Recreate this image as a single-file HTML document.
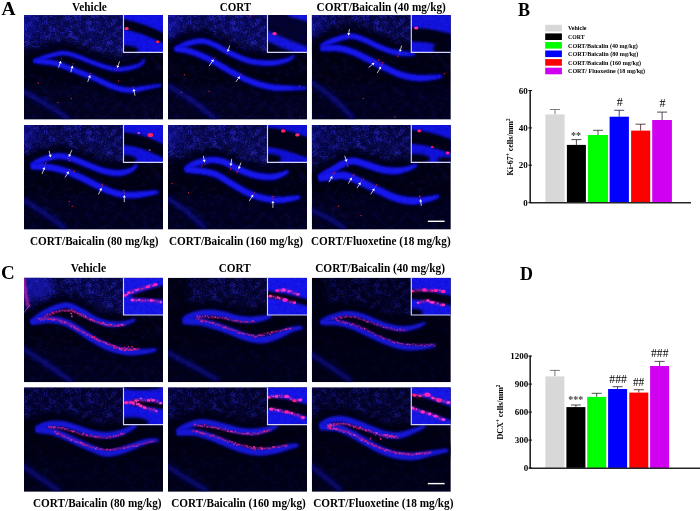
<!DOCTYPE html>
<html lang="en"><head><meta charset="utf-8"><title>Figure</title>
<style>html,body{margin:0;padding:0;background:#fff}svg{display:block}text{font-family:"Liberation Serif","Times New Roman",serif}</style></head><body>
<svg width="700" height="511" viewBox="0 0 700 511">
<defs>
<clipPath id="pc"><rect width="139.0" height="104.5"/></clipPath>
<clipPath id="ic"><rect width="40.0" height="37.5"/></clipPath>
<filter id="b03" filterUnits="userSpaceOnUse" x="-40" y="-40" width="240" height="200"><feGaussianBlur stdDeviation="0.3"/></filter>
<filter id="b05" filterUnits="userSpaceOnUse" x="-40" y="-40" width="240" height="200"><feGaussianBlur stdDeviation="0.5"/></filter>
<filter id="b07" filterUnits="userSpaceOnUse" x="-40" y="-40" width="240" height="200"><feGaussianBlur stdDeviation="0.7"/></filter>
<filter id="b08" filterUnits="userSpaceOnUse" x="-40" y="-40" width="240" height="200"><feGaussianBlur stdDeviation="0.8"/></filter>
<filter id="b1" filterUnits="userSpaceOnUse" x="-40" y="-40" width="240" height="200"><feGaussianBlur stdDeviation="1.0"/></filter>
<filter id="b15" filterUnits="userSpaceOnUse" x="-40" y="-40" width="240" height="200"><feGaussianBlur stdDeviation="1.5"/></filter>
<filter id="b2" filterUnits="userSpaceOnUse" x="-40" y="-40" width="240" height="200"><feGaussianBlur stdDeviation="2"/></filter>
<filter id="b3" filterUnits="userSpaceOnUse" x="-40" y="-40" width="240" height="200"><feGaussianBlur stdDeviation="3"/></filter>
<filter id="b4" filterUnits="userSpaceOnUse" x="-40" y="-40" width="240" height="200"><feGaussianBlur stdDeviation="4.5"/></filter>
<filter id="nz" x="0" y="0" width="100%" height="100%"><feTurbulence type="fractalNoise" baseFrequency="0.16" numOctaves="2" seed="7" result="a"/><feTurbulence type="fractalNoise" baseFrequency="0.8" numOctaves="1" seed="11" result="b"/><feComposite in="a" in2="b" operator="arithmetic" k1="0" k2="0.5" k3="0.5" k4="0" result="c"/><feColorMatrix in="c" type="matrix" values="0 0 0 0 0.02  0 0 0 0 0.02  0 0 0 0 0.55  4.2 0 0 0 -1.95"/></filter>
<filter id="nzi" x="0" y="0" width="100%" height="100%"><feTurbulence type="fractalNoise" baseFrequency="0.35" numOctaves="2" seed="3"/><feColorMatrix type="matrix" values="0 0 0 0 0.0  0 0 0 0 0.0  0 0 0 0 0.35  2.2 0 0 0 -0.9"/></filter>
</defs>
<rect width="700" height="511" fill="#fff"/>
<g transform="translate(24.0,15.1)" clip-path="url(#pc)">
<rect width="139.0" height="104.5" fill="#010112"/>
<mask id="mA1" maskUnits="userSpaceOnUse" x="0" y="0" width="139.0" height="104.5"><rect width="139.0" height="104.5" fill="#3a3a3a"/><path d="M-5.0 37.0C-2.5 36.5 5.0 35.3 10.0 34.0C15.0 32.7 20.0 30.3 25.0 29.0C30.0 27.7 35.0 25.8 40.0 26.0C45.0 26.2 50.0 28.3 55.0 30.0C60.0 31.7 64.2 34.0 70.0 36.0C75.8 38.0 84.2 41.2 90.0 42.0C95.8 42.8 100.5 41.8 105.0 41.0C109.5 40.2 114.5 38.5 117.0 37.0C119.5 35.5 115.5 33.8 120.0 32.0C124.5 30.2 140.0 32.2 144.0 26.0C148.0 19.8 168.8 0.2 144.0 -5.0C119.2 -10.2 19.8 -5.0 -5.0 -5.0Z" fill="#fff" filter="url(#b3)"/></mask>
<path d="M-5.0 37.0C-2.5 36.5 5.0 35.3 10.0 34.0C15.0 32.7 20.0 30.3 25.0 29.0C30.0 27.7 35.0 25.8 40.0 26.0C45.0 26.2 50.0 28.3 55.0 30.0C60.0 31.7 64.2 34.0 70.0 36.0C75.8 38.0 84.2 41.2 90.0 42.0C95.8 42.8 100.5 41.8 105.0 41.0C109.5 40.2 114.5 38.5 117.0 37.0C119.5 35.5 115.5 33.8 120.0 32.0C124.5 30.2 140.0 32.2 144.0 26.0C148.0 19.8 168.8 0.2 144.0 -5.0C119.2 -10.2 19.8 -5.0 -5.0 -5.0Z" fill="#08087c" opacity="0.54" filter="url(#b4)"/>
<ellipse cx="3" cy="8" rx="9" ry="14" fill="#1010a8" opacity="0.60" filter="url(#b4)"/>
<rect x="-5" y="70.5" width="149.0" height="40" fill="#070760" opacity="0.17" filter="url(#b4)"/>
<path d="M-2.0 76.0C1.7 78.0 12.2 83.3 20.0 88.0C27.8 92.7 40.8 101.3 45.0 104.0" stroke="#1010a8" stroke-width="4.5" fill="none" opacity="0.75" filter="url(#b2)"/>
<rect width="139.0" height="104.5" filter="url(#nz)" mask="url(#mA1)" opacity="0.91"/>
<path d="M10.0 46.0C12.5 45.2 20.0 42.3 25.0 41.0C30.0 39.7 35.0 37.8 40.0 38.0C45.0 38.2 50.0 40.3 55.0 42.0C60.0 43.7 64.2 46.0 70.0 48.0C75.8 50.0 84.2 53.2 90.0 54.0C95.8 54.8 100.5 53.8 105.0 53.0C109.5 52.2 114.5 50.5 117.0 49.0C119.5 47.5 119.5 44.8 120.0 44.0" stroke="#020216" stroke-width="15" fill="none" opacity="0.8" stroke-linecap="round" filter="url(#b3)"/>
<path d="M10.0 46.0C13.3 46.3 23.3 46.5 30.0 48.0C36.7 49.5 43.3 52.5 50.0 55.0C56.7 57.5 63.3 60.2 70.0 63.0C76.7 65.8 84.2 70.0 90.0 72.0C95.8 74.0 100.0 74.8 105.0 75.0C110.0 75.2 114.7 73.8 120.0 73.0C125.3 72.2 134.2 70.5 137.0 70.0" stroke="#020216" stroke-width="15" fill="none" opacity="0.8" stroke-linecap="round" filter="url(#b3)"/>
<path d="M10.7 48.1L12.4 47.7L14.8 47.1L17.5 46.4L20.4 45.5L23.2 44.6L25.8 43.8L28.3 43.1L30.8 42.4L33.2 41.8L35.5 41.3L37.7 41.0L39.9 40.9L42.1 41.2L44.3 41.6L46.6 42.3L49.1 43.1L51.5 43.9L54.0 44.8L56.4 45.6L58.7 46.6L61.0 47.6L63.5 48.6L66.1 49.7L69.0 50.8L72.1 51.9L75.5 53.1L79.1 54.2L82.7 55.4L86.2 56.3L89.6 56.9L92.7 57.2L95.6 57.2L98.3 57.1L100.8 56.7L103.2 56.3L105.6 55.9L107.9 55.3L110.3 54.6L112.6 53.8L114.7 52.9L116.6 52.0L118.3 51.0L119.7 49.8L120.6 48.4L121.2 47.0L121.4 45.9L121.5 45.1L121.6 44.6L118.4 43.4L118.0 44.0L117.7 44.8L117.3 45.5L116.9 46.1L116.5 46.6L115.7 47.0L114.5 47.5L112.8 48.1L110.9 48.7L108.8 49.2L106.6 49.7L104.4 50.1L102.2 50.5L100.0 50.9L97.7 51.2L95.4 51.3L93.0 51.3L90.4 51.1L87.6 50.5L84.3 49.7L80.9 48.6L77.4 47.5L74.1 46.3L71.0 45.2L68.3 44.2L65.8 43.2L63.4 42.2L61.0 41.1L58.5 40.1L56.0 39.2L53.5 38.4L50.9 37.5L48.4 36.6L45.7 35.9L42.9 35.3L40.1 35.1L37.3 35.1L34.5 35.5L31.8 36.1L29.2 36.7L26.7 37.5L24.2 38.2L21.5 39.0L18.5 39.9L15.6 41.0L13.0 42.2L10.8 43.2L9.3 43.9Z" fill="#0e0eb0" opacity="0.4" filter="url(#b15)"/>
<path d="M10.3 47.0L12.0 46.6L14.3 45.9L17.1 45.1L20.0 44.3L22.8 43.4L25.5 42.6L27.9 41.9L30.4 41.2L32.9 40.5L35.3 40.0L37.6 39.7L39.9 39.6L42.3 39.9L44.6 40.3L47.0 41.0L49.5 41.8L52.0 42.7L54.4 43.6L56.8 44.4L59.2 45.4L61.5 46.4L64.0 47.4L66.6 48.5L69.4 49.6L72.6 50.6L75.9 51.8L79.5 53.0L83.1 54.1L86.5 55.0L89.8 55.6L92.7 55.9L95.5 55.9L98.2 55.8L100.7 55.4L103.0 55.0L105.3 54.6L107.6 54.1L110.0 53.4L112.2 52.6L114.3 51.8L116.1 50.9L117.6 50.0L118.8 48.9L119.6 47.7L120.1 46.6L120.3 45.6L120.5 44.8L120.6 44.2L119.4 43.8L119.1 44.3L118.8 45.1L118.4 45.9L117.9 46.7L117.3 47.4L116.4 48.0L115.0 48.6L113.3 49.3L111.3 49.9L109.1 50.5L106.9 51.0L104.7 51.4L102.4 51.8L100.2 52.2L97.8 52.5L95.4 52.6L92.9 52.6L90.2 52.4L87.3 51.8L84.0 50.9L80.5 49.9L77.0 48.7L73.6 47.5L70.6 46.4L67.8 45.4L65.3 44.4L62.8 43.4L60.5 42.3L58.0 41.3L55.6 40.4L53.0 39.6L50.5 38.7L48.0 37.9L45.4 37.1L42.7 36.6L40.1 36.4L37.4 36.4L34.7 36.8L32.1 37.3L29.6 38.0L27.1 38.7L24.5 39.4L21.8 40.2L18.9 41.1L16.1 42.2L13.4 43.3L11.2 44.3L9.7 45.0Z" fill="#1414ee" stroke="#1414ee" stroke-width="0.8" stroke-linejoin="round" filter="url(#b08)"/>
<path d="M9.8 48.5L12.0 49.0L15.0 49.4L18.5 49.9L22.2 50.3L25.9 50.8L29.3 51.4L32.4 52.2L35.6 53.2L38.8 54.4L42.1 55.6L45.4 56.9L48.8 58.2L52.1 59.5L55.4 60.8L58.7 62.1L62.0 63.4L65.3 64.8L68.6 66.2L72.0 67.6L75.4 69.3L78.8 70.9L82.3 72.5L85.6 74.0L88.8 75.3L91.8 76.2L94.5 77.0L97.1 77.6L99.7 78.0L102.3 78.3L104.9 78.4L107.7 78.4L110.3 78.2L112.9 77.6L115.4 77.0L117.9 76.4L120.5 75.8L123.4 75.2L126.6 74.5L129.9 73.7L132.9 73.0L135.5 72.4L137.3 71.9L136.7 68.1L134.8 68.3L132.1 68.6L129.0 69.0L125.7 69.5L122.5 69.9L119.5 70.2L116.9 70.5L114.3 70.8L111.8 71.1L109.5 71.3L107.3 71.5L105.1 71.6L102.8 71.4L100.7 71.2L98.5 70.8L96.2 70.3L93.8 69.6L91.2 68.7L88.3 67.6L85.1 66.3L81.8 64.7L78.3 63.0L74.8 61.4L71.4 59.8L68.0 58.4L64.6 57.0L61.3 55.7L57.9 54.3L54.6 53.0L51.2 51.8L47.9 50.5L44.6 49.2L41.2 47.9L37.8 46.7L34.3 45.6L30.7 44.6L26.9 43.9L22.9 43.5L19.0 43.2L15.4 43.2L12.4 43.4L10.2 43.5Z" fill="#0e0eb0" opacity="0.4" filter="url(#b15)"/>
<path d="M9.9 47.3L12.1 47.7L15.1 48.2L18.6 48.7L22.4 49.0L26.1 49.5L29.5 50.1L32.7 50.9L36.0 52.0L39.2 53.1L42.6 54.4L45.9 55.7L49.2 57.0L52.6 58.3L55.9 59.6L59.2 60.9L62.5 62.2L65.8 63.6L69.1 65.0L72.5 66.5L75.9 68.1L79.4 69.8L82.8 71.4L86.1 72.8L89.3 74.0L92.2 75.0L94.8 75.7L97.4 76.3L99.9 76.7L102.4 77.0L105.0 77.1L107.6 77.1L110.2 76.9L112.7 76.4L115.2 75.8L117.7 75.2L120.3 74.6L123.2 74.0L126.4 73.3L129.7 72.6L132.7 71.9L135.3 71.3L137.1 70.8L136.9 69.2L135.0 69.4L132.3 69.7L129.2 70.2L125.9 70.6L122.7 71.1L119.7 71.4L117.1 71.7L114.5 72.1L112.0 72.4L109.7 72.6L107.4 72.8L105.0 72.9L102.7 72.7L100.5 72.5L98.2 72.1L95.9 71.5L93.4 70.8L90.7 70.0L87.8 68.8L84.6 67.5L81.2 65.9L77.8 64.2L74.3 62.6L70.9 61.0L67.5 59.6L64.1 58.2L60.8 56.9L57.5 55.6L54.1 54.3L50.8 53.0L47.4 51.7L44.1 50.4L40.8 49.1L37.4 47.9L33.9 46.8L30.5 45.9L26.8 45.2L22.8 44.8L18.9 44.5L15.3 44.5L12.3 44.6L10.1 44.7Z" fill="#1414ee" stroke="#1414ee" stroke-width="0.8" stroke-linejoin="round" filter="url(#b08)"/>
<circle cx="14.4" cy="67.8" r="0.75" fill="#f02020" opacity="0.85"/>
<circle cx="33.9" cy="87.4" r="0.75" fill="#f02020" opacity="0.85"/>
<circle cx="94.6" cy="65.8" r="0.75" fill="#f02020" opacity="0.85"/>
<circle cx="47.3" cy="83.3" r="0.75" fill="#f02020" opacity="0.85"/>
<path d="M34.5 52.4L36.1 48.1" stroke="#fff" stroke-width="0.75"/>
<path d="M37.0 45.6L37.5 48.6L34.7 47.6Z" fill="#fff"/>
<circle cx="37.6" cy="43.9" r="0.65" fill="#c82048" opacity="0.8"/>
<path d="M46.7 57.2L48.0 52.9" stroke="#fff" stroke-width="0.75"/>
<path d="M48.7 50.4L49.4 53.3L46.5 52.4Z" fill="#fff"/>
<circle cx="49.2" cy="48.6" r="0.65" fill="#c82048" opacity="0.8"/>
<path d="M63.7 66.8L65.3 62.5" stroke="#fff" stroke-width="0.75"/>
<path d="M66.2 60.0L66.7 63.0L63.9 62.0Z" fill="#fff"/>
<circle cx="66.8" cy="58.3" r="0.65" fill="#c82048" opacity="0.8"/>
<path d="M95.6 46.3L94.0 50.6" stroke="#fff" stroke-width="0.75"/>
<path d="M93.1 53.0L92.6 50.1L95.4 51.1Z" fill="#fff"/>
<circle cx="92.5" cy="54.7" r="0.65" fill="#c82048" opacity="0.8"/>
<path d="M111.0 80.6L110.1 76.1" stroke="#fff" stroke-width="0.75"/>
<path d="M109.6 73.6L111.6 75.8L108.6 76.5Z" fill="#fff"/>
<circle cx="109.2" cy="71.8" r="0.65" fill="#c82048" opacity="0.8"/>
<g transform="translate(99.0,0)">
<g clip-path="url(#ic)">
<rect width="40.0" height="37.5" fill="#1212e8"/>
<rect width="40.0" height="37.5" filter="url(#nzi)" opacity="0.35"/>
<path d="M-4.9 7.6C-4.3 7.7 -5.1 7.5 -1.0 8.6C3.1 9.7 12.8 11.9 19.7 14.2C26.6 16.6 36.3 21.2 40.3 22.8C44.4 24.5 43.4 24.1 44.0 24.4" stroke="#020216" stroke-width="9.5" fill="none" filter="url(#b1)"/>
<ellipse cx="3.3" cy="35.3" rx="12.0" ry="5.0" fill="#020216" filter="url(#b15)"/>
<ellipse cx="3.7" cy="13.4" rx="2.1" ry="1.5" fill="#ff2a6a" filter="url(#b07)"/>
<ellipse cx="34.7" cy="26.7" rx="1.8" ry="1.4" fill="#ff2030" filter="url(#b07)"/>
</g>
<path d="M0.5 0V37.3H40.0" stroke="#d4d4f6" stroke-width="1.15" fill="none"/>
</g>
</g>
<g transform="translate(168.0,15.1)" clip-path="url(#pc)">
<rect width="139.0" height="104.5" fill="#010112"/>
<mask id="mA2" maskUnits="userSpaceOnUse" x="0" y="0" width="139.0" height="104.5"><rect width="139.0" height="104.5" fill="#3a3a3a"/><path d="M-5.0 25.0C-3.0 24.5 2.7 23.5 7.0 22.0C11.3 20.5 16.3 17.3 21.0 16.0C25.7 14.7 30.7 13.7 35.0 14.0C39.3 14.3 42.5 16.0 47.0 18.0C51.5 20.0 56.2 23.3 62.0 26.0C67.8 28.7 75.2 32.3 82.0 34.0C88.8 35.7 96.8 36.2 103.0 36.0C109.2 35.8 115.2 34.2 119.0 33.0C122.8 31.8 121.8 30.7 126.0 29.0C130.2 27.3 141.0 28.7 144.0 23.0C147.0 17.3 168.8 -0.3 144.0 -5.0C119.2 -9.7 19.8 -5.0 -5.0 -5.0Z" fill="#fff" filter="url(#b3)"/></mask>
<path d="M-5.0 25.0C-3.0 24.5 2.7 23.5 7.0 22.0C11.3 20.5 16.3 17.3 21.0 16.0C25.7 14.7 30.7 13.7 35.0 14.0C39.3 14.3 42.5 16.0 47.0 18.0C51.5 20.0 56.2 23.3 62.0 26.0C67.8 28.7 75.2 32.3 82.0 34.0C88.8 35.7 96.8 36.2 103.0 36.0C109.2 35.8 115.2 34.2 119.0 33.0C122.8 31.8 121.8 30.7 126.0 29.0C130.2 27.3 141.0 28.7 144.0 23.0C147.0 17.3 168.8 -0.3 144.0 -5.0C119.2 -9.7 19.8 -5.0 -5.0 -5.0Z" fill="#08087c" opacity="0.58" filter="url(#b4)"/>
<ellipse cx="3" cy="8" rx="9" ry="14" fill="#1010a8" opacity="0.64" filter="url(#b4)"/>
<rect x="-5" y="70.5" width="149.0" height="40" fill="#070760" opacity="0.18" filter="url(#b4)"/>
<path d="M-2.0 69.0C2.0 71.5 13.7 78.2 22.0 84.0C30.3 89.8 43.7 100.7 48.0 104.0" stroke="#1010a8" stroke-width="4.5" fill="none" opacity="0.75" filter="url(#b2)"/>
<rect width="139.0" height="104.5" filter="url(#nz)" mask="url(#mA2)" opacity="0.95"/>
<path d="M7.0 34.0C9.3 33.0 16.3 29.3 21.0 28.0C25.7 26.7 30.7 25.7 35.0 26.0C39.3 26.3 42.5 28.0 47.0 30.0C51.5 32.0 56.2 35.3 62.0 38.0C67.8 40.7 75.2 44.3 82.0 46.0C88.8 47.7 96.8 48.2 103.0 48.0C109.2 47.8 115.2 46.2 119.0 45.0C122.8 43.8 124.8 41.7 126.0 41.0" stroke="#020216" stroke-width="15" fill="none" opacity="0.8" stroke-linecap="round" filter="url(#b3)"/>
<path d="M7.0 34.0C9.3 34.3 15.3 34.3 21.0 36.0C26.7 37.7 34.2 40.7 41.0 44.0C47.8 47.3 55.2 52.3 62.0 56.0C68.8 59.7 75.2 63.3 82.0 66.0C88.8 68.7 96.2 70.8 103.0 72.0C109.8 73.2 117.2 72.8 123.0 73.0C128.8 73.2 135.5 73.0 138.0 73.0" stroke="#020216" stroke-width="15" fill="none" opacity="0.8" stroke-linecap="round" filter="url(#b3)"/>
<path d="M8.1 36.3L9.7 35.8L11.9 35.0L14.5 34.1L17.2 33.1L19.7 32.1L22.0 31.3L24.2 30.7L26.4 30.2L28.7 29.8L30.8 29.5L32.8 29.4L34.7 29.4L36.5 29.7L38.1 30.1L39.7 30.6L41.5 31.3L43.4 32.2L45.5 33.1L47.7 34.2L49.9 35.4L52.3 36.7L54.8 38.2L57.6 39.7L60.5 41.1L63.6 42.5L66.8 44.0L70.3 45.6L73.8 47.0L77.5 48.3L81.2 49.3L84.9 50.1L88.7 50.7L92.5 51.1L96.2 51.4L99.7 51.5L103.1 51.4L106.4 51.2L109.5 50.6L112.5 49.9L115.2 49.2L117.7 48.4L119.9 47.6L121.8 46.7L123.5 45.7L124.8 44.7L125.8 43.8L126.6 43.1L127.1 42.6L124.9 39.4L124.1 39.8L123.2 40.3L122.2 40.9L121.1 41.4L119.7 42.0L118.1 42.4L116.1 42.9L113.8 43.4L111.2 43.8L108.5 44.2L105.7 44.4L102.9 44.6L99.8 44.6L96.5 44.5L93.0 44.3L89.6 43.9L86.1 43.3L82.8 42.7L79.6 41.7L76.3 40.6L73.0 39.2L69.7 37.7L66.5 36.3L63.5 34.9L60.8 33.6L58.2 32.2L55.7 30.8L53.3 29.4L50.9 28.0L48.5 26.9L46.3 25.9L44.2 25.0L42.1 24.1L40.0 23.4L37.7 22.9L35.3 22.6L32.7 22.5L30.2 22.6L27.6 23.0L25.0 23.4L22.5 24.0L20.0 24.7L17.3 25.6L14.5 26.8L11.8 28.1L9.3 29.6L7.3 30.8L5.9 31.7Z" fill="#0e0eb0" opacity="0.4" filter="url(#b15)"/>
<path d="M7.6 35.2L9.2 34.7L11.4 33.9L14.0 32.9L16.7 31.9L19.3 30.9L21.6 30.1L23.9 29.5L26.2 28.9L28.5 28.5L30.7 28.2L32.8 28.1L34.8 28.1L36.7 28.4L38.4 28.8L40.2 29.4L42.0 30.1L44.0 31.0L46.1 31.9L48.3 33.0L50.5 34.2L52.9 35.6L55.5 37.1L58.2 38.5L61.1 39.9L64.1 41.4L67.4 42.8L70.8 44.4L74.3 45.8L77.9 47.1L81.5 48.1L85.1 48.9L88.8 49.4L92.6 49.8L96.2 50.1L99.8 50.2L103.1 50.1L106.3 49.9L109.3 49.4L112.3 48.7L114.9 48.0L117.4 47.2L119.5 46.4L121.3 45.6L122.9 44.7L124.2 43.8L125.1 42.9L125.9 42.2L126.5 41.7L125.5 40.3L124.8 40.7L123.9 41.2L122.8 41.8L121.6 42.5L120.2 43.1L118.5 43.6L116.5 44.0L114.1 44.6L111.5 45.0L108.7 45.5L105.9 45.7L102.9 45.9L99.8 45.9L96.4 45.8L92.9 45.5L89.4 45.2L85.9 44.6L82.5 43.9L79.2 43.0L75.8 41.8L72.5 40.4L69.1 38.9L65.9 37.5L62.9 36.1L60.2 34.7L57.6 33.3L55.1 31.9L52.6 30.5L50.3 29.2L47.9 28.1L45.7 27.1L43.7 26.2L41.7 25.4L39.6 24.7L37.5 24.2L35.2 23.9L32.7 23.8L30.3 23.9L27.8 24.3L25.3 24.7L22.8 25.3L20.4 25.9L17.8 26.8L15.0 27.9L12.3 29.3L9.9 30.7L7.9 31.9L6.4 32.8Z" fill="#1414ee" stroke="#1414ee" stroke-width="0.8" stroke-linejoin="round" filter="url(#b08)"/>
<path d="M6.7 36.7L8.2 37.1L10.1 37.6L12.4 38.1L14.8 38.5L17.4 38.9L20.0 39.6L22.8 40.4L25.9 41.5L29.2 42.8L32.6 44.2L36.0 45.7L39.4 47.3L42.7 49.0L46.1 51.0L49.6 53.1L53.1 55.2L56.7 57.3L60.2 59.2L63.6 61.1L67.0 62.9L70.3 64.7L73.7 66.4L77.1 68.0L80.6 69.4L84.2 70.8L87.8 72.0L91.5 73.1L95.1 74.1L98.8 75.0L102.4 75.7L106.1 76.1L109.7 76.4L113.3 76.4L116.7 76.3L119.9 76.1L122.9 76.0L125.9 75.9L128.9 75.8L131.8 75.6L134.3 75.4L136.4 75.2L138.0 75.0L138.0 71.0L136.4 70.8L134.3 70.7L131.7 70.5L128.9 70.4L126.0 70.2L123.1 70.0L120.0 69.8L116.8 69.6L113.5 69.3L110.1 69.0L106.8 68.8L103.6 68.3L100.3 67.7L96.9 66.9L93.5 66.0L90.1 65.0L86.7 63.8L83.4 62.6L80.1 61.2L76.9 59.7L73.7 58.1L70.5 56.4L67.1 54.6L63.8 52.8L60.4 50.9L56.9 48.8L53.4 46.7L49.8 44.6L46.2 42.5L42.6 40.7L39.1 39.0L35.5 37.4L31.9 35.9L28.5 34.6L25.2 33.4L22.0 32.4L18.9 31.7L15.9 31.2L13.1 30.9L10.7 31.0L8.7 31.2L7.3 31.3Z" fill="#0e0eb0" opacity="0.4" filter="url(#b15)"/>
<path d="M6.8 35.5L8.3 35.9L10.2 36.3L12.5 36.8L15.0 37.2L17.7 37.6L20.3 38.3L23.2 39.2L26.4 40.3L29.7 41.6L33.1 43.0L36.5 44.5L39.9 46.2L43.3 47.9L46.8 49.9L50.3 51.9L53.8 54.1L57.4 56.2L60.8 58.1L64.2 59.9L67.6 61.7L70.9 63.5L74.2 65.2L77.7 66.8L81.1 68.2L84.6 69.6L88.2 70.8L91.8 71.9L95.5 72.8L99.0 73.7L102.6 74.4L106.2 74.9L109.8 75.1L113.3 75.1L116.7 75.0L119.9 74.9L123.0 74.8L125.9 74.7L128.9 74.6L131.8 74.4L134.3 74.2L136.4 74.1L138.0 73.9L138.0 72.1L136.4 72.0L134.3 71.8L131.7 71.7L128.9 71.6L126.0 71.4L123.0 71.2L120.0 71.0L116.8 70.8L113.4 70.6L110.1 70.3L106.7 70.1L103.4 69.6L100.0 69.0L96.6 68.2L93.2 67.3L89.7 66.2L86.3 65.0L82.9 63.8L79.6 62.4L76.3 60.9L73.1 59.2L69.8 57.5L66.5 55.7L63.2 53.9L59.7 52.0L56.3 49.9L52.7 47.8L49.2 45.7L45.6 43.7L42.1 41.8L38.5 40.2L35.0 38.6L31.5 37.1L28.0 35.8L24.7 34.7L21.7 33.7L18.7 32.9L15.7 32.4L13.0 32.2L10.6 32.2L8.6 32.4L7.2 32.5Z" fill="#1414ee" stroke="#1414ee" stroke-width="0.8" stroke-linejoin="round" filter="url(#b08)"/>
<circle cx="16.4" cy="59.6" r="0.75" fill="#f02020" opacity="0.85"/>
<circle cx="41.1" cy="76.1" r="0.75" fill="#f02020" opacity="0.85"/>
<circle cx="13.4" cy="77.1" r="0.75" fill="#f02020" opacity="0.85"/>
<circle cx="82.2" cy="1.0" r="0.75" fill="#f02020" opacity="0.85"/>
<circle cx="131.6" cy="70.9" r="0.75" fill="#f02020" opacity="0.85"/>
<path d="M61.7 30.4L60.4 34.5" stroke="#fff" stroke-width="0.75"/>
<path d="M59.6 37.0L59.0 34.1L61.8 35.0Z" fill="#fff"/>
<circle cx="59.1" cy="38.7" r="0.65" fill="#c82048" opacity="0.8"/>
<path d="M41.1 51.0L44.2 46.4" stroke="#fff" stroke-width="0.75"/>
<path d="M45.6 44.2L45.4 47.2L43.0 45.5Z" fill="#fff"/>
<circle cx="46.6" cy="42.7" r="0.65" fill="#c82048" opacity="0.8"/>
<path d="M67.8 66.8L70.4 63.2" stroke="#fff" stroke-width="0.75"/>
<path d="M72.0 61.1L71.7 64.0L69.2 62.3Z" fill="#fff"/>
<circle cx="73.0" cy="59.6" r="0.65" fill="#c82048" opacity="0.8"/>
<g transform="translate(99.0,0)">
<g clip-path="url(#ic)">
<rect width="40.0" height="37.5" fill="#030326"/>
<path d="M-3.4 19.1C-2.8 19.3 -3.3 19.1 0.3 20.7C3.8 22.3 11.4 25.8 17.9 28.4C24.4 31.1 35.1 35.0 39.2 36.6C43.4 38.2 42.3 37.8 43.0 38.1" stroke="#1414e6" stroke-width="9.5" fill="none" filter="url(#b15)"/>
<path d="M21.0 -2.9C21.6 -2.7 21.8 -2.6 24.8 -1.7C27.9 -0.8 36.2 1.7 39.2 2.6C42.3 3.5 42.4 3.5 43.1 3.7" stroke="#1414e6" stroke-width="7.0" fill="none" filter="url(#b15)"/>
<rect width="40.0" height="37.5" filter="url(#nzi)" opacity="0.35"/>
<ellipse cx="1.6" cy="34.9" rx="8.0" ry="5.0" fill="#020216" filter="url(#b15)"/>
<ellipse cx="7.6" cy="18.5" rx="2.2" ry="1.6" fill="#ff2a8a" filter="url(#b07)"/>
</g>
<path d="M0.5 0V37.3H40.0" stroke="#d4d4f6" stroke-width="1.15" fill="none"/>
</g>
</g>
<g transform="translate(311.8,15.1)" clip-path="url(#pc)">
<rect width="139.0" height="104.5" fill="#010112"/>
<mask id="mA3" maskUnits="userSpaceOnUse" x="0" y="0" width="139.0" height="104.5"><rect width="139.0" height="104.5" fill="#3a3a3a"/><path d="M-5.0 22.0C-2.7 21.5 4.3 20.5 9.0 19.0C13.7 17.5 18.0 14.7 23.0 13.0C28.0 11.3 34.0 9.0 39.0 9.0C44.0 9.0 48.2 11.2 53.0 13.0C57.8 14.8 63.2 18.0 68.0 20.0C72.8 22.0 77.2 23.8 82.0 25.0C86.8 26.2 93.5 26.7 97.0 27.0C100.5 27.3 95.2 28.0 103.0 27.0C110.8 26.0 137.2 26.3 144.0 21.0C150.8 15.7 168.8 -0.7 144.0 -5.0C119.2 -9.3 19.8 -5.0 -5.0 -5.0Z" fill="#fff" filter="url(#b3)"/></mask>
<path d="M-5.0 22.0C-2.7 21.5 4.3 20.5 9.0 19.0C13.7 17.5 18.0 14.7 23.0 13.0C28.0 11.3 34.0 9.0 39.0 9.0C44.0 9.0 48.2 11.2 53.0 13.0C57.8 14.8 63.2 18.0 68.0 20.0C72.8 22.0 77.2 23.8 82.0 25.0C86.8 26.2 93.5 26.7 97.0 27.0C100.5 27.3 95.2 28.0 103.0 27.0C110.8 26.0 137.2 26.3 144.0 21.0C150.8 15.7 168.8 -0.7 144.0 -5.0C119.2 -9.3 19.8 -5.0 -5.0 -5.0Z" fill="#08087c" opacity="0.43" filter="url(#b4)"/>
<ellipse cx="3" cy="8" rx="9" ry="14" fill="#1010a8" opacity="0.48" filter="url(#b4)"/>
<rect x="-5" y="70.5" width="149.0" height="40" fill="#070760" opacity="0.13" filter="url(#b4)"/>
<path d="M-2.0 66.0C1.7 68.7 12.7 75.7 20.0 82.0C27.3 88.3 38.3 100.3 42.0 104.0" stroke="#1010a8" stroke-width="4.5" fill="none" opacity="0.75" filter="url(#b2)"/>
<rect width="139.0" height="104.5" filter="url(#nz)" mask="url(#mA3)" opacity="0.80"/>
<path d="M9.0 31.0C11.3 30.0 18.0 26.7 23.0 25.0C28.0 23.3 34.0 21.0 39.0 21.0C44.0 21.0 48.2 23.2 53.0 25.0C57.8 26.8 63.2 30.0 68.0 32.0C72.8 34.0 77.2 35.8 82.0 37.0C86.8 38.2 93.5 38.7 97.0 39.0C100.5 39.3 102.0 39.0 103.0 39.0" stroke="#020216" stroke-width="15" fill="none" opacity="0.8" stroke-linecap="round" filter="url(#b3)"/>
<path d="M9.0 34.0C11.7 33.8 19.7 32.5 25.0 33.0C30.3 33.5 35.5 35.0 41.0 37.0C46.5 39.0 52.5 42.3 58.0 45.0C63.5 47.7 68.7 50.5 74.0 53.0C79.3 55.5 84.5 58.3 90.0 60.0C95.5 61.7 101.5 62.7 107.0 63.0C112.5 63.3 119.2 62.3 123.0 62.0C126.8 61.7 128.8 61.2 130.0 61.0" stroke="#020216" stroke-width="15" fill="none" opacity="0.8" stroke-linecap="round" filter="url(#b3)"/>
<path d="M10.0 33.3L11.7 32.9L13.9 32.2L16.4 31.3L19.0 30.2L21.6 29.2L24.1 28.3L26.7 27.4L29.3 26.5L31.9 25.7L34.5 25.0L36.9 24.6L39.0 24.4L41.0 24.6L42.9 25.0L45.0 25.6L47.1 26.4L49.4 27.3L51.7 28.2L54.1 29.2L56.5 30.3L59.0 31.5L61.5 32.8L64.1 34.0L66.6 35.2L69.1 36.2L71.4 37.1L73.8 38.0L76.2 38.9L78.7 39.7L81.2 40.4L83.9 40.9L86.8 41.4L89.6 41.6L92.3 41.7L94.7 41.8L96.8 41.8L98.5 41.8L99.9 41.7L101.0 41.5L101.9 41.3L102.6 41.1L103.1 40.9L102.9 37.1L102.3 36.9L101.6 36.8L100.8 36.7L99.9 36.6L98.7 36.4L97.2 36.2L95.3 35.8L92.9 35.5L90.4 35.0L87.7 34.6L85.2 34.1L82.8 33.6L80.6 33.1L78.4 32.4L76.2 31.6L74.0 30.7L71.7 29.8L69.4 28.8L67.0 27.8L64.6 26.6L62.0 25.3L59.5 24.1L56.8 22.9L54.3 21.8L51.9 20.9L49.6 19.9L47.2 19.0L44.6 18.3L41.9 17.7L39.0 17.6L36.0 17.8L33.0 18.3L30.1 19.1L27.2 19.9L24.5 20.9L21.9 21.7L19.1 22.7L16.3 23.9L13.6 25.2L11.3 26.6L9.3 27.8L8.0 28.7Z" fill="#0e0eb0" opacity="0.4" filter="url(#b15)"/>
<path d="M9.5 32.2L11.2 31.8L13.3 31.0L15.9 30.2L18.5 29.1L21.2 28.0L23.7 27.0L26.3 26.2L28.9 25.3L31.6 24.4L34.2 23.8L36.7 23.3L39.0 23.1L41.2 23.3L43.3 23.7L45.4 24.4L47.6 25.2L49.8 26.1L52.2 27.0L54.6 28.0L57.0 29.1L59.5 30.4L62.1 31.6L64.6 32.9L67.2 34.0L69.6 35.0L71.9 35.9L74.3 36.8L76.6 37.7L79.0 38.4L81.5 39.1L84.2 39.6L87.0 40.1L89.8 40.3L92.4 40.5L94.8 40.6L96.9 40.6L98.5 40.6L99.9 40.5L101.0 40.3L101.9 40.2L102.5 40.0L103.0 39.8L103.0 38.2L102.4 38.1L101.7 38.0L100.9 37.9L99.9 37.8L98.7 37.6L97.1 37.4L95.2 37.1L92.8 36.7L90.2 36.3L87.6 35.8L84.9 35.4L82.5 34.9L80.2 34.3L78.0 33.6L75.7 32.8L73.5 31.9L71.2 31.0L68.8 30.0L66.4 29.0L64.0 27.8L61.5 26.5L58.9 25.2L56.3 24.0L53.8 23.0L51.4 22.1L49.1 21.1L46.7 20.3L44.3 19.5L41.7 19.0L39.0 18.9L36.2 19.0L33.3 19.6L30.4 20.3L27.6 21.2L24.9 22.1L22.3 23.0L19.6 23.9L16.8 25.1L14.1 26.3L11.8 27.7L9.8 28.9L8.5 29.8Z" fill="#1414ee" stroke="#1414ee" stroke-width="0.8" stroke-linejoin="round" filter="url(#b08)"/>
<path d="M9.3 36.8L11.1 37.0L13.5 37.0L16.4 37.0L19.3 36.9L22.1 36.8L24.7 36.9L27.1 37.2L29.5 37.7L31.9 38.3L34.5 39.0L37.0 39.8L39.6 40.7L42.3 41.7L45.0 43.0L47.8 44.3L50.6 45.7L53.4 47.2L56.2 48.5L59.0 49.9L61.6 51.2L64.3 52.6L66.9 53.9L69.6 55.3L72.3 56.6L74.9 57.8L77.6 59.1L80.3 60.4L83.1 61.6L85.9 62.8L88.8 63.8L91.8 64.6L94.8 65.3L97.8 65.9L100.8 66.4L103.8 66.7L106.8 66.9L109.9 66.9L112.9 66.7L115.9 66.3L118.7 65.9L121.2 65.4L123.3 65.1L125.1 64.7L126.6 64.4L127.9 64.0L128.9 63.7L129.7 63.4L130.3 63.1L129.7 58.9L128.9 58.9L128.1 58.9L127.1 58.9L125.9 58.9L124.4 58.9L122.7 58.9L120.5 59.0L118.0 59.1L115.3 59.2L112.5 59.2L109.8 59.2L107.2 59.1L104.6 58.8L101.9 58.5L99.2 58.1L96.5 57.6L93.8 57.0L91.2 56.2L88.6 55.4L86.1 54.4L83.6 53.2L81.0 52.0L78.4 50.7L75.7 49.4L73.1 48.2L70.5 46.9L67.9 45.5L65.2 44.2L62.5 42.8L59.8 41.5L57.0 40.1L54.1 38.7L51.2 37.2L48.3 35.8L45.3 34.5L42.4 33.3L39.5 32.3L36.7 31.4L33.9 30.6L31.1 29.9L28.3 29.4L25.3 29.1L22.1 28.9L18.8 29.1L15.6 29.5L12.8 30.1L10.4 30.7L8.7 31.2Z" fill="#0e0eb0" opacity="0.4" filter="url(#b15)"/>
<path d="M9.2 35.6L10.9 35.7L13.4 35.7L16.2 35.7L19.2 35.6L22.1 35.5L24.8 35.6L27.3 36.0L29.8 36.4L32.3 37.0L34.8 37.7L37.4 38.6L40.1 39.5L42.8 40.5L45.5 41.8L48.3 43.1L51.2 44.6L54.0 46.0L56.8 47.4L59.5 48.7L62.2 50.1L64.9 51.4L67.5 52.8L70.2 54.1L72.9 55.4L75.5 56.7L78.1 57.9L80.8 59.2L83.6 60.4L86.4 61.6L89.2 62.5L92.1 63.3L95.1 64.0L98.0 64.6L101.0 65.1L104.0 65.4L106.9 65.6L109.8 65.7L112.9 65.4L115.8 65.0L118.6 64.6L121.1 64.2L123.2 63.9L125.0 63.5L126.5 63.2L127.7 62.9L128.7 62.5L129.5 62.2L130.2 62.0L129.8 60.0L129.1 60.0L128.3 60.0L127.3 60.0L126.0 60.1L124.6 60.1L122.8 60.1L120.7 60.2L118.2 60.3L115.4 60.5L112.6 60.5L109.8 60.5L107.1 60.4L104.5 60.1L101.7 59.8L99.0 59.4L96.2 58.9L93.4 58.2L90.8 57.5L88.2 56.6L85.6 55.6L83.0 54.4L80.4 53.2L77.8 51.9L75.1 50.6L72.5 49.3L69.9 48.0L67.3 46.7L64.6 45.3L61.9 44.0L59.2 42.6L56.4 41.3L53.6 39.8L50.7 38.4L47.7 37.0L44.8 35.7L41.9 34.5L39.1 33.5L36.4 32.6L33.6 31.9L30.8 31.2L28.1 30.7L25.2 30.4L22.1 30.2L18.9 30.4L15.8 30.8L12.9 31.4L10.5 31.9L8.8 32.4Z" fill="#1414ee" stroke="#1414ee" stroke-width="0.8" stroke-linejoin="round" filter="url(#b08)"/>
<circle cx="66.8" cy="44.8" r="0.75" fill="#f02020" opacity="0.85"/>
<circle cx="70.9" cy="47.7" r="0.75" fill="#f02020" opacity="0.85"/>
<circle cx="86.3" cy="41.1" r="0.75" fill="#f02020" opacity="0.85"/>
<circle cx="51.4" cy="83.3" r="0.75" fill="#f02020" opacity="0.85"/>
<circle cx="132.6" cy="58.6" r="0.75" fill="#f02020" opacity="0.85"/>
<circle cx="83.3" cy="101.8" r="0.75" fill="#f02020" opacity="0.85"/>
<path d="M37.6 14.0L37.0 18.0" stroke="#fff" stroke-width="0.75"/>
<path d="M36.6 20.6L35.5 17.8L38.5 18.2Z" fill="#fff"/>
<circle cx="36.3" cy="22.3" r="0.65" fill="#c82048" opacity="0.8"/>
<path d="M89.8 30.4L88.7 34.5" stroke="#fff" stroke-width="0.75"/>
<path d="M88.0 37.0L87.3 34.1L90.1 34.9Z" fill="#fff"/>
<circle cx="87.5" cy="38.7" r="0.65" fill="#c82048" opacity="0.8"/>
<path d="M56.9 52.4L60.7 49.3" stroke="#fff" stroke-width="0.75"/>
<path d="M62.7 47.7L61.6 50.5L59.7 48.2Z" fill="#fff"/>
<circle cx="64.1" cy="46.6" r="0.65" fill="#c82048" opacity="0.8"/>
<path d="M65.4 58.0L68.0 53.6" stroke="#fff" stroke-width="0.75"/>
<path d="M69.3 51.4L69.2 54.4L66.7 52.9Z" fill="#fff"/>
<circle cx="70.2" cy="49.9" r="0.65" fill="#c82048" opacity="0.8"/>
<g transform="translate(99.0,0)">
<g clip-path="url(#ic)">
<rect width="40.0" height="37.5" fill="#1414e0"/>
<rect width="40.0" height="37.5" filter="url(#nzi)" opacity="0.35"/>
<path d="M-3.7 19.1C-3.1 19.2 -3.4 19.1 0.3 19.4C3.9 19.7 11.4 19.7 17.9 20.7C24.4 21.7 35.0 24.5 39.2 25.4C43.4 26.4 42.5 26.2 43.1 26.3" stroke="#020216" stroke-width="13.5" fill="none" filter="url(#b1)"/>
<ellipse cx="34.3" cy="33.2" rx="12.0" ry="8.0" fill="#020216" filter="url(#b15)"/>
<ellipse cx="5.4" cy="12.9" rx="2.1" ry="1.5" fill="#ff30a0" filter="url(#b07)"/>
</g>
<path d="M0.5 0V37.3H40.0" stroke="#d4d4f6" stroke-width="1.15" fill="none"/>
</g>
</g>
<g transform="translate(24.0,125.0)" clip-path="url(#pc)">
<rect width="139.0" height="104.5" fill="#010112"/>
<mask id="mA4" maskUnits="userSpaceOnUse" x="0" y="0" width="139.0" height="104.5"><rect width="139.0" height="104.5" fill="#3a3a3a"/><path d="M-5.0 31.0C-3.0 30.5 2.7 29.5 7.0 28.0C11.3 26.5 16.3 23.5 21.0 22.0C25.7 20.5 30.3 19.0 35.0 19.0C39.7 19.0 44.2 20.5 49.0 22.0C53.8 23.5 58.8 26.0 64.0 28.0C69.2 30.0 74.8 32.7 80.0 34.0C85.2 35.3 90.5 36.2 95.0 36.0C99.5 35.8 104.0 34.3 107.0 33.0C110.0 31.7 106.8 29.8 113.0 28.0C119.2 26.2 138.8 27.5 144.0 22.0C149.2 16.5 168.8 -0.5 144.0 -5.0C119.2 -9.5 19.8 -5.0 -5.0 -5.0Z" fill="#fff" filter="url(#b3)"/></mask>
<path d="M-5.0 31.0C-3.0 30.5 2.7 29.5 7.0 28.0C11.3 26.5 16.3 23.5 21.0 22.0C25.7 20.5 30.3 19.0 35.0 19.0C39.7 19.0 44.2 20.5 49.0 22.0C53.8 23.5 58.8 26.0 64.0 28.0C69.2 30.0 74.8 32.7 80.0 34.0C85.2 35.3 90.5 36.2 95.0 36.0C99.5 35.8 104.0 34.3 107.0 33.0C110.0 31.7 106.8 29.8 113.0 28.0C119.2 26.2 138.8 27.5 144.0 22.0C149.2 16.5 168.8 -0.5 144.0 -5.0C119.2 -9.5 19.8 -5.0 -5.0 -5.0Z" fill="#08087c" opacity="0.47" filter="url(#b4)"/>
<ellipse cx="3" cy="8" rx="9" ry="14" fill="#1010a8" opacity="0.52" filter="url(#b4)"/>
<rect x="-5" y="70.5" width="149.0" height="40" fill="#070760" opacity="0.14" filter="url(#b4)"/>
<path d="M-2.0 74.0C1.7 76.3 12.7 83.0 20.0 88.0C27.3 93.0 38.3 101.3 42.0 104.0" stroke="#1010a8" stroke-width="4.5" fill="none" opacity="0.75" filter="url(#b2)"/>
<rect width="139.0" height="104.5" filter="url(#nz)" mask="url(#mA4)" opacity="0.84"/>
<path d="M7.0 40.0C9.3 39.0 16.3 35.5 21.0 34.0C25.7 32.5 30.3 31.0 35.0 31.0C39.7 31.0 44.2 32.5 49.0 34.0C53.8 35.5 58.8 38.0 64.0 40.0C69.2 42.0 74.8 44.7 80.0 46.0C85.2 47.3 90.5 48.2 95.0 48.0C99.5 47.8 104.0 46.3 107.0 45.0C110.0 43.7 112.0 40.8 113.0 40.0" stroke="#020216" stroke-width="15" fill="none" opacity="0.8" stroke-linecap="round" filter="url(#b3)"/>
<path d="M7.0 42.0C9.7 42.0 17.3 41.3 23.0 42.0C28.7 42.7 34.8 44.0 41.0 46.0C47.2 48.0 53.8 51.2 60.0 54.0C66.2 56.8 72.2 60.5 78.0 63.0C83.8 65.5 89.5 67.8 95.0 69.0C100.5 70.2 105.7 70.2 111.0 70.0C116.3 69.8 123.2 68.5 127.0 68.0C130.8 67.5 132.8 67.2 134.0 67.0" stroke="#020216" stroke-width="15" fill="none" opacity="0.8" stroke-linecap="round" filter="url(#b3)"/>
<path d="M8.1 42.5L9.8 42.0L12.0 41.3L14.6 40.4L17.3 39.5L19.9 38.4L22.2 37.6L24.4 36.8L26.7 36.2L28.9 35.6L31.0 35.1L33.0 34.9L35.0 34.8L37.0 34.9L39.0 35.1L41.1 35.6L43.2 36.2L45.5 36.8L47.8 37.6L50.1 38.4L52.5 39.3L54.9 40.3L57.4 41.3L60.0 42.4L62.6 43.5L65.2 44.5L67.9 45.6L70.6 46.7L73.4 47.8L76.2 48.8L79.0 49.6L81.8 50.3L84.5 50.8L87.2 51.3L89.9 51.6L92.6 51.8L95.2 51.7L97.7 51.5L100.1 50.9L102.4 50.2L104.6 49.4L106.5 48.6L108.3 47.7L109.9 46.6L111.3 45.3L112.5 44.1L113.4 43.0L114.0 42.1L114.4 41.5L111.6 38.5L110.8 39.0L110.0 39.8L109.0 40.5L108.0 41.3L106.9 41.9L105.7 42.3L104.3 42.8L102.5 43.3L100.7 43.7L98.7 44.0L96.8 44.2L94.8 44.3L92.8 44.3L90.6 44.1L88.3 43.8L85.9 43.5L83.4 43.0L81.0 42.4L78.5 41.7L76.0 40.8L73.4 39.8L70.7 38.7L68.0 37.6L65.4 36.5L62.9 35.5L60.4 34.4L57.8 33.4L55.3 32.3L52.7 31.3L50.2 30.4L47.7 29.7L45.3 28.9L42.8 28.3L40.3 27.8L37.7 27.4L35.0 27.2L32.3 27.4L29.7 27.8L27.1 28.3L24.6 28.9L22.2 29.7L19.8 30.4L17.2 31.4L14.3 32.5L11.7 33.9L9.3 35.4L7.3 36.6L5.9 37.5Z" fill="#0e0eb0" opacity="0.4" filter="url(#b15)"/>
<path d="M7.6 41.4L9.3 40.9L11.5 40.2L14.1 39.3L16.8 38.3L19.4 37.2L21.8 36.3L24.1 35.6L26.3 34.9L28.6 34.3L30.8 33.9L32.9 33.6L35.0 33.5L37.1 33.6L39.2 33.9L41.4 34.3L43.6 34.9L45.9 35.6L48.2 36.3L50.6 37.1L53.0 38.1L55.4 39.1L57.9 40.1L60.5 41.2L63.1 42.3L65.7 43.3L68.4 44.4L71.1 45.5L73.9 46.6L76.6 47.6L79.4 48.4L82.1 49.0L84.7 49.6L87.4 50.0L90.0 50.3L92.6 50.5L95.1 50.4L97.5 50.2L99.9 49.7L102.1 49.0L104.2 48.2L106.1 47.4L107.7 46.6L109.3 45.6L110.6 44.4L111.7 43.3L112.5 42.2L113.2 41.3L113.6 40.7L112.4 39.3L111.7 39.8L110.8 40.5L109.8 41.4L108.7 42.2L107.6 42.9L106.3 43.4L104.7 43.9L102.9 44.4L101.0 44.9L99.0 45.2L96.9 45.4L94.9 45.6L92.8 45.6L90.5 45.4L88.1 45.1L85.6 44.7L83.1 44.2L80.6 43.6L78.1 42.9L75.6 42.0L72.9 41.0L70.2 39.9L67.5 38.8L64.9 37.7L62.4 36.7L59.8 35.6L57.3 34.6L54.8 33.5L52.3 32.5L49.8 31.7L47.3 30.9L44.9 30.2L42.5 29.6L40.1 29.0L37.6 28.7L35.0 28.6L32.4 28.7L29.9 29.0L27.4 29.6L25.0 30.2L22.6 30.9L20.2 31.7L17.6 32.6L14.9 33.7L12.2 35.1L9.8 36.5L7.8 37.7L6.4 38.6Z" fill="#1414ee" stroke="#1414ee" stroke-width="0.8" stroke-linejoin="round" filter="url(#b08)"/>
<path d="M7.1 44.9L8.8 45.1L11.2 45.3L14.0 45.5L16.9 45.7L19.8 45.8L22.6 46.0L25.3 46.3L28.1 46.8L30.9 47.4L33.9 48.1L36.8 48.9L39.8 49.8L42.7 50.8L45.8 52.0L48.9 53.4L52.1 54.8L55.2 56.2L58.3 57.6L61.3 59.1L64.3 60.6L67.3 62.2L70.3 63.7L73.3 65.3L76.4 66.7L79.4 67.9L82.3 69.1L85.3 70.3L88.2 71.3L91.2 72.2L94.2 72.9L97.1 73.4L100.0 73.8L102.9 74.0L105.7 74.1L108.4 74.1L111.2 74.0L114.1 73.7L117.1 73.3L120.1 72.7L122.9 72.1L125.3 71.6L127.4 71.1L129.2 70.7L130.7 70.3L131.9 70.0L132.9 69.7L133.7 69.4L134.3 69.1L133.7 64.9L133.0 64.8L132.2 64.8L131.1 64.8L129.9 64.8L128.4 64.8L126.6 64.9L124.4 65.1L121.8 65.3L119.0 65.6L116.2 65.8L113.4 65.9L110.8 66.0L108.3 66.1L105.8 66.1L103.3 66.0L100.8 65.8L98.3 65.5L95.8 65.1L93.3 64.5L90.7 63.7L88.0 62.7L85.3 61.7L82.4 60.5L79.6 59.3L76.8 58.1L73.9 56.6L71.0 55.1L68.0 53.5L64.8 51.9L61.7 50.4L58.5 48.9L55.3 47.5L52.1 46.0L48.8 44.6L45.5 43.3L42.2 42.2L39.0 41.2L35.8 40.3L32.7 39.6L29.6 39.0L26.5 38.4L23.4 38.0L20.2 37.8L16.9 37.7L13.8 38.0L10.9 38.4L8.6 38.8L6.9 39.1Z" fill="#0e0eb0" opacity="0.4" filter="url(#b15)"/>
<path d="M7.0 43.7L8.8 43.9L11.2 44.1L13.9 44.3L16.9 44.4L19.9 44.5L22.7 44.7L25.5 45.1L28.3 45.5L31.2 46.1L34.2 46.8L37.2 47.6L40.2 48.6L43.2 49.6L46.3 50.8L49.4 52.2L52.6 53.6L55.8 55.0L58.8 56.4L61.9 57.9L64.9 59.4L67.9 61.0L70.9 62.6L73.9 64.1L76.9 65.5L79.9 66.7L82.8 67.9L85.7 69.0L88.6 70.0L91.5 70.9L94.4 71.6L97.3 72.2L100.2 72.5L102.9 72.7L105.7 72.8L108.4 72.8L111.1 72.7L114.0 72.5L117.0 72.0L119.9 71.4L122.7 70.9L125.2 70.3L127.3 69.9L129.0 69.5L130.5 69.2L131.7 68.8L132.7 68.5L133.5 68.3L134.2 68.0L133.8 66.0L133.2 65.9L132.3 65.9L131.3 65.9L130.0 66.0L128.5 66.0L126.7 66.1L124.5 66.3L122.0 66.5L119.2 66.8L116.4 67.0L113.5 67.2L110.9 67.3L108.3 67.4L105.7 67.4L103.2 67.3L100.7 67.1L98.1 66.8L95.6 66.4L92.9 65.7L90.3 64.9L87.6 64.0L84.8 62.9L81.9 61.7L79.1 60.5L76.2 59.2L73.3 57.8L70.4 56.2L67.4 54.6L64.3 53.1L61.2 51.6L58.0 50.1L54.8 48.6L51.6 47.2L48.3 45.8L45.1 44.6L41.8 43.4L38.7 42.5L35.5 41.6L32.4 40.9L29.3 40.2L26.3 39.7L23.3 39.3L20.2 39.1L16.9 39.0L13.8 39.2L11.0 39.6L8.6 40.0L7.0 40.3Z" fill="#1414ee" stroke="#1414ee" stroke-width="0.8" stroke-linejoin="round" filter="url(#b08)"/>
<circle cx="45.6" cy="35.4" r="0.75" fill="#f02020" opacity="0.85"/>
<circle cx="50.4" cy="46.3" r="0.75" fill="#f02020" opacity="0.85"/>
<circle cx="78.1" cy="59.2" r="0.75" fill="#f02020" opacity="0.85"/>
<circle cx="99.7" cy="65.4" r="0.75" fill="#f02020" opacity="0.85"/>
<circle cx="45.2" cy="76.5" r="0.75" fill="#f02020" opacity="0.85"/>
<circle cx="48.3" cy="81.2" r="0.75" fill="#f02020" opacity="0.85"/>
<circle cx="21.6" cy="38.0" r="0.75" fill="#f02020" opacity="0.85"/>
<path d="M25.1 25.7L26.1 30.0" stroke="#fff" stroke-width="0.75"/>
<path d="M26.7 32.5L24.7 30.3L27.6 29.6Z" fill="#fff"/>
<circle cx="27.2" cy="34.2" r="0.65" fill="#c82048" opacity="0.8"/>
<path d="M47.9 25.1L45.9 29.5" stroke="#fff" stroke-width="0.75"/>
<path d="M44.8 31.9L44.5 28.9L47.3 30.1Z" fill="#fff"/>
<circle cx="44.1" cy="33.5" r="0.65" fill="#c82048" opacity="0.8"/>
<path d="M18.1 48.9L19.7 44.6" stroke="#fff" stroke-width="0.75"/>
<path d="M20.6 42.1L21.1 45.1L18.3 44.1Z" fill="#fff"/>
<circle cx="21.2" cy="40.5" r="0.65" fill="#c82048" opacity="0.8"/>
<path d="M41.1 52.4L43.5 48.5" stroke="#fff" stroke-width="0.75"/>
<path d="M44.8 46.3L44.8 49.3L42.2 47.7Z" fill="#fff"/>
<circle cx="45.7" cy="44.7" r="0.65" fill="#c82048" opacity="0.8"/>
<path d="M74.4 69.5L76.6 65.0" stroke="#fff" stroke-width="0.75"/>
<path d="M77.7 62.7L77.9 65.7L75.2 64.4Z" fill="#fff"/>
<circle cx="78.5" cy="61.1" r="0.65" fill="#c82048" opacity="0.8"/>
<path d="M100.3 77.1L100.3 72.5" stroke="#fff" stroke-width="0.75"/>
<path d="M100.3 69.9L101.8 72.5L98.8 72.5Z" fill="#fff"/>
<circle cx="100.3" cy="68.1" r="0.65" fill="#c82048" opacity="0.8"/>
<g transform="translate(99.0,0)">
<g clip-path="url(#ic)">
<rect width="40.0" height="37.5" fill="#1212e0"/>
<rect width="40.0" height="37.5" filter="url(#nzi)" opacity="0.35"/>
<path d="M-4.1 12.6C-3.4 12.7 -3.8 12.7 -0.2 13.4C3.5 14.1 11.4 14.8 17.9 16.8C24.5 18.8 35.1 23.7 39.2 25.4C43.4 27.1 42.3 26.7 42.9 26.9" stroke="#020216" stroke-width="12.5" fill="none" filter="url(#b1)"/>
<ellipse cx="1.6" cy="34.9" rx="12.0" ry="5.0" fill="#020216" filter="url(#b15)"/>
<ellipse cx="27.4" cy="9.9" rx="2.8" ry="2.0" fill="#ff2060" filter="url(#b07)"/>
<ellipse cx="15.8" cy="8.0" rx="1.4" ry="1.0" fill="#e040e0" filter="url(#b07)"/>
<ellipse cx="26.6" cy="25.0" rx="1.1" ry="0.8" fill="#e04080" filter="url(#b07)"/>
</g>
<path d="M0.5 0V37.3H40.0" stroke="#d4d4f6" stroke-width="1.15" fill="none"/>
</g>
</g>
<g transform="translate(168.0,125.0)" clip-path="url(#pc)">
<rect width="139.0" height="104.5" fill="#010112"/>
<mask id="mA5" maskUnits="userSpaceOnUse" x="0" y="0" width="139.0" height="104.5"><rect width="139.0" height="104.5" fill="#3a3a3a"/><path d="M-5.0 35.0C-1.3 34.5 11.3 33.5 17.0 32.0C22.7 30.5 24.7 27.5 29.0 26.0C33.3 24.5 38.5 23.2 43.0 23.0C47.5 22.8 51.5 23.5 56.0 25.0C60.5 26.5 65.0 29.8 70.0 32.0C75.0 34.2 80.5 36.7 86.0 38.0C91.5 39.3 98.2 40.2 103.0 40.0C107.8 39.8 112.2 38.0 115.0 37.0C117.8 36.0 115.2 35.5 120.0 34.0C124.8 32.5 140.0 34.5 144.0 28.0C148.0 21.5 168.8 0.5 144.0 -5.0C119.2 -10.5 19.8 -5.0 -5.0 -5.0Z" fill="#fff" filter="url(#b3)"/></mask>
<path d="M-5.0 35.0C-1.3 34.5 11.3 33.5 17.0 32.0C22.7 30.5 24.7 27.5 29.0 26.0C33.3 24.5 38.5 23.2 43.0 23.0C47.5 22.8 51.5 23.5 56.0 25.0C60.5 26.5 65.0 29.8 70.0 32.0C75.0 34.2 80.5 36.7 86.0 38.0C91.5 39.3 98.2 40.2 103.0 40.0C107.8 39.8 112.2 38.0 115.0 37.0C117.8 36.0 115.2 35.5 120.0 34.0C124.8 32.5 140.0 34.5 144.0 28.0C148.0 21.5 168.8 0.5 144.0 -5.0C119.2 -10.5 19.8 -5.0 -5.0 -5.0Z" fill="#08087c" opacity="0.50" filter="url(#b4)"/>
<ellipse cx="3" cy="8" rx="9" ry="14" fill="#1010a8" opacity="0.56" filter="url(#b4)"/>
<rect x="-5" y="70.5" width="149.0" height="40" fill="#070760" opacity="0.15" filter="url(#b4)"/>
<path d="M-2.0 72.0C1.3 74.3 11.3 80.7 18.0 86.0C24.7 91.3 34.7 101.0 38.0 104.0" stroke="#1010a8" stroke-width="4.5" fill="none" opacity="0.75" filter="url(#b2)"/>
<rect width="139.0" height="104.5" filter="url(#nz)" mask="url(#mA5)" opacity="0.87"/>
<path d="M17.0 44.0C19.0 43.0 24.7 39.5 29.0 38.0C33.3 36.5 38.5 35.2 43.0 35.0C47.5 34.8 51.5 35.5 56.0 37.0C60.5 38.5 65.0 41.8 70.0 44.0C75.0 46.2 80.5 48.7 86.0 50.0C91.5 51.3 98.2 52.2 103.0 52.0C107.8 51.8 112.2 50.0 115.0 49.0C117.8 48.0 119.2 46.5 120.0 46.0" stroke="#020216" stroke-width="15" fill="none" opacity="0.8" stroke-linecap="round" filter="url(#b3)"/>
<path d="M17.0 45.0C19.7 45.2 27.7 45.2 33.0 46.0C38.3 46.8 43.8 47.8 49.0 50.0C54.2 52.2 58.8 56.0 64.0 59.0C69.2 62.0 74.8 65.7 80.0 68.0C85.2 70.3 89.8 71.8 95.0 73.0C100.2 74.2 105.7 75.0 111.0 75.0C116.3 75.0 123.5 73.5 127.0 73.0C130.5 72.5 131.2 72.2 132.0 72.0" stroke="#020216" stroke-width="15" fill="none" opacity="0.8" stroke-linecap="round" filter="url(#b3)"/>
<path d="M18.3 46.5L19.8 46.1L21.7 45.3L23.9 44.5L26.2 43.5L28.3 42.5L30.3 41.7L32.4 41.0L34.6 40.4L36.8 39.9L39.0 39.4L41.1 39.1L43.2 38.9L45.1 38.9L47.0 39.0L48.9 39.3L50.8 39.6L52.7 40.1L54.7 40.7L56.7 41.5L58.7 42.5L60.9 43.7L63.3 45.0L65.8 46.4L68.4 47.6L71.0 48.7L73.6 49.9L76.4 51.0L79.2 52.1L82.1 53.0L85.1 53.8L88.1 54.5L91.2 55.0L94.3 55.5L97.4 55.8L100.3 56.0L103.2 55.9L105.9 55.6L108.4 55.0L110.7 54.2L112.8 53.4L114.6 52.6L116.1 51.9L117.5 51.1L118.8 50.3L119.7 49.4L120.4 48.7L120.9 48.2L121.2 47.7L118.8 44.3L118.2 44.5L117.5 44.8L116.8 45.2L116.0 45.5L115.1 45.8L113.9 46.1L112.4 46.5L110.6 47.0L108.8 47.4L106.8 47.7L104.8 47.9L102.8 48.1L100.6 48.1L98.0 47.9L95.2 47.6L92.4 47.2L89.6 46.7L86.9 46.2L84.4 45.5L81.8 44.6L79.3 43.6L76.7 42.6L74.1 41.5L71.6 40.4L69.3 39.3L67.0 38.1L64.7 36.8L62.3 35.5L59.9 34.3L57.3 33.3L54.9 32.5L52.5 31.9L50.1 31.5L47.7 31.2L45.3 31.0L42.8 31.1L40.3 31.3L37.7 31.6L35.1 32.1L32.5 32.8L30.1 33.5L27.7 34.3L25.2 35.3L22.7 36.5L20.4 37.9L18.4 39.3L16.8 40.6L15.7 41.5Z" fill="#0e0eb0" opacity="0.4" filter="url(#b15)"/>
<path d="M17.8 45.4L19.2 45.0L21.1 44.3L23.3 43.4L25.6 42.4L27.8 41.3L29.9 40.5L32.0 39.8L34.2 39.2L36.5 38.6L38.8 38.1L41.0 37.8L43.1 37.6L45.1 37.6L47.1 37.8L49.1 38.0L51.1 38.4L53.1 38.9L55.1 39.5L57.2 40.3L59.3 41.4L61.5 42.6L63.9 43.9L66.3 45.2L68.9 46.4L71.5 47.5L74.1 48.7L76.8 49.8L79.6 50.8L82.5 51.8L85.4 52.6L88.3 53.2L91.4 53.8L94.4 54.2L97.5 54.5L100.4 54.7L103.1 54.6L105.7 54.4L108.2 53.8L110.4 53.0L112.4 52.2L114.1 51.5L115.7 50.7L117.0 50.0L118.2 49.3L119.1 48.5L119.8 47.8L120.2 47.2L120.6 46.8L119.4 45.2L118.8 45.4L118.2 45.8L117.4 46.1L116.6 46.5L115.6 46.9L114.3 47.3L112.8 47.7L111.0 48.1L109.1 48.6L107.1 49.0L105.0 49.2L102.9 49.4L100.5 49.4L97.9 49.2L95.1 48.9L92.2 48.5L89.3 48.0L86.6 47.4L84.0 46.7L81.4 45.8L78.8 44.8L76.2 43.8L73.6 42.7L71.1 41.6L68.7 40.5L66.4 39.2L64.1 37.9L61.7 36.6L59.3 35.5L56.9 34.5L54.5 33.8L52.2 33.2L49.9 32.8L47.6 32.5L45.3 32.3L42.9 32.4L40.4 32.5L37.9 32.9L35.4 33.4L32.9 34.0L30.4 34.7L28.1 35.5L25.7 36.5L23.2 37.6L21.0 39.0L19.0 40.4L17.4 41.6L16.2 42.6Z" fill="#1414ee" stroke="#1414ee" stroke-width="0.8" stroke-linejoin="round" filter="url(#b08)"/>
<path d="M16.9 47.8L18.6 48.2L21.0 48.6L23.8 49.0L26.8 49.3L29.8 49.6L32.4 49.9L35.0 50.3L37.6 50.8L40.2 51.3L42.7 52.0L45.1 52.7L47.4 53.6L49.7 54.7L52.0 56.0L54.4 57.5L56.8 59.1L59.3 60.8L62.0 62.4L64.6 63.9L67.3 65.5L70.0 67.2L72.8 68.8L75.6 70.2L78.4 71.6L81.0 72.8L83.7 73.8L86.3 74.7L88.9 75.5L91.5 76.2L94.1 76.9L96.8 77.4L99.6 77.9L102.4 78.4L105.3 78.7L108.1 78.9L111.0 78.9L114.1 78.8L117.2 78.3L120.2 77.7L123.0 77.1L125.5 76.5L127.5 76.0L129.0 75.6L130.2 75.3L131.1 74.9L131.7 74.6L132.1 74.3L132.5 74.1L131.5 69.9L131.0 69.9L130.5 69.9L129.9 69.8L129.1 69.8L128.0 69.9L126.5 70.0L124.4 70.1L121.9 70.4L119.2 70.7L116.3 70.9L113.5 71.0L111.0 71.1L108.5 71.0L106.0 70.8L103.5 70.5L100.9 70.1L98.4 69.7L95.9 69.1L93.4 68.6L91.1 67.9L88.7 67.2L86.4 66.4L84.1 65.4L81.6 64.4L79.2 63.2L76.6 61.8L74.0 60.3L71.3 58.8L68.6 57.2L66.0 55.6L63.6 54.1L61.1 52.5L58.6 50.9L56.1 49.2L53.4 47.7L50.6 46.4L47.7 45.3L44.8 44.4L42.0 43.7L39.1 43.1L36.3 42.5L33.6 42.1L30.5 41.7L27.3 41.5L24.2 41.5L21.3 41.7L18.9 41.9L17.1 42.2Z" fill="#0e0eb0" opacity="0.4" filter="url(#b15)"/>
<path d="M16.9 46.6L18.7 47.0L21.1 47.3L23.9 47.7L26.9 48.1L29.9 48.3L32.6 48.6L35.2 49.0L37.9 49.5L40.5 50.1L43.0 50.7L45.5 51.5L48.0 52.4L50.3 53.6L52.7 54.9L55.1 56.4L57.5 58.0L60.0 59.7L62.6 61.3L65.3 62.8L67.9 64.4L70.7 66.0L73.4 67.6L76.2 69.1L78.9 70.4L81.5 71.5L84.1 72.6L86.7 73.5L89.2 74.2L91.8 75.0L94.4 75.6L97.1 76.2L99.8 76.7L102.6 77.1L105.4 77.4L108.2 77.6L111.0 77.6L114.0 77.5L117.0 77.0L120.0 76.5L122.8 75.9L125.3 75.3L127.3 74.8L128.8 74.5L130.0 74.1L130.8 73.8L131.4 73.5L131.9 73.2L132.2 73.0L131.8 71.0L131.3 71.0L130.8 71.0L130.2 71.0L129.4 71.0L128.2 71.1L126.7 71.2L124.6 71.3L122.1 71.6L119.4 71.9L116.5 72.2L113.6 72.3L111.0 72.4L108.4 72.3L105.9 72.1L103.3 71.8L100.7 71.4L98.1 71.0L95.6 70.4L93.1 69.8L90.7 69.2L88.3 68.4L86.0 67.6L83.6 66.6L81.1 65.6L78.6 64.4L76.0 63.0L73.3 61.5L70.7 59.9L68.0 58.3L65.4 56.7L62.9 55.2L60.4 53.6L57.9 52.0L55.4 50.4L52.8 48.9L50.0 47.6L47.3 46.5L44.5 45.6L41.7 44.9L38.9 44.3L36.1 43.8L33.4 43.4L30.4 43.0L27.2 42.8L24.1 42.8L21.2 43.0L18.8 43.2L17.1 43.4Z" fill="#1414ee" stroke="#1414ee" stroke-width="0.8" stroke-linejoin="round" filter="url(#b08)"/>
<circle cx="4.1" cy="58.6" r="0.75" fill="#f02020" opacity="0.85"/>
<circle cx="62.7" cy="44.2" r="0.75" fill="#f02020" opacity="0.85"/>
<circle cx="68.9" cy="46.9" r="0.75" fill="#f02020" opacity="0.85"/>
<circle cx="104.9" cy="71.5" r="0.75" fill="#f02020" opacity="0.85"/>
<circle cx="33.9" cy="41.1" r="0.75" fill="#f02020" opacity="0.85"/>
<circle cx="20.6" cy="67.8" r="0.75" fill="#f02020" opacity="0.85"/>
<path d="M35.4 30.8L36.1 35.1" stroke="#fff" stroke-width="0.75"/>
<path d="M36.6 37.6L34.7 35.3L37.6 34.8Z" fill="#fff"/>
<circle cx="36.9" cy="39.4" r="0.65" fill="#c82048" opacity="0.8"/>
<path d="M63.7 33.9L63.1 38.5" stroke="#fff" stroke-width="0.75"/>
<path d="M62.7 41.1L61.6 38.3L64.6 38.8Z" fill="#fff"/>
<circle cx="62.5" cy="42.9" r="0.65" fill="#c82048" opacity="0.8"/>
<path d="M73.0 37.6L71.4 41.8" stroke="#fff" stroke-width="0.75"/>
<path d="M70.5 44.2L70.0 41.2L72.8 42.3Z" fill="#fff"/>
<circle cx="69.9" cy="45.9" r="0.65" fill="#c82048" opacity="0.8"/>
<path d="M81.2 76.1L83.9 71.7" stroke="#fff" stroke-width="0.75"/>
<path d="M85.3 69.5L85.2 72.5L82.7 70.9Z" fill="#fff"/>
<circle cx="86.3" cy="68.0" r="0.65" fill="#c82048" opacity="0.8"/>
<path d="M104.9 82.9L104.9 78.3" stroke="#fff" stroke-width="0.75"/>
<path d="M104.9 75.7L106.4 78.3L103.4 78.3Z" fill="#fff"/>
<circle cx="104.9" cy="73.9" r="0.65" fill="#c82048" opacity="0.8"/>
<g transform="translate(99.0,0)">
<g clip-path="url(#ic)">
<rect width="40.0" height="37.5" fill="#1010d8"/>
<rect width="40.0" height="37.5" filter="url(#nzi)" opacity="0.35"/>
<path d="M-4.1 11.4C-3.5 11.5 -3.8 11.5 -0.2 12.1C3.5 12.7 11.4 13.4 17.9 15.1C24.5 16.7 35.0 20.6 39.2 22.0C43.4 23.3 42.4 23.0 43.0 23.2" stroke="#020216" stroke-width="19.5" fill="none" filter="url(#b1)"/>
<ellipse cx="2.4" cy="34.1" rx="12.0" ry="5.0" fill="#020216" filter="url(#b15)"/>
<ellipse cx="16.2" cy="6.0" rx="2.3" ry="1.7" fill="#ff2060" filter="url(#b07)"/>
<ellipse cx="30.4" cy="9.9" rx="2.3" ry="1.7" fill="#ff3070" filter="url(#b07)"/>
</g>
<path d="M0.5 0V37.3H40.0" stroke="#d4d4f6" stroke-width="1.15" fill="none"/>
</g>
</g>
<g transform="translate(311.8,125.0)" clip-path="url(#pc)">
<rect width="139.0" height="104.5" fill="#010112"/>
<mask id="mA6" maskUnits="userSpaceOnUse" x="0" y="0" width="139.0" height="104.5"><rect width="139.0" height="104.5" fill="#3a3a3a"/><path d="M-5.0 43.0C-3.0 42.5 3.0 41.5 7.0 40.0C11.0 38.5 15.0 36.2 19.0 34.0C23.0 31.8 27.3 28.7 31.0 27.0C34.7 25.3 37.3 24.0 41.0 24.0C44.7 24.0 48.5 25.7 53.0 27.0C57.5 28.3 63.2 30.8 68.0 32.0C72.8 33.2 77.5 34.0 82.0 34.0C86.5 34.0 91.2 33.0 95.0 32.0C98.8 31.0 96.8 29.7 105.0 28.0C113.2 26.3 137.5 27.5 144.0 22.0C150.5 16.5 168.8 -0.5 144.0 -5.0C119.2 -9.5 19.8 -5.0 -5.0 -5.0Z" fill="#fff" filter="url(#b3)"/></mask>
<path d="M-5.0 43.0C-3.0 42.5 3.0 41.5 7.0 40.0C11.0 38.5 15.0 36.2 19.0 34.0C23.0 31.8 27.3 28.7 31.0 27.0C34.7 25.3 37.3 24.0 41.0 24.0C44.7 24.0 48.5 25.7 53.0 27.0C57.5 28.3 63.2 30.8 68.0 32.0C72.8 33.2 77.5 34.0 82.0 34.0C86.5 34.0 91.2 33.0 95.0 32.0C98.8 31.0 96.8 29.7 105.0 28.0C113.2 26.3 137.5 27.5 144.0 22.0C150.5 16.5 168.8 -0.5 144.0 -5.0C119.2 -9.5 19.8 -5.0 -5.0 -5.0Z" fill="#08087c" opacity="0.43" filter="url(#b4)"/>
<ellipse cx="3" cy="8" rx="9" ry="14" fill="#1010a8" opacity="0.30" filter="url(#b4)"/>
<rect x="-5" y="70.5" width="149.0" height="40" fill="#070760" opacity="0.13" filter="url(#b4)"/>
<path d="M-2.0 84.0C1.3 85.7 12.0 90.7 18.0 94.0C24.0 97.3 31.3 102.3 34.0 104.0" stroke="#1010a8" stroke-width="4.5" fill="none" opacity="0.75" filter="url(#b2)"/>
<rect width="139.0" height="104.5" filter="url(#nz)" mask="url(#mA6)" opacity="0.80"/>
<path d="M7.0 52.0C9.0 51.0 15.0 48.2 19.0 46.0C23.0 43.8 27.3 40.7 31.0 39.0C34.7 37.3 37.3 36.0 41.0 36.0C44.7 36.0 48.5 37.7 53.0 39.0C57.5 40.3 63.2 42.8 68.0 44.0C72.8 45.2 77.5 46.0 82.0 46.0C86.5 46.0 91.2 45.0 95.0 44.0C98.8 43.0 103.3 40.7 105.0 40.0" stroke="#020216" stroke-width="15" fill="none" opacity="0.8" stroke-linecap="round" filter="url(#b3)"/>
<path d="M7.0 54.0C9.3 53.5 16.3 51.5 21.0 51.0C25.7 50.5 30.0 49.8 35.0 51.0C40.0 52.2 45.5 55.5 51.0 58.0C56.5 60.5 62.5 63.5 68.0 66.0C73.5 68.5 78.5 71.3 84.0 73.0C89.5 74.7 95.5 75.8 101.0 76.0C106.5 76.2 112.7 74.8 117.0 74.0C121.3 73.2 125.3 71.5 127.0 71.0" stroke="#020216" stroke-width="15" fill="none" opacity="0.8" stroke-linecap="round" filter="url(#b3)"/>
<path d="M8.3 54.7L9.8 54.3L11.7 53.8L14.0 53.0L16.4 52.1L18.8 50.9L21.0 49.7L23.2 48.5L25.3 47.2L27.3 45.9L29.3 44.7L31.1 43.6L32.8 42.8L34.5 42.0L36.0 41.4L37.3 40.9L38.6 40.5L39.7 40.3L41.0 40.2L42.3 40.3L43.8 40.6L45.5 41.0L47.4 41.6L49.5 42.3L51.7 43.0L54.0 43.7L56.4 44.6L59.0 45.5L61.6 46.5L64.3 47.3L67.0 48.1L69.5 48.7L72.0 49.2L74.5 49.6L77.0 49.9L79.5 50.1L82.0 50.2L84.5 50.0L87.0 49.6L89.4 49.1L91.7 48.5L93.8 47.8L95.9 47.1L97.9 46.3L100.0 45.4L101.9 44.4L103.6 43.4L104.9 42.6L105.9 42.0L104.1 38.0L103.0 38.3L101.5 38.8L99.7 39.4L97.9 40.0L96.0 40.5L94.1 40.9L92.2 41.2L90.2 41.4L88.1 41.7L86.0 41.8L84.0 41.8L82.0 41.8L80.0 41.7L77.9 41.6L75.8 41.3L73.6 40.9L71.3 40.4L69.0 39.9L66.7 39.3L64.3 38.5L61.8 37.6L59.2 36.7L56.7 35.8L54.3 35.0L52.1 34.3L50.0 33.6L47.9 33.0L45.7 32.4L43.4 32.0L41.0 31.8L38.7 31.9L36.6 32.3L34.7 32.9L32.8 33.6L31.0 34.4L29.2 35.2L27.1 36.2L25.0 37.5L22.9 38.7L20.9 40.0L18.9 41.2L17.0 42.3L14.9 43.4L12.7 44.5L10.5 45.9L8.5 47.2L6.9 48.4L5.7 49.3Z" fill="#0e0eb0" opacity="0.4" filter="url(#b15)"/>
<path d="M7.8 53.6L9.2 53.2L11.2 52.6L13.4 51.9L15.9 50.9L18.2 49.7L20.4 48.5L22.5 47.3L24.6 46.1L26.6 44.8L28.6 43.6L30.5 42.5L32.3 41.6L33.9 40.8L35.5 40.2L36.9 39.6L38.3 39.2L39.6 39.0L41.0 38.9L42.5 39.0L44.1 39.3L45.9 39.8L47.8 40.4L49.9 41.1L52.1 41.8L54.4 42.5L56.8 43.4L59.4 44.3L62.0 45.2L64.7 46.1L67.3 46.8L69.8 47.4L72.2 47.9L74.7 48.3L77.1 48.6L79.6 48.8L82.0 48.9L84.4 48.7L86.8 48.4L89.2 47.9L91.4 47.3L93.5 46.6L95.5 46.0L97.6 45.2L99.6 44.3L101.4 43.3L103.1 42.4L104.5 41.6L105.4 41.0L104.6 39.0L103.4 39.3L101.9 39.8L100.2 40.4L98.3 41.1L96.3 41.6L94.5 42.0L92.5 42.4L90.4 42.7L88.3 42.9L86.2 43.1L84.1 43.1L82.0 43.1L79.9 43.0L77.8 42.9L75.6 42.6L73.3 42.2L71.0 41.7L68.7 41.2L66.4 40.5L63.9 39.7L61.4 38.8L58.8 37.9L56.3 37.0L53.9 36.2L51.7 35.6L49.6 34.9L47.5 34.2L45.4 33.7L43.2 33.3L41.0 33.1L38.9 33.2L36.9 33.6L35.1 34.1L33.3 34.8L31.6 35.6L29.7 36.4L27.7 37.4L25.7 38.6L23.6 39.8L21.6 41.1L19.5 42.3L17.6 43.5L15.5 44.6L13.3 45.7L11.1 47.0L9.1 48.3L7.4 49.5L6.2 50.4Z" fill="#1414ee" stroke="#1414ee" stroke-width="0.8" stroke-linejoin="round" filter="url(#b08)"/>
<path d="M7.7 57.1L9.4 57.0L11.6 56.9L14.1 56.6L16.7 56.2L19.3 55.7L21.6 55.4L23.8 55.2L26.0 55.0L28.0 54.8L30.0 54.8L32.0 55.0L34.0 55.3L36.1 56.0L38.4 56.9L40.9 58.0L43.5 59.3L46.3 60.7L49.1 62.0L51.9 63.3L54.7 64.6L57.6 66.0L60.5 67.4L63.3 68.7L66.1 70.0L68.8 71.3L71.4 72.6L74.1 73.8L76.9 75.1L79.7 76.2L82.7 77.2L85.7 78.1L88.7 78.8L91.7 79.4L94.8 79.9L97.8 80.3L100.9 80.4L104.0 80.3L107.1 79.9L110.0 79.3L112.8 78.7L115.4 78.0L117.7 77.4L119.9 76.7L122.0 75.9L123.9 75.1L125.5 74.4L126.8 73.7L127.7 73.2L126.3 68.8L125.2 69.0L123.7 69.3L122.1 69.6L120.3 70.0L118.3 70.4L116.3 70.6L114.0 70.9L111.5 71.2L108.9 71.4L106.2 71.6L103.6 71.6L101.1 71.6L98.6 71.4L96.0 71.1L93.3 70.7L90.6 70.1L87.9 69.5L85.3 68.8L82.8 67.9L80.4 66.9L77.9 65.8L75.3 64.5L72.6 63.3L69.9 62.0L67.1 60.7L64.3 59.4L61.4 58.0L58.5 56.6L55.7 55.3L52.9 54.0L50.2 52.7L47.5 51.3L44.7 50.0L41.9 48.7L39.0 47.5L36.0 46.7L33.1 46.1L30.4 45.9L27.7 45.9L25.2 46.1L22.8 46.3L20.4 46.6L17.8 47.0L14.9 47.5L12.2 48.4L9.7 49.4L7.7 50.2L6.3 50.9Z" fill="#0e0eb0" opacity="0.4" filter="url(#b15)"/>
<path d="M7.5 55.9L9.1 55.9L11.3 55.6L13.8 55.4L16.5 55.0L19.0 54.5L21.4 54.1L23.6 53.9L25.8 53.7L28.0 53.5L30.1 53.5L32.1 53.7L34.3 54.1L36.5 54.7L38.9 55.7L41.5 56.8L44.1 58.2L46.9 59.5L49.7 60.9L52.5 62.1L55.3 63.5L58.1 64.8L61.0 66.2L63.9 67.6L66.7 68.9L69.4 70.1L72.0 71.4L74.7 72.7L77.4 73.9L80.2 75.0L83.1 76.0L86.0 76.8L88.9 77.6L91.9 78.2L94.9 78.6L97.9 79.0L100.9 79.1L103.9 79.0L106.9 78.6L109.8 78.1L112.6 77.4L115.1 76.8L117.5 76.2L119.6 75.5L121.7 74.8L123.5 74.0L125.1 73.3L126.4 72.6L127.4 72.1L126.6 69.9L125.5 70.0L124.1 70.4L122.5 70.8L120.6 71.2L118.6 71.5L116.5 71.8L114.2 72.1L111.7 72.4L109.0 72.7L106.3 72.9L103.7 72.9L101.1 72.9L98.5 72.7L95.8 72.4L93.1 72.0L90.3 71.4L87.6 70.7L84.9 70.0L82.4 69.1L79.9 68.1L77.3 67.0L74.7 65.7L72.1 64.4L69.3 63.1L66.5 61.9L63.7 60.5L60.9 59.2L58.0 57.8L55.1 56.4L52.3 55.1L49.6 53.9L46.9 52.5L44.2 51.2L41.4 49.9L38.6 48.8L35.7 47.9L33.0 47.4L30.3 47.2L27.8 47.2L25.3 47.4L23.0 47.6L20.6 47.9L18.0 48.3L15.2 48.8L12.5 49.6L10.0 50.6L8.0 51.4L6.5 52.1Z" fill="#1414ee" stroke="#1414ee" stroke-width="0.8" stroke-linejoin="round" filter="url(#b08)"/>
<circle cx="36.0" cy="41.1" r="0.75" fill="#f02020" opacity="0.85"/>
<circle cx="22.6" cy="47.7" r="0.75" fill="#f02020" opacity="0.85"/>
<circle cx="42.1" cy="49.8" r="0.75" fill="#f02020" opacity="0.85"/>
<circle cx="51.4" cy="53.9" r="0.75" fill="#f02020" opacity="0.85"/>
<circle cx="64.8" cy="60.0" r="0.75" fill="#f02020" opacity="0.85"/>
<circle cx="107.9" cy="70.9" r="0.75" fill="#f02020" opacity="0.85"/>
<circle cx="49.3" cy="90.5" r="0.75" fill="#f02020" opacity="0.85"/>
<circle cx="26.7" cy="81.2" r="0.75" fill="#f02020" opacity="0.85"/>
<path d="M32.9 30.8L34.1 34.5" stroke="#fff" stroke-width="0.75"/>
<path d="M35.0 37.0L32.7 35.0L35.6 34.1Z" fill="#fff"/>
<circle cx="35.5" cy="38.7" r="0.65" fill="#c82048" opacity="0.8"/>
<path d="M17.1 57.2L19.3 53.2" stroke="#fff" stroke-width="0.75"/>
<path d="M20.6 51.0L20.6 54.0L18.0 52.5Z" fill="#fff"/>
<circle cx="21.4" cy="49.4" r="0.65" fill="#c82048" opacity="0.8"/>
<path d="M36.6 58.6L38.8 54.7" stroke="#fff" stroke-width="0.75"/>
<path d="M40.1 52.4L40.1 55.4L37.5 53.9Z" fill="#fff"/>
<circle cx="41.0" cy="50.9" r="0.65" fill="#c82048" opacity="0.8"/>
<path d="M45.2 63.1L47.6 59.4" stroke="#fff" stroke-width="0.75"/>
<path d="M48.9 57.2L48.8 60.2L46.3 58.6Z" fill="#fff"/>
<circle cx="49.9" cy="55.6" r="0.65" fill="#c82048" opacity="0.8"/>
<path d="M59.0 69.3L61.3 65.5" stroke="#fff" stroke-width="0.75"/>
<path d="M62.7 63.3L62.6 66.3L60.1 64.7Z" fill="#fff"/>
<circle cx="63.7" cy="61.8" r="0.65" fill="#c82048" opacity="0.8"/>
<path d="M109.6 80.8L108.9 76.6" stroke="#fff" stroke-width="0.75"/>
<path d="M108.6 74.0L110.4 76.4L107.5 76.8Z" fill="#fff"/>
<circle cx="108.3" cy="72.2" r="0.65" fill="#c82048" opacity="0.8"/>
<rect x="116" y="95.6" width="16.8" height="1.4" fill="#fff"/>
<g transform="translate(99.0,0)">
<g clip-path="url(#ic)">
<rect width="40.0" height="37.5" fill="#1212e0"/>
<rect width="40.0" height="37.5" filter="url(#nzi)" opacity="0.35"/>
<path d="M-4.1 11.1C-3.5 11.2 -3.8 11.1 -0.2 11.6C3.5 12.2 11.4 12.6 17.9 14.2C24.5 15.8 35.0 19.8 39.2 21.1C43.4 22.5 42.4 22.1 43.0 22.4" stroke="#020216" stroke-width="13.5" fill="none" filter="url(#b1)"/>
<ellipse cx="5.0" cy="34.1" rx="14.0" ry="5.0" fill="#020216" filter="url(#b15)"/>
<ellipse cx="34.3" cy="34.9" rx="8.0" ry="3.0" fill="#020216" filter="url(#b15)"/>
<ellipse cx="8.4" cy="6.0" rx="1.8" ry="1.4" fill="#ff2060" filter="url(#b07)"/>
<ellipse cx="21.4" cy="22.0" rx="1.5" ry="1.1" fill="#ff2050" filter="url(#b07)"/>
<ellipse cx="36.9" cy="28.0" rx="1.8" ry="1.4" fill="#ff20a0" filter="url(#b07)"/>
</g>
<path d="M0.5 0V37.3H40.0" stroke="#d4d4f6" stroke-width="1.15" fill="none"/>
</g>
</g>
<g transform="translate(24.0,277.7)" clip-path="url(#pc)">
<rect width="139.0" height="104.5" fill="#010112"/>
<mask id="mC1" maskUnits="userSpaceOnUse" x="0" y="0" width="139.0" height="104.5"><rect width="139.0" height="104.5" fill="#3a3a3a"/><path d="M-5.0 35.0C-3.0 34.5 2.7 34.0 7.0 32.0C11.3 30.0 16.3 25.5 21.0 23.0C25.7 20.5 31.0 18.2 35.0 17.0C39.0 15.8 41.2 15.2 45.0 16.0C48.8 16.8 53.8 19.8 58.0 22.0C62.2 24.2 65.7 27.0 70.0 29.0C74.3 31.0 79.2 33.2 84.0 34.0C88.8 34.8 94.5 34.7 99.0 34.0C103.5 33.3 103.5 31.7 111.0 30.0C118.5 28.3 138.5 29.8 144.0 24.0C149.5 18.2 168.8 -0.2 144.0 -5.0C119.2 -9.8 19.8 -5.0 -5.0 -5.0Z" fill="#fff" filter="url(#b3)"/></mask>
<path d="M-5.0 35.0C-3.0 34.5 2.7 34.0 7.0 32.0C11.3 30.0 16.3 25.5 21.0 23.0C25.7 20.5 31.0 18.2 35.0 17.0C39.0 15.8 41.2 15.2 45.0 16.0C48.8 16.8 53.8 19.8 58.0 22.0C62.2 24.2 65.7 27.0 70.0 29.0C74.3 31.0 79.2 33.2 84.0 34.0C88.8 34.8 94.5 34.7 99.0 34.0C103.5 33.3 103.5 31.7 111.0 30.0C118.5 28.3 138.5 29.8 144.0 24.0C149.5 18.2 168.8 -0.2 144.0 -5.0C119.2 -9.8 19.8 -5.0 -5.0 -5.0Z" fill="#08087c" opacity="0.43" filter="url(#b4)"/>
<ellipse cx="3" cy="8" rx="9" ry="14" fill="#1010a8" opacity="0.18" filter="url(#b4)"/>
<ellipse cx="12.0" cy="9.0" rx="17.0" ry="13.0" fill="#1212b4" opacity="0.70" filter="url(#b3)"/>
<rect x="-5" y="70.5" width="149.0" height="40" fill="#070760" opacity="0.13" filter="url(#b4)"/>
<path d="M-2.0 70.0C2.0 72.7 13.7 80.3 22.0 86.0C30.3 91.7 43.7 101.0 48.0 104.0" stroke="#1010a8" stroke-width="4.5" fill="none" opacity="0.75" filter="url(#b2)"/>
<rect width="139.0" height="104.5" filter="url(#nz)" mask="url(#mC1)" opacity="0.80"/>
<path d="M7.0 44.0C9.3 42.5 16.3 37.5 21.0 35.0C25.7 32.5 31.0 30.2 35.0 29.0C39.0 27.8 41.2 27.2 45.0 28.0C48.8 28.8 53.8 31.8 58.0 34.0C62.2 36.2 65.7 39.0 70.0 41.0C74.3 43.0 79.2 45.2 84.0 46.0C88.8 46.8 94.5 46.7 99.0 46.0C103.5 45.3 109.0 42.7 111.0 42.0" stroke="#020216" stroke-width="15" fill="none" opacity="0.8" stroke-linecap="round" filter="url(#b3)"/>
<path d="M7.0 45.0C9.7 44.5 17.7 42.2 23.0 42.0C28.3 41.8 34.0 42.5 39.0 44.0C44.0 45.5 47.8 48.0 53.0 51.0C58.2 54.0 64.5 58.8 70.0 62.0C75.5 65.2 80.5 68.0 86.0 70.0C91.5 72.0 97.5 73.3 103.0 74.0C108.5 74.7 114.2 74.3 119.0 74.0C123.8 73.7 129.8 72.3 132.0 72.0" stroke="#020216" stroke-width="15" fill="none" opacity="0.8" stroke-linecap="round" filter="url(#b3)"/>
<path d="M8.4 46.2L10.1 45.4L12.4 44.2L15.0 42.7L17.8 41.1L20.4 39.5L22.7 38.2L25.0 37.0L27.3 35.9L29.7 34.8L31.9 33.9L34.1 33.1L36.1 32.4L37.8 31.9L39.3 31.6L40.5 31.3L41.6 31.2L42.8 31.3L44.2 31.5L45.8 32.0L47.7 32.7L49.8 33.7L52.0 34.9L54.2 36.0L56.3 37.2L58.2 38.2L60.1 39.4L62.0 40.6L64.0 41.9L66.2 43.1L68.4 44.2L70.7 45.3L73.1 46.3L75.5 47.3L78.1 48.2L80.7 49.0L83.4 49.5L86.1 49.9L88.9 49.9L91.6 49.8L94.4 49.6L97.0 49.2L99.5 48.8L102.0 48.1L104.5 47.2L106.8 46.3L108.8 45.3L110.5 44.5L111.7 43.9L110.3 40.1L108.9 40.5L107.2 41.1L105.1 41.7L102.9 42.4L100.6 42.9L98.5 43.2L96.4 43.3L94.0 43.4L91.6 43.3L89.2 43.1L86.8 42.8L84.6 42.5L82.5 42.0L80.3 41.4L78.1 40.6L75.9 39.7L73.7 38.7L71.6 37.8L69.6 36.8L67.7 35.7L65.9 34.5L63.9 33.3L61.8 32.0L59.7 30.8L57.6 29.7L55.3 28.5L53.0 27.3L50.6 26.1L48.2 25.2L45.8 24.5L43.6 24.1L41.5 24.0L39.6 24.2L37.7 24.5L35.9 25.0L33.9 25.6L31.7 26.3L29.3 27.2L26.8 28.2L24.3 29.3L21.8 30.5L19.3 31.8L16.7 33.3L13.9 35.1L11.2 37.0L8.9 38.9L6.9 40.6L5.6 41.8Z" fill="#0e0eb0" opacity="0.4" filter="url(#b15)"/>
<path d="M7.8 45.2L9.5 44.4L11.7 43.1L14.3 41.7L17.1 40.0L19.7 38.4L22.1 37.0L24.4 35.8L26.8 34.7L29.2 33.6L31.5 32.7L33.7 31.8L35.7 31.2L37.5 30.7L39.0 30.3L40.4 30.0L41.6 29.9L43.0 30.0L44.5 30.2L46.2 30.8L48.2 31.6L50.4 32.6L52.6 33.7L54.8 34.9L56.9 36.0L58.9 37.1L60.8 38.3L62.7 39.5L64.7 40.8L66.8 42.0L69.0 43.1L71.3 44.1L73.6 45.1L76.0 46.1L78.5 47.0L81.0 47.7L83.6 48.3L86.2 48.6L88.9 48.6L91.6 48.6L94.3 48.3L96.8 48.0L99.3 47.6L101.7 47.0L104.1 46.1L106.4 45.2L108.4 44.2L110.1 43.4L111.3 42.8L110.7 41.2L109.4 41.6L107.6 42.1L105.5 42.8L103.2 43.5L100.9 44.1L98.7 44.4L96.5 44.6L94.1 44.6L91.6 44.6L89.1 44.4L86.7 44.1L84.4 43.7L82.2 43.2L79.9 42.6L77.6 41.8L75.4 40.9L73.1 39.9L71.0 38.9L69.0 37.9L67.1 36.8L65.2 35.6L63.2 34.4L61.2 33.1L59.1 32.0L56.9 30.8L54.7 29.6L52.4 28.4L50.1 27.3L47.8 26.4L45.5 25.8L43.5 25.4L41.6 25.3L39.8 25.5L38.0 25.8L36.3 26.2L34.3 26.8L32.1 27.5L29.8 28.4L27.3 29.4L24.8 30.5L22.4 31.7L19.9 33.0L17.3 34.5L14.6 36.2L11.9 38.1L9.6 40.0L7.6 41.6L6.2 42.8Z" fill="#1717d8" stroke="#1717d8" stroke-width="0.8" stroke-linejoin="round" filter="url(#b08)"/>
<path d="M7.6 47.9L9.5 47.8L12.0 47.5L14.8 47.2L17.8 46.8L20.7 46.3L23.2 46.1L25.6 46.1L28.1 46.2L30.6 46.4L33.1 46.8L35.5 47.3L37.8 47.9L39.9 48.7L42.0 49.5L44.0 50.6L46.2 51.7L48.4 53.1L50.9 54.5L53.5 56.1L56.2 57.9L59.1 59.8L62.0 61.8L65.0 63.8L67.9 65.5L70.7 67.1L73.4 68.6L76.1 70.1L78.9 71.4L81.7 72.7L84.6 73.9L87.6 74.9L90.6 75.7L93.6 76.5L96.6 77.1L99.6 77.7L102.5 78.1L105.5 78.3L108.4 78.2L111.3 78.1L114.1 77.8L116.7 77.5L119.3 77.2L121.8 76.8L124.5 76.2L127.0 75.6L129.2 75.1L131.0 74.5L132.4 74.1L131.6 69.9L130.2 69.9L128.3 70.1L126.0 70.4L123.6 70.6L121.1 70.8L118.7 70.8L116.3 70.8L113.8 70.8L111.2 70.7L108.6 70.5L106.0 70.2L103.5 69.9L100.9 69.6L98.2 69.1L95.4 68.5L92.7 67.8L90.0 67.0L87.4 66.1L84.9 65.2L82.4 64.0L79.9 62.8L77.3 61.4L74.7 60.0L72.1 58.5L69.4 56.8L66.6 55.0L63.7 53.0L60.8 51.1L57.9 49.2L55.1 47.5L52.6 46.0L50.2 44.6L47.9 43.3L45.4 42.1L42.9 41.0L40.2 40.1L37.4 39.3L34.5 38.7L31.6 38.3L28.7 38.0L25.8 37.9L22.8 37.9L19.6 38.2L16.3 38.7L13.2 39.6L10.3 40.6L8.0 41.5L6.4 42.1Z" fill="#0e0eb0" opacity="0.4" filter="url(#b15)"/>
<path d="M7.4 46.7L9.2 46.6L11.7 46.3L14.6 45.9L17.6 45.5L20.5 45.0L23.1 44.8L25.6 44.8L28.2 44.9L30.8 45.2L33.3 45.5L35.8 46.0L38.2 46.7L40.4 47.4L42.5 48.4L44.6 49.4L46.8 50.6L49.1 52.0L51.6 53.4L54.2 55.0L56.9 56.8L59.8 58.8L62.7 60.7L65.7 62.7L68.6 64.4L71.3 66.0L74.0 67.5L76.7 68.9L79.4 70.3L82.2 71.5L85.0 72.6L87.9 73.6L90.9 74.5L93.9 75.2L96.8 75.9L99.8 76.4L102.7 76.8L105.6 77.0L108.5 77.0L111.3 76.8L114.0 76.6L116.6 76.3L119.2 76.0L121.7 75.6L124.3 75.1L126.8 74.5L129.0 73.9L130.8 73.4L132.2 73.0L131.8 71.0L130.4 71.0L128.5 71.2L126.2 71.5L123.8 71.8L121.3 71.9L118.8 72.0L116.4 72.0L113.8 72.0L111.2 71.9L108.6 71.8L105.9 71.5L103.3 71.2L100.6 70.8L97.9 70.4L95.1 69.8L92.4 69.1L89.6 68.3L87.0 67.4L84.4 66.4L81.8 65.2L79.3 63.9L76.7 62.6L74.1 61.1L71.4 59.6L68.7 57.9L65.8 56.1L62.9 54.1L60.0 52.2L57.2 50.3L54.4 48.6L51.9 47.1L49.6 45.8L47.2 44.5L44.9 43.3L42.4 42.2L39.8 41.3L37.1 40.6L34.3 40.0L31.5 39.6L28.6 39.3L25.7 39.2L22.9 39.2L19.8 39.5L16.6 40.0L13.4 40.8L10.6 41.8L8.3 42.6L6.6 43.3Z" fill="#1717d8" stroke="#1717d8" stroke-width="0.8" stroke-linejoin="round" filter="url(#b08)"/>
<path d="M-0.5 -2C1 10 1.5 20 4.5 29" stroke="#e020a8" stroke-width="2.6" fill="none" opacity="0.85" filter="url(#b08)"/>
<path d="M0 35L6 27" stroke="#d060d0" stroke-width="0.9" fill="none" opacity="0.7" filter="url(#b03)"/>
<path d="M20.6 39.1C23.0 38.2 30.5 35.0 35.0 33.9C39.4 32.9 43.2 32.0 47.3 32.9C51.4 33.8 55.5 37.2 59.6 39.1C63.7 40.9 67.5 42.7 72.0 44.2C76.4 45.7 81.6 47.8 86.3 48.3C91.1 48.8 98.3 47.5 100.7 47.3" stroke="#c81c80" stroke-width="2.6" fill="none" opacity="0.32" stroke-linecap="round" filter="url(#b05)"/>
<circle cx="21.2" cy="38.5" r="0.78" fill="#ff2464" opacity="0.56"/><circle cx="22.9" cy="37.4" r="0.50" fill="#e030b8" opacity="0.74"/><circle cx="23.5" cy="36.6" r="0.88" fill="#ff2464" opacity="0.65"/><circle cx="25.8" cy="36.5" r="0.65" fill="#f02888" opacity="0.61"/><circle cx="26.5" cy="37.1" r="0.60" fill="#ff2464" opacity="0.65"/><circle cx="28.5" cy="34.8" r="1.03" fill="#f02478" opacity="0.79"/><circle cx="29.7" cy="35.8" r="0.53" fill="#c840d8" opacity="0.95"/><circle cx="30.9" cy="34.1" r="0.60" fill="#ff2464" opacity="0.75"/><circle cx="32.4" cy="34.0" r="0.61" fill="#ea2c96" opacity="0.73"/><circle cx="34.4" cy="34.1" r="0.42" fill="#c840d8" opacity="0.62"/><circle cx="35.5" cy="33.3" r="0.96" fill="#c840d8" opacity="0.53"/><circle cx="37.3" cy="32.4" r="0.50" fill="#f02478" opacity="0.98"/><circle cx="38.2" cy="32.2" r="0.52" fill="#ff2464" opacity="0.64"/><circle cx="39.7" cy="32.7" r="0.49" fill="#f02478" opacity="0.74"/><circle cx="41.0" cy="33.3" r="0.83" fill="#ea2c96" opacity="0.97"/><circle cx="43.1" cy="32.8" r="0.63" fill="#f02478" opacity="0.69"/><circle cx="44.4" cy="33.6" r="0.98" fill="#e030b8" opacity="0.58"/><circle cx="45.7" cy="32.4" r="0.65" fill="#f02888" opacity="0.93"/><circle cx="47.7" cy="32.1" r="1.04" fill="#ff2464" opacity="0.60"/><circle cx="48.7" cy="34.0" r="0.72" fill="#ff2464" opacity="0.70"/><circle cx="49.6" cy="33.5" r="0.63" fill="#f02888" opacity="0.66"/><circle cx="51.0" cy="34.4" r="1.03" fill="#f02478" opacity="0.68"/><circle cx="53.1" cy="35.4" r="0.44" fill="#ea2c96" opacity="0.64"/><circle cx="53.6" cy="35.6" r="1.05" fill="#ff2464" opacity="0.72"/><circle cx="55.8" cy="36.1" r="1.00" fill="#e030b8" opacity="0.64"/><circle cx="57.1" cy="36.9" r="0.68" fill="#c840d8" opacity="0.81"/><circle cx="57.7" cy="38.1" r="0.80" fill="#f02888" opacity="0.83"/><circle cx="59.8" cy="38.5" r="0.81" fill="#f02478" opacity="0.46"/><circle cx="61.3" cy="39.4" r="0.96" fill="#f02478" opacity="0.85"/><circle cx="61.7" cy="38.6" r="0.90" fill="#e030b8" opacity="0.98"/><circle cx="63.2" cy="40.1" r="0.63" fill="#ea2c96" opacity="0.67"/><circle cx="65.5" cy="41.6" r="0.78" fill="#f02478" opacity="0.68"/><circle cx="66.5" cy="41.8" r="1.03" fill="#f02888" opacity="0.92"/><circle cx="68.1" cy="41.6" r="0.69" fill="#ea2c96" opacity="0.86"/><circle cx="68.8" cy="42.7" r="0.81" fill="#ea2c96" opacity="0.79"/><circle cx="70.4" cy="43.2" r="0.65" fill="#ea2c96" opacity="0.90"/><circle cx="71.4" cy="43.6" r="0.46" fill="#e030b8" opacity="0.48"/><circle cx="73.2" cy="44.2" r="0.53" fill="#ff2464" opacity="0.86"/><circle cx="75.0" cy="44.6" r="0.73" fill="#ff2464" opacity="0.59"/><circle cx="76.4" cy="45.3" r="0.58" fill="#ff2464" opacity="0.95"/><circle cx="77.8" cy="46.2" r="0.75" fill="#f02888" opacity="0.65"/><circle cx="79.0" cy="45.1" r="1.03" fill="#f02888" opacity="1.00"/><circle cx="80.6" cy="46.0" r="0.88" fill="#c840d8" opacity="0.62"/><circle cx="81.8" cy="46.9" r="0.88" fill="#e030b8" opacity="0.79"/><circle cx="83.6" cy="47.5" r="0.60" fill="#f02478" opacity="0.76"/><circle cx="84.6" cy="46.8" r="1.02" fill="#c840d8" opacity="0.56"/><circle cx="86.9" cy="46.9" r="0.92" fill="#ff2464" opacity="0.78"/><circle cx="87.5" cy="47.0" r="0.77" fill="#c840d8" opacity="0.74"/><circle cx="89.7" cy="46.7" r="0.61" fill="#f02888" opacity="0.48"/><circle cx="90.9" cy="48.4" r="0.64" fill="#e030b8" opacity="0.96"/><circle cx="92.5" cy="48.0" r="0.50" fill="#e030b8" opacity="0.78"/><circle cx="94.4" cy="48.2" r="1.00" fill="#e030b8" opacity="0.73"/><circle cx="94.8" cy="47.3" r="0.97" fill="#ff2464" opacity="0.48"/><circle cx="97.1" cy="46.8" r="0.87" fill="#ea2c96" opacity="0.99"/><circle cx="98.2" cy="47.1" r="0.94" fill="#c840d8" opacity="0.98"/><circle cx="99.8" cy="47.5" r="0.68" fill="#ea2c96" opacity="0.53"/>
<path d="M14.4 41.1C17.1 41.1 25.7 40.3 30.8 41.1C36.0 42.0 40.4 44.0 45.2 46.3C50.0 48.5 54.8 51.9 59.6 54.5C64.4 57.1 69.2 59.5 74.0 61.7C78.8 63.9 83.6 66.1 88.4 67.8C93.2 69.6 98.3 71.4 102.8 72.0C107.3 72.5 113.1 71.1 115.1 70.9" stroke="#c81c80" stroke-width="2.6" fill="none" opacity="0.32" stroke-linecap="round" filter="url(#b05)"/>
<circle cx="15.2" cy="41.0" r="0.68" fill="#e030b8" opacity="0.95"/><circle cx="16.6" cy="42.5" r="0.79" fill="#ea2c96" opacity="0.54"/><circle cx="17.5" cy="41.0" r="0.81" fill="#ea2c96" opacity="0.65"/><circle cx="19.3" cy="42.3" r="0.66" fill="#f02478" opacity="0.87"/><circle cx="20.9" cy="41.0" r="0.51" fill="#ff2464" opacity="0.67"/><circle cx="23.1" cy="41.3" r="0.42" fill="#ea2c96" opacity="0.91"/><circle cx="24.2" cy="41.5" r="0.73" fill="#ff2464" opacity="0.94"/><circle cx="26.2" cy="41.4" r="0.93" fill="#ff2464" opacity="0.58"/><circle cx="27.4" cy="41.2" r="0.59" fill="#f02478" opacity="0.81"/><circle cx="28.4" cy="42.4" r="0.80" fill="#c840d8" opacity="0.78"/><circle cx="29.9" cy="41.9" r="1.03" fill="#ea2c96" opacity="0.66"/><circle cx="31.1" cy="42.0" r="0.71" fill="#ff2464" opacity="0.77"/><circle cx="33.1" cy="42.0" r="0.45" fill="#c840d8" opacity="0.94"/><circle cx="34.9" cy="43.1" r="0.45" fill="#f02478" opacity="0.90"/><circle cx="36.0" cy="43.3" r="0.94" fill="#f02478" opacity="0.55"/><circle cx="37.1" cy="44.1" r="1.04" fill="#ea2c96" opacity="0.54"/><circle cx="38.3" cy="45.2" r="0.53" fill="#ff2464" opacity="0.95"/><circle cx="40.3" cy="45.2" r="0.67" fill="#f02478" opacity="0.75"/><circle cx="41.1" cy="44.5" r="0.95" fill="#ea2c96" opacity="0.83"/><circle cx="42.6" cy="45.6" r="0.41" fill="#f02888" opacity="0.69"/><circle cx="44.0" cy="46.2" r="0.43" fill="#f02888" opacity="0.54"/><circle cx="45.7" cy="46.9" r="0.62" fill="#f02888" opacity="0.47"/><circle cx="47.1" cy="48.7" r="0.86" fill="#ea2c96" opacity="0.82"/><circle cx="48.2" cy="47.8" r="0.70" fill="#f02478" opacity="0.53"/><circle cx="50.2" cy="49.2" r="0.90" fill="#e030b8" opacity="0.75"/><circle cx="51.3" cy="50.8" r="0.93" fill="#f02888" opacity="0.77"/><circle cx="52.8" cy="51.1" r="0.97" fill="#f02478" opacity="0.53"/><circle cx="53.8" cy="51.9" r="0.82" fill="#ea2c96" opacity="0.74"/><circle cx="54.6" cy="52.8" r="0.95" fill="#f02478" opacity="0.53"/><circle cx="56.2" cy="53.3" r="0.48" fill="#ff2464" opacity="0.61"/><circle cx="57.3" cy="53.9" r="0.42" fill="#ff2464" opacity="0.79"/><circle cx="59.1" cy="55.1" r="0.93" fill="#c840d8" opacity="0.55"/><circle cx="60.4" cy="54.7" r="0.72" fill="#ff2464" opacity="0.66"/><circle cx="61.8" cy="57.0" r="0.72" fill="#c840d8" opacity="0.64"/><circle cx="63.2" cy="57.5" r="0.65" fill="#e030b8" opacity="0.94"/><circle cx="64.6" cy="57.1" r="0.44" fill="#e030b8" opacity="0.48"/><circle cx="66.2" cy="58.3" r="0.65" fill="#f02478" opacity="0.88"/><circle cx="67.5" cy="59.3" r="0.48" fill="#e030b8" opacity="1.00"/><circle cx="68.3" cy="59.6" r="0.94" fill="#f02888" opacity="0.95"/><circle cx="70.2" cy="59.5" r="1.02" fill="#ff2464" opacity="0.89"/><circle cx="70.9" cy="61.1" r="0.90" fill="#f02888" opacity="0.67"/><circle cx="72.5" cy="61.8" r="0.88" fill="#ff2464" opacity="0.85"/><circle cx="73.5" cy="61.9" r="0.72" fill="#f02888" opacity="0.91"/><circle cx="75.0" cy="63.5" r="1.04" fill="#f02888" opacity="0.74"/><circle cx="76.2" cy="63.3" r="0.75" fill="#ff2464" opacity="0.49"/><circle cx="77.9" cy="64.6" r="0.54" fill="#ea2c96" opacity="0.46"/><circle cx="79.5" cy="64.3" r="0.81" fill="#e030b8" opacity="0.59"/><circle cx="80.8" cy="64.4" r="0.71" fill="#f02478" opacity="0.65"/><circle cx="81.9" cy="65.2" r="0.98" fill="#c840d8" opacity="0.83"/><circle cx="83.0" cy="66.5" r="0.70" fill="#f02478" opacity="0.93"/><circle cx="85.3" cy="66.9" r="1.04" fill="#ea2c96" opacity="0.52"/><circle cx="86.7" cy="66.8" r="0.65" fill="#f02478" opacity="0.49"/><circle cx="87.7" cy="68.5" r="0.57" fill="#f02478" opacity="0.72"/><circle cx="89.0" cy="67.7" r="0.66" fill="#ea2c96" opacity="0.71"/><circle cx="90.4" cy="68.0" r="1.05" fill="#f02888" opacity="0.80"/><circle cx="92.0" cy="69.2" r="0.77" fill="#ea2c96" opacity="0.54"/><circle cx="93.1" cy="69.7" r="0.70" fill="#f02888" opacity="0.62"/><circle cx="95.0" cy="70.1" r="0.89" fill="#e030b8" opacity="0.73"/><circle cx="96.5" cy="71.3" r="0.60" fill="#e030b8" opacity="0.58"/><circle cx="97.9" cy="71.1" r="0.94" fill="#f02478" opacity="0.75"/><circle cx="98.8" cy="71.1" r="0.90" fill="#ea2c96" opacity="0.54"/><circle cx="100.2" cy="71.6" r="0.43" fill="#f02478" opacity="0.59"/><circle cx="101.8" cy="72.1" r="0.90" fill="#f02888" opacity="0.46"/><circle cx="103.9" cy="71.9" r="0.50" fill="#f02888" opacity="0.47"/><circle cx="105.4" cy="73.0" r="0.47" fill="#ff2464" opacity="0.84"/><circle cx="107.0" cy="71.7" r="0.61" fill="#f02888" opacity="0.68"/><circle cx="108.0" cy="72.7" r="0.68" fill="#f02888" opacity="0.51"/><circle cx="110.0" cy="71.6" r="0.87" fill="#f02478" opacity="0.71"/><circle cx="110.8" cy="71.2" r="0.89" fill="#f02478" opacity="0.61"/><circle cx="113.3" cy="71.8" r="0.87" fill="#f02888" opacity="0.47"/><circle cx="113.8" cy="72.1" r="0.63" fill="#ea2c96" opacity="0.52"/>
<circle cx="108.0" cy="69.0" r="0.97" fill="#f02478" opacity="0.75"/>
<circle cx="110.0" cy="70.8" r="0.95" fill="#ff2464" opacity="0.54"/>
<circle cx="107.7" cy="72.6" r="0.77" fill="#f02478" opacity="0.62"/>
<circle cx="104.5" cy="68.8" r="0.64" fill="#ea2c96" opacity="0.84"/>
<circle cx="105.8" cy="70.2" r="0.51" fill="#e030b8" opacity="0.74"/>
<circle cx="106.1" cy="71.8" r="0.88" fill="#f02478" opacity="0.86"/>
<circle cx="101.6" cy="72.0" r="0.51" fill="#ff2464" opacity="0.82"/>
<circle cx="102.0" cy="71.0" r="0.95" fill="#e030b8" opacity="0.66"/>
<circle cx="100.8" cy="72.7" r="0.96" fill="#ea2c96" opacity="0.90"/>
<circle cx="100.3" cy="69.9" r="0.68" fill="#f02478" opacity="0.71"/>
<circle cx="101.4" cy="68.4" r="0.44" fill="#f02478" opacity="0.64"/>
<circle cx="95.7" cy="71.5" r="0.85" fill="#e030b8" opacity="0.91"/>
<circle cx="97.4" cy="72.5" r="0.78" fill="#ea2c96" opacity="0.85"/>
<circle cx="111.2" cy="71.8" r="0.67" fill="#f02478" opacity="0.96"/>
<circle cx="112.0" cy="71.1" r="0.50" fill="#ea2c96" opacity="0.70"/>
<circle cx="100.4" cy="68.2" r="0.45" fill="#e030b8" opacity="0.88"/>
<circle cx="104.3" cy="72.5" r="0.67" fill="#f02478" opacity="0.83"/>
<circle cx="90.3" cy="70.2" r="0.92" fill="#ff2464" opacity="0.77"/>
<circle cx="96.5" cy="71.0" r="0.81" fill="#e030b8" opacity="0.80"/>
<circle cx="100.1" cy="69.6" r="0.44" fill="#e030b8" opacity="0.85"/>
<circle cx="110.1" cy="71.3" r="0.82" fill="#f02478" opacity="0.97"/>
<circle cx="104.0" cy="69.5" r="0.66" fill="#ea2c96" opacity="0.64"/>
<circle cx="92.6" cy="70.8" r="0.50" fill="#f02478" opacity="0.72"/>
<circle cx="108.3" cy="72.7" r="0.66" fill="#e030b8" opacity="0.58"/>
<circle cx="110.6" cy="71.4" r="0.80" fill="#f02478" opacity="0.53"/>
<circle cx="103.0" cy="70.8" r="0.96" fill="#ea2c96" opacity="0.53"/>
<circle cx="47.9" cy="38.7" r="0.86" fill="#e030b8" opacity="0.93"/>
<circle cx="47.1" cy="35.8" r="0.98" fill="#e030b8" opacity="0.92"/>
<circle cx="54.9" cy="38.0" r="0.55" fill="#ea2c96" opacity="0.79"/>
<circle cx="47.3" cy="37.7" r="0.43" fill="#ff2464" opacity="0.83"/>
<circle cx="48.8" cy="37.4" r="0.43" fill="#e030b8" opacity="0.74"/>
<circle cx="47.6" cy="38.9" r="0.69" fill="#f02478" opacity="0.69"/>
<circle cx="59.8" cy="37.3" r="0.68" fill="#ea2c96" opacity="0.91"/>
<circle cx="58.4" cy="35.9" r="0.66" fill="#e030b8" opacity="0.55"/>
<g transform="translate(99.0,0)">
<g clip-path="url(#ic)">
<rect width="40.0" height="37.5" fill="#1818ea"/>
<rect width="40.0" height="37.5" filter="url(#nzi)" opacity="0.35"/>
<path d="M6.7 18.1L22.2 12.9L41.2 7.3L41.2 22.0L22.2 20.7L11.9 20.3Z" fill="#020214" filter="url(#b08)"/>
<path d="M1.6 17.7C2.3 17.2 3.9 15.9 5.9 15.1C7.9 14.2 10.5 13.5 13.6 12.5C16.8 11.5 21.7 10.0 24.8 9.1C28.0 8.1 31.3 7.3 32.6 6.9" stroke="#f0209a" stroke-width="2.4" fill="none" opacity="0.5" stroke-linecap="round" filter="url(#b08)"/>
<circle cx="2.2" cy="18.4" r="0.65" fill="#ff2080" opacity="0.86"/>
<circle cx="3.0" cy="17.8" r="0.54" fill="#e050f0" opacity="0.88"/>
<circle cx="4.0" cy="16.5" r="0.57" fill="#f040d0" opacity="0.72"/>
<circle cx="4.3" cy="16.7" r="0.91" fill="#e050f0" opacity="0.85"/>
<circle cx="5.8" cy="14.2" r="0.71" fill="#e050f0" opacity="0.71"/>
<circle cx="7.0" cy="15.4" r="0.60" fill="#ff2080" opacity="0.75"/>
<circle cx="9.6" cy="14.7" r="0.92" fill="#f040d0" opacity="0.89"/>
<circle cx="12.0" cy="12.4" r="0.57" fill="#e050f0" opacity="0.86"/>
<circle cx="14.4" cy="12.6" r="0.63" fill="#ff30a0" opacity="0.95"/>
<circle cx="15.5" cy="11.5" r="0.86" fill="#ff30a0" opacity="0.89"/>
<circle cx="19.2" cy="11.0" r="0.69" fill="#ff30a0" opacity="0.87"/>
<circle cx="22.9" cy="10.0" r="0.49" fill="#e050f0" opacity="0.70"/>
<circle cx="25.3" cy="8.8" r="0.69" fill="#ff2080" opacity="1.00"/>
<circle cx="26.5" cy="7.5" r="0.85" fill="#e050f0" opacity="0.75"/>
<circle cx="29.4" cy="8.3" r="0.61" fill="#ff30a0" opacity="0.82"/>
<circle cx="30.7" cy="7.9" r="0.95" fill="#ff30a0" opacity="0.95"/>
<circle cx="31.8" cy="7.1" r="0.81" fill="#e050f0" opacity="0.95"/>
<path d="M9.3 22.4C10.5 22.4 13.0 22.3 16.2 22.4C19.4 22.5 24.7 22.6 28.3 22.8C31.9 23.1 36.2 23.9 37.8 24.1" stroke="#f0209a" stroke-width="2.4" fill="none" opacity="0.5" stroke-linecap="round" filter="url(#b08)"/>
<circle cx="9.2" cy="22.2" r="0.82" fill="#ff2080" opacity="0.85"/>
<circle cx="10.2" cy="22.5" r="0.67" fill="#ff30a0" opacity="0.90"/>
<circle cx="12.0" cy="22.4" r="0.57" fill="#ff30a0" opacity="0.86"/>
<circle cx="13.7" cy="22.9" r="0.72" fill="#e050f0" opacity="0.84"/>
<circle cx="16.5" cy="21.3" r="0.50" fill="#ff30a0" opacity="0.95"/>
<circle cx="19.4" cy="23.1" r="0.71" fill="#ff30a0" opacity="0.83"/>
<circle cx="22.4" cy="22.9" r="0.50" fill="#e050f0" opacity="0.99"/>
<circle cx="25.3" cy="22.5" r="0.53" fill="#f040d0" opacity="0.81"/>
<circle cx="28.3" cy="22.4" r="0.78" fill="#f040d0" opacity="0.62"/>
<circle cx="30.4" cy="22.6" r="0.89" fill="#f040d0" opacity="0.79"/>
<circle cx="34.3" cy="23.1" r="0.48" fill="#e050f0" opacity="0.70"/>
<circle cx="36.1" cy="24.9" r="0.49" fill="#e050f0" opacity="0.92"/>
<circle cx="37.9" cy="25.0" r="0.87" fill="#e050f0" opacity="0.77"/>
<ellipse cx="1.6" cy="17.7" rx="2.0" ry="1.4" fill="#ff20b0" filter="url(#b07)"/>
<ellipse cx="5.9" cy="15.1" rx="1.7" ry="1.3" fill="#ff30b0" filter="url(#b07)"/>
<ellipse cx="13.6" cy="12.5" rx="1.5" ry="1.1" fill="#e030d0" filter="url(#b07)"/>
<ellipse cx="24.8" cy="9.1" rx="2.1" ry="1.5" fill="#ff20c0" filter="url(#b07)"/>
<ellipse cx="32.6" cy="6.9" rx="2.1" ry="1.5" fill="#ff20c0" filter="url(#b07)"/>
<ellipse cx="9.3" cy="22.4" rx="1.7" ry="1.3" fill="#ff30d0" filter="url(#b07)"/>
<ellipse cx="16.2" cy="22.4" rx="1.4" ry="1.0" fill="#e040e0" filter="url(#b07)"/>
<ellipse cx="28.3" cy="22.8" rx="1.7" ry="1.3" fill="#ff30c0" filter="url(#b07)"/>
<ellipse cx="37.8" cy="24.1" rx="1.1" ry="0.8" fill="#e060e0" filter="url(#b07)"/>
</g>
<path d="M0.5 0V37.3H40.0" stroke="#d4d4f6" stroke-width="1.15" fill="none"/>
</g>
</g>
<g transform="translate(168.0,277.7)" clip-path="url(#pc)">
<rect width="139.0" height="104.5" fill="#010112"/>
<mask id="mC2" maskUnits="userSpaceOnUse" x="0" y="0" width="139.0" height="104.5"><rect width="139.0" height="104.5" fill="#3a3a3a"/><path d="M22.0 28.0C22.8 27.5 23.8 25.8 27.0 25.0C30.2 24.2 36.2 23.0 41.0 23.0C45.8 23.0 51.2 24.0 56.0 25.0C60.8 26.0 65.3 28.2 70.0 29.0C74.7 29.8 79.5 30.2 84.0 30.0C88.5 29.8 93.8 28.7 97.0 28.0C100.2 27.3 95.2 27.3 103.0 26.0C110.8 24.7 137.2 25.2 144.0 20.0C150.8 14.8 164.3 -0.8 144.0 -5.0C123.7 -9.2 42.3 -5.0 22.0 -5.0Z" fill="#fff" filter="url(#b3)"/></mask>
<path d="M22.0 28.0C22.8 27.5 23.8 25.8 27.0 25.0C30.2 24.2 36.2 23.0 41.0 23.0C45.8 23.0 51.2 24.0 56.0 25.0C60.8 26.0 65.3 28.2 70.0 29.0C74.7 29.8 79.5 30.2 84.0 30.0C88.5 29.8 93.8 28.7 97.0 28.0C100.2 27.3 95.2 27.3 103.0 26.0C110.8 24.7 137.2 25.2 144.0 20.0C150.8 14.8 164.3 -0.8 144.0 -5.0C123.7 -9.2 42.3 -5.0 22.0 -5.0Z" fill="#08087c" opacity="0.25" filter="url(#b4)"/>
<ellipse cx="3" cy="8" rx="9" ry="14" fill="#1010a8" opacity="0.00" filter="url(#b4)"/>
<rect x="-5" y="70.5" width="149.0" height="40" fill="#070760" opacity="0.08" filter="url(#b4)"/>
<path d="M-2.0 74.0C2.3 76.3 15.3 83.3 24.0 88.0C32.7 92.7 45.7 99.7 50.0 102.0" stroke="#1010a8" stroke-width="4.5" fill="none" opacity="0.75" filter="url(#b2)"/>
<rect width="139.0" height="104.5" filter="url(#nz)" mask="url(#mC2)" opacity="0.61"/>
<path d="M15.0 42.0C17.0 41.2 22.7 38.2 27.0 37.0C31.3 35.8 36.2 35.0 41.0 35.0C45.8 35.0 51.2 36.0 56.0 37.0C60.8 38.0 65.3 40.2 70.0 41.0C74.7 41.8 79.5 42.2 84.0 42.0C88.5 41.8 93.8 40.7 97.0 40.0C100.2 39.3 102.0 38.3 103.0 38.0" stroke="#020216" stroke-width="15" fill="none" opacity="0.8" stroke-linecap="round" filter="url(#b3)"/>
<path d="M15.0 44.0C17.7 44.0 25.7 43.3 31.0 44.0C36.3 44.7 41.5 46.3 47.0 48.0C52.5 49.7 58.5 52.0 64.0 54.0C69.5 56.0 74.8 58.7 80.0 60.0C85.2 61.3 90.2 62.3 95.0 62.0C99.8 61.7 104.3 59.7 109.0 58.0C113.7 56.3 118.8 53.3 123.0 52.0C127.2 50.7 132.2 50.3 134.0 50.0" stroke="#020216" stroke-width="15" fill="none" opacity="0.8" stroke-linecap="round" filter="url(#b3)"/>
<path d="M16.1 44.5L17.6 44.2L19.5 43.6L21.6 43.0L23.8 42.1L26.0 41.3L28.0 40.6L30.1 40.1L32.2 39.6L34.4 39.3L36.6 39.0L38.8 38.8L41.0 38.7L43.2 38.8L45.6 39.0L48.0 39.3L50.4 39.7L52.8 40.2L55.2 40.7L57.4 41.2L59.6 41.9L61.9 42.6L64.3 43.4L66.7 44.1L69.3 44.7L71.8 45.1L74.3 45.4L76.8 45.6L79.3 45.7L81.7 45.8L84.2 45.7L86.7 45.6L89.2 45.3L91.6 44.7L93.9 44.1L95.9 43.5L97.7 43.0L99.2 42.4L100.6 41.8L101.7 41.3L102.6 40.7L103.3 40.3L103.7 39.9L102.3 36.1L101.6 36.2L100.8 36.3L99.9 36.5L98.9 36.7L97.7 36.8L96.3 37.0L94.6 37.2L92.6 37.4L90.4 37.7L88.2 37.8L86.0 38.1L83.8 38.3L81.7 38.3L79.5 38.3L77.3 38.1L75.1 37.9L72.9 37.7L70.7 37.3L68.6 36.9L66.5 36.2L64.2 35.5L61.9 34.7L59.4 34.0L56.8 33.3L54.3 32.8L51.7 32.3L49.0 31.9L46.4 31.6L43.7 31.3L41.0 31.3L38.4 31.3L35.8 31.5L33.3 31.9L30.8 32.3L28.4 32.8L26.0 33.4L23.5 34.2L21.0 35.2L18.6 36.3L16.6 37.5L15.0 38.7L13.9 39.5Z" fill="#0e0eb0" opacity="0.4" filter="url(#b15)"/>
<path d="M15.6 43.4L17.0 43.1L18.9 42.5L21.1 41.8L23.3 40.9L25.6 40.0L27.7 39.4L29.8 38.8L31.9 38.4L34.2 38.0L36.4 37.7L38.7 37.5L41.0 37.4L43.3 37.5L45.7 37.7L48.1 38.0L50.6 38.5L53.1 38.9L55.5 39.4L57.7 39.9L60.0 40.6L62.3 41.4L64.6 42.2L67.1 42.9L69.5 43.4L72.0 43.8L74.4 44.1L76.9 44.3L79.3 44.4L81.7 44.5L84.1 44.4L86.5 44.3L89.0 44.0L91.4 43.5L93.6 42.9L95.7 42.3L97.4 41.8L98.9 41.3L100.2 40.7L101.3 40.2L102.2 39.7L102.8 39.2L103.3 38.9L102.7 37.1L102.0 37.2L101.2 37.4L100.3 37.6L99.3 37.8L98.0 38.0L96.6 38.2L94.8 38.4L92.8 38.7L90.6 38.9L88.3 39.1L86.1 39.4L83.9 39.6L81.7 39.6L79.5 39.6L77.2 39.4L75.0 39.2L72.7 38.9L70.5 38.6L68.3 38.1L66.1 37.5L63.8 36.7L61.5 36.0L59.0 35.2L56.5 34.6L54.0 34.1L51.5 33.6L48.9 33.2L46.2 32.9L43.6 32.6L41.0 32.6L38.5 32.6L35.9 32.8L33.4 33.1L31.0 33.6L28.7 34.1L26.3 34.6L23.9 35.4L21.5 36.4L19.1 37.4L17.1 38.7L15.5 39.8L14.4 40.6Z" fill="#1717d8" stroke="#1717d8" stroke-width="0.8" stroke-linejoin="round" filter="url(#b08)"/>
<path d="M15.1 47.0L16.9 47.3L19.3 47.5L22.1 47.8L25.1 48.0L27.9 48.0L30.5 48.2L32.9 48.6L35.3 49.1L37.8 49.7L40.4 50.5L43.0 51.2L45.7 52.1L48.5 52.9L51.2 53.9L54.1 54.9L56.9 55.9L59.7 57.0L62.5 58.0L65.2 59.0L67.8 60.1L70.5 61.2L73.3 62.3L76.1 63.3L78.9 64.1L81.6 64.8L84.3 65.4L87.0 65.8L89.7 66.2L92.5 66.3L95.3 66.2L98.1 65.9L100.8 65.3L103.4 64.5L105.8 63.7L108.1 62.8L110.5 62.0L113.0 60.9L115.4 59.6L117.8 58.3L120.0 57.1L122.1 56.0L124.0 55.1L125.9 54.4L127.8 53.9L129.8 53.4L131.6 52.9L133.2 52.6L134.3 52.2L133.7 47.8L132.5 47.8L130.9 47.8L129.0 47.9L126.8 48.1L124.4 48.4L122.0 48.9L119.6 49.6L117.1 50.5L114.6 51.4L112.1 52.4L109.8 53.2L107.5 54.0L105.2 54.9L102.9 55.7L100.8 56.5L98.7 57.1L96.7 57.5L94.7 57.8L92.6 57.8L90.5 57.7L88.2 57.4L85.9 57.0L83.5 56.5L81.1 55.9L78.7 55.2L76.3 54.3L73.7 53.3L71.1 52.2L68.3 51.1L65.5 50.0L62.7 49.0L59.8 47.9L56.9 46.9L54.0 45.8L51.1 44.8L48.3 43.9L45.5 43.1L42.8 42.3L40.0 41.5L37.2 40.8L34.4 40.2L31.5 39.8L28.4 39.5L25.1 39.5L21.9 39.7L19.0 40.2L16.6 40.6L14.9 41.0Z" fill="#0e0eb0" opacity="0.4" filter="url(#b15)"/>
<path d="M15.0 45.8L16.8 46.1L19.2 46.3L22.1 46.5L25.1 46.7L28.0 46.7L30.7 46.9L33.1 47.3L35.6 47.8L38.2 48.5L40.8 49.2L43.4 50.0L46.1 50.8L48.9 51.7L51.7 52.6L54.5 53.6L57.4 54.7L60.2 55.7L63.0 56.8L65.7 57.8L68.3 58.9L71.0 60.0L73.7 61.1L76.5 62.0L79.2 62.8L81.9 63.5L84.5 64.1L87.2 64.5L89.9 64.9L92.5 65.0L95.2 64.9L97.9 64.6L100.5 64.0L103.0 63.3L105.4 62.5L107.7 61.6L110.0 60.8L112.5 59.7L114.9 58.5L117.3 57.2L119.5 56.0L121.7 54.9L123.6 54.0L125.6 53.3L127.6 52.7L129.6 52.2L131.4 51.8L133.0 51.4L134.2 51.1L133.8 48.9L132.7 48.9L131.1 48.9L129.1 49.0L127.0 49.2L124.7 49.5L122.4 50.0L120.0 50.7L117.6 51.6L115.1 52.6L112.7 53.5L110.3 54.4L108.0 55.2L105.7 56.1L103.4 56.9L101.2 57.7L99.0 58.3L96.9 58.8L94.8 59.1L92.6 59.1L90.4 59.0L88.1 58.7L85.7 58.3L83.2 57.8L80.8 57.2L78.3 56.4L75.8 55.5L73.2 54.5L70.6 53.4L67.8 52.3L65.0 51.2L62.2 50.2L59.4 49.2L56.5 48.1L53.6 47.1L50.7 46.1L47.9 45.2L45.1 44.3L42.4 43.5L39.7 42.8L37.0 42.1L34.2 41.5L31.3 41.1L28.3 40.8L25.1 40.8L21.9 41.0L19.1 41.4L16.7 41.8L15.0 42.2Z" fill="#1717d8" stroke="#1717d8" stroke-width="0.8" stroke-linejoin="round" filter="url(#b08)"/>
<path d="M28.8 39.1C32.6 39.2 44.2 39.2 51.4 40.1C58.6 40.9 66.1 43.5 72.0 44.2C77.8 44.9 84.0 44.2 86.3 44.2" stroke="#c81c80" stroke-width="2.6" fill="none" opacity="0.24" stroke-linecap="round" filter="url(#b05)"/>
<circle cx="29.4" cy="38.5" r="1.00" fill="#c840d8" opacity="0.64"/><circle cx="31.7" cy="39.3" r="0.92" fill="#c840d8" opacity="0.64"/><circle cx="33.3" cy="39.6" r="0.60" fill="#f02888" opacity="0.45"/><circle cx="34.8" cy="38.6" r="0.66" fill="#f02888" opacity="0.63"/><circle cx="36.4" cy="39.6" r="0.41" fill="#f02478" opacity="0.67"/><circle cx="37.4" cy="38.2" r="0.79" fill="#e030b8" opacity="0.79"/><circle cx="39.6" cy="38.4" r="0.74" fill="#ff2464" opacity="0.72"/><circle cx="40.7" cy="39.9" r="0.83" fill="#c840d8" opacity="0.61"/><circle cx="43.8" cy="38.6" r="0.86" fill="#ea2c96" opacity="0.56"/><circle cx="44.8" cy="40.2" r="0.77" fill="#f02478" opacity="0.46"/><circle cx="47.0" cy="39.6" r="1.02" fill="#f02478" opacity="0.82"/><circle cx="47.8" cy="38.6" r="0.43" fill="#f02888" opacity="0.59"/><circle cx="49.8" cy="40.4" r="0.81" fill="#e030b8" opacity="0.79"/><circle cx="51.4" cy="40.0" r="0.41" fill="#f02478" opacity="0.61"/><circle cx="52.8" cy="39.5" r="0.41" fill="#ff2464" opacity="0.64"/><circle cx="54.5" cy="40.1" r="0.69" fill="#f02888" opacity="0.50"/><circle cx="57.0" cy="40.9" r="0.65" fill="#ea2c96" opacity="0.60"/><circle cx="57.6" cy="40.1" r="1.03" fill="#f02478" opacity="0.70"/><circle cx="59.6" cy="41.4" r="0.96" fill="#f02478" opacity="0.72"/><circle cx="61.0" cy="42.2" r="0.69" fill="#c840d8" opacity="0.41"/><circle cx="63.1" cy="42.3" r="0.45" fill="#c840d8" opacity="0.45"/><circle cx="65.2" cy="43.3" r="0.64" fill="#ea2c96" opacity="0.71"/><circle cx="67.3" cy="42.8" r="0.77" fill="#ea2c96" opacity="0.83"/><circle cx="68.5" cy="43.4" r="0.55" fill="#f02888" opacity="0.71"/><circle cx="69.6" cy="42.8" r="1.01" fill="#ff2464" opacity="0.50"/><circle cx="72.2" cy="43.5" r="0.67" fill="#f02478" opacity="0.46"/><circle cx="73.4" cy="44.2" r="0.88" fill="#ff2464" opacity="0.60"/><circle cx="75.5" cy="43.5" r="0.59" fill="#f02888" opacity="0.49"/><circle cx="77.4" cy="44.4" r="0.71" fill="#c840d8" opacity="0.73"/><circle cx="78.7" cy="44.1" r="1.00" fill="#f02478" opacity="0.51"/><circle cx="79.6" cy="43.9" r="0.56" fill="#e030b8" opacity="0.43"/><circle cx="81.7" cy="43.6" r="0.49" fill="#ff2464" opacity="0.58"/><circle cx="84.3" cy="43.4" r="0.85" fill="#ea2c96" opacity="0.69"/><circle cx="85.4" cy="42.9" r="0.71" fill="#e030b8" opacity="0.58"/>
<path d="M28.8 41.1C32.6 42.1 44.2 45.1 51.4 47.3C58.6 49.5 66.1 52.7 72.0 54.5C77.8 56.3 82.2 57.7 86.3 58.0C90.5 58.2 90.5 57.2 96.6 55.9C102.8 54.7 118.9 51.3 123.4 50.4" stroke="#c81c80" stroke-width="2.6" fill="none" opacity="0.24" stroke-linecap="round" filter="url(#b05)"/>
<circle cx="30.1" cy="41.0" r="0.81" fill="#f02888" opacity="0.64"/><circle cx="30.9" cy="41.5" r="0.45" fill="#e030b8" opacity="0.63"/><circle cx="33.1" cy="43.6" r="0.88" fill="#e030b8" opacity="0.75"/><circle cx="34.2" cy="43.5" r="0.99" fill="#ff2464" opacity="0.84"/><circle cx="36.7" cy="42.8" r="0.72" fill="#f02888" opacity="0.41"/><circle cx="37.6" cy="44.2" r="0.80" fill="#f02888" opacity="0.44"/><circle cx="38.9" cy="43.9" r="0.67" fill="#f02888" opacity="0.57"/><circle cx="41.3" cy="44.9" r="0.70" fill="#c840d8" opacity="0.67"/><circle cx="43.0" cy="44.6" r="0.79" fill="#ea2c96" opacity="0.64"/><circle cx="45.0" cy="45.3" r="0.91" fill="#ff2464" opacity="0.73"/><circle cx="45.7" cy="45.2" r="0.60" fill="#ea2c96" opacity="0.74"/><circle cx="47.7" cy="47.3" r="0.62" fill="#ff2464" opacity="0.87"/><circle cx="49.8" cy="47.0" r="0.83" fill="#ff2464" opacity="0.50"/><circle cx="51.4" cy="48.3" r="0.53" fill="#ea2c96" opacity="0.51"/><circle cx="52.7" cy="47.9" r="0.49" fill="#f02478" opacity="0.65"/><circle cx="54.5" cy="49.8" r="0.58" fill="#ff2464" opacity="0.49"/><circle cx="55.8" cy="50.2" r="0.94" fill="#c840d8" opacity="0.59"/><circle cx="57.4" cy="49.5" r="0.95" fill="#ff2464" opacity="0.89"/><circle cx="58.8" cy="51.0" r="0.58" fill="#f02888" opacity="0.71"/><circle cx="61.0" cy="51.3" r="0.60" fill="#f02478" opacity="0.80"/><circle cx="62.5" cy="51.5" r="0.52" fill="#e030b8" opacity="0.79"/><circle cx="63.6" cy="51.3" r="0.43" fill="#ff2464" opacity="0.72"/><circle cx="65.0" cy="52.6" r="0.82" fill="#f02478" opacity="0.59"/><circle cx="67.4" cy="52.8" r="0.71" fill="#f02478" opacity="0.49"/><circle cx="69.1" cy="54.1" r="0.42" fill="#e030b8" opacity="0.52"/><circle cx="70.5" cy="55.4" r="0.73" fill="#ea2c96" opacity="0.90"/><circle cx="71.9" cy="55.5" r="0.99" fill="#f02888" opacity="0.45"/><circle cx="73.6" cy="55.3" r="0.53" fill="#f02478" opacity="0.84"/><circle cx="75.2" cy="55.9" r="0.97" fill="#e030b8" opacity="0.80"/><circle cx="77.0" cy="56.5" r="0.53" fill="#f02888" opacity="0.76"/><circle cx="79.3" cy="56.0" r="0.56" fill="#f02478" opacity="0.60"/><circle cx="81.0" cy="57.3" r="0.91" fill="#f02888" opacity="0.56"/><circle cx="82.5" cy="57.2" r="0.45" fill="#c840d8" opacity="0.62"/><circle cx="83.6" cy="57.4" r="1.00" fill="#f02478" opacity="0.51"/><circle cx="85.3" cy="57.3" r="0.75" fill="#ea2c96" opacity="0.74"/><circle cx="87.0" cy="59.3" r="0.99" fill="#f02888" opacity="0.66"/><circle cx="89.0" cy="58.8" r="0.72" fill="#f02478" opacity="0.87"/><circle cx="90.8" cy="57.5" r="0.76" fill="#c840d8" opacity="0.82"/><circle cx="92.3" cy="57.3" r="0.95" fill="#e030b8" opacity="0.68"/><circle cx="94.0" cy="57.9" r="0.97" fill="#e030b8" opacity="0.71"/><circle cx="95.9" cy="57.5" r="0.74" fill="#ea2c96" opacity="0.69"/><circle cx="97.0" cy="55.6" r="0.40" fill="#c840d8" opacity="0.59"/><circle cx="99.5" cy="55.9" r="0.66" fill="#c840d8" opacity="0.80"/><circle cx="100.0" cy="54.9" r="0.51" fill="#ff2464" opacity="0.87"/><circle cx="102.1" cy="56.2" r="1.00" fill="#ff2464" opacity="0.54"/><circle cx="103.9" cy="54.6" r="0.99" fill="#ff2464" opacity="0.87"/><circle cx="105.6" cy="53.8" r="0.67" fill="#e030b8" opacity="0.42"/><circle cx="106.7" cy="54.9" r="0.41" fill="#ea2c96" opacity="0.50"/><circle cx="108.2" cy="53.6" r="0.87" fill="#ff2464" opacity="0.53"/><circle cx="110.1" cy="54.1" r="0.48" fill="#e030b8" opacity="0.66"/><circle cx="112.6" cy="53.5" r="0.97" fill="#f02888" opacity="0.42"/><circle cx="113.8" cy="52.9" r="0.50" fill="#f02888" opacity="0.51"/><circle cx="115.7" cy="51.9" r="0.54" fill="#c840d8" opacity="0.67"/><circle cx="117.8" cy="51.5" r="0.88" fill="#ea2c96" opacity="0.81"/><circle cx="118.7" cy="51.5" r="1.00" fill="#ea2c96" opacity="0.51"/><circle cx="121.2" cy="50.6" r="0.56" fill="#e030b8" opacity="0.76"/><circle cx="122.2" cy="51.0" r="1.01" fill="#f02888" opacity="0.67"/>
<g transform="translate(99.0,0)">
<g clip-path="url(#ic)">
<rect width="40.0" height="37.5" fill="#1616ee"/>
<rect width="40.0" height="37.5" filter="url(#nzi)" opacity="0.35"/>
<path d="M-4.1 15.7C-3.5 15.8 -3.8 15.8 -0.2 16.4C3.5 17.0 11.4 18.0 17.9 19.4C24.5 20.8 35.0 23.5 39.2 24.6C43.4 25.6 42.5 25.4 43.1 25.5" stroke="#020216" stroke-width="6.5" fill="none" filter="url(#b1)"/>
<path d="M10.2 12.9C11.2 12.8 14.6 12.3 16.6 12.3C18.6 12.4 19.9 12.6 22.2 13.4C24.6 14.1 29.4 16.1 30.9 16.6" stroke="#f0209a" stroke-width="2.4" fill="none" opacity="0.5" stroke-linecap="round" filter="url(#b08)"/>
<circle cx="10.4" cy="12.9" r="0.58" fill="#e050f0" opacity="0.85"/>
<circle cx="11.4" cy="12.6" r="0.73" fill="#e050f0" opacity="0.77"/>
<circle cx="13.3" cy="12.1" r="0.65" fill="#e050f0" opacity="0.72"/>
<circle cx="14.6" cy="13.6" r="0.80" fill="#f040d0" opacity="0.66"/>
<circle cx="16.0" cy="11.3" r="0.49" fill="#ff30a0" opacity="0.73"/>
<circle cx="17.8" cy="12.8" r="0.85" fill="#e050f0" opacity="0.98"/>
<circle cx="18.9" cy="12.7" r="0.47" fill="#ff2080" opacity="0.85"/>
<circle cx="20.6" cy="14.0" r="0.64" fill="#f040d0" opacity="0.74"/>
<circle cx="21.8" cy="14.5" r="0.68" fill="#f040d0" opacity="0.69"/>
<circle cx="24.3" cy="13.4" r="0.79" fill="#ff2080" opacity="0.88"/>
<circle cx="27.3" cy="15.9" r="0.63" fill="#e050f0" opacity="0.65"/>
<circle cx="28.6" cy="15.9" r="0.65" fill="#ff2080" opacity="0.68"/>
<circle cx="31.6" cy="16.4" r="0.91" fill="#f040d0" opacity="0.98"/>
<path d="M3.3 18.5C4.6 18.8 8.6 19.2 11.0 19.8C13.5 20.4 15.2 21.3 17.9 22.2C20.7 23.0 25.8 24.5 27.4 25.0" stroke="#f0209a" stroke-width="2.4" fill="none" opacity="0.5" stroke-linecap="round" filter="url(#b08)"/>
<circle cx="3.5" cy="18.5" r="0.58" fill="#e050f0" opacity="0.85"/>
<circle cx="4.7" cy="18.5" r="0.73" fill="#e050f0" opacity="0.77"/>
<circle cx="6.9" cy="18.6" r="0.65" fill="#e050f0" opacity="0.72"/>
<circle cx="8.6" cy="20.6" r="0.80" fill="#f040d0" opacity="0.66"/>
<circle cx="10.4" cy="18.8" r="0.49" fill="#ff30a0" opacity="0.73"/>
<circle cx="12.5" cy="20.7" r="0.85" fill="#e050f0" opacity="0.98"/>
<circle cx="14.0" cy="21.0" r="0.47" fill="#ff2080" opacity="0.85"/>
<circle cx="16.0" cy="22.6" r="0.64" fill="#f040d0" opacity="0.74"/>
<circle cx="17.5" cy="23.3" r="0.68" fill="#f040d0" opacity="0.69"/>
<circle cx="20.2" cy="22.2" r="0.79" fill="#ff2080" opacity="0.88"/>
<circle cx="23.5" cy="24.5" r="0.63" fill="#e050f0" opacity="0.65"/>
<circle cx="25.0" cy="24.4" r="0.65" fill="#ff2080" opacity="0.68"/>
<circle cx="28.2" cy="24.8" r="0.91" fill="#f040d0" opacity="0.98"/>
<ellipse cx="10.2" cy="12.9" rx="2.0" ry="1.4" fill="#ff20b0" filter="url(#b07)"/>
<ellipse cx="16.6" cy="12.3" rx="2.3" ry="1.7" fill="#f030e0" filter="url(#b07)"/>
<ellipse cx="22.2" cy="13.4" rx="1.6" ry="1.2" fill="#e030e0" filter="url(#b07)"/>
<ellipse cx="30.9" cy="16.6" rx="1.8" ry="1.4" fill="#e030d0" filter="url(#b07)"/>
<ellipse cx="3.3" cy="18.5" rx="1.8" ry="1.4" fill="#ff30a0" filter="url(#b07)"/>
<ellipse cx="11.0" cy="19.8" rx="1.5" ry="1.1" fill="#ff30a0" filter="url(#b07)"/>
<ellipse cx="17.9" cy="22.2" rx="2.5" ry="1.9" fill="#f020e0" filter="url(#b07)"/>
<ellipse cx="27.4" cy="25.0" rx="1.7" ry="1.3" fill="#ff20c0" filter="url(#b07)"/>
</g>
<path d="M0.5 0V37.3H40.0" stroke="#d4d4f6" stroke-width="1.15" fill="none"/>
</g>
</g>
<g transform="translate(311.8,277.7)" clip-path="url(#pc)">
<rect width="139.0" height="104.5" fill="#010112"/>
<mask id="mC3" maskUnits="userSpaceOnUse" x="0" y="0" width="139.0" height="104.5"><rect width="139.0" height="104.5" fill="#3a3a3a"/><path d="M14.0 30.0C15.2 29.5 17.5 28.0 21.0 27.0C24.5 26.0 30.3 24.2 35.0 24.0C39.7 23.8 44.2 24.7 49.0 26.0C53.8 27.3 59.2 30.2 64.0 32.0C68.8 33.8 73.2 35.8 78.0 37.0C82.8 38.2 88.2 39.2 93.0 39.0C97.8 38.8 103.7 37.0 107.0 36.0C110.3 35.0 106.8 34.5 113.0 33.0C119.2 31.5 138.8 33.3 144.0 27.0C149.2 20.7 165.7 0.3 144.0 -5.0C122.3 -10.3 35.7 -5.0 14.0 -5.0Z" fill="#fff" filter="url(#b3)"/></mask>
<path d="M14.0 30.0C15.2 29.5 17.5 28.0 21.0 27.0C24.5 26.0 30.3 24.2 35.0 24.0C39.7 23.8 44.2 24.7 49.0 26.0C53.8 27.3 59.2 30.2 64.0 32.0C68.8 33.8 73.2 35.8 78.0 37.0C82.8 38.2 88.2 39.2 93.0 39.0C97.8 38.8 103.7 37.0 107.0 36.0C110.3 35.0 106.8 34.5 113.0 33.0C119.2 31.5 138.8 33.3 144.0 27.0C149.2 20.7 165.7 0.3 144.0 -5.0C122.3 -10.3 35.7 -5.0 14.0 -5.0Z" fill="#08087c" opacity="0.11" filter="url(#b4)"/>
<ellipse cx="3" cy="8" rx="9" ry="14" fill="#1010a8" opacity="0.00" filter="url(#b4)"/>
<rect x="-5" y="70.5" width="149.0" height="40" fill="#070760" opacity="0.03" filter="url(#b4)"/>
<path d="M-2.0 76.0C1.7 78.3 13.0 85.3 20.0 90.0C27.0 94.7 36.7 101.7 40.0 104.0" stroke="#1010a8" stroke-width="4.5" fill="none" opacity="0.75" filter="url(#b2)"/>
<rect width="139.0" height="104.5" filter="url(#nz)" mask="url(#mC3)" opacity="0.46"/>
<path d="M9.0 44.0C11.0 43.2 16.7 40.3 21.0 39.0C25.3 37.7 30.3 36.2 35.0 36.0C39.7 35.8 44.2 36.7 49.0 38.0C53.8 39.3 59.2 42.2 64.0 44.0C68.8 45.8 73.2 47.8 78.0 49.0C82.8 50.2 88.2 51.2 93.0 51.0C97.8 50.8 103.7 49.0 107.0 48.0C110.3 47.0 112.0 45.5 113.0 45.0" stroke="#020216" stroke-width="15" fill="none" opacity="0.8" stroke-linecap="round" filter="url(#b3)"/>
<path d="M9.0 45.0C11.7 45.0 19.7 44.3 25.0 45.0C30.3 45.7 35.5 47.0 41.0 49.0C46.5 51.0 52.5 54.5 58.0 57.0C63.5 59.5 68.7 62.0 74.0 64.0C79.3 66.0 84.5 68.0 90.0 69.0C95.5 70.0 101.5 70.2 107.0 70.0C112.5 69.8 120.3 68.3 123.0 68.0" stroke="#020216" stroke-width="15" fill="none" opacity="0.8" stroke-linecap="round" filter="url(#b3)"/>
<path d="M10.0 46.2L11.3 45.8L13.2 45.2L15.4 44.5L17.6 43.7L19.9 42.8L22.0 42.0L24.1 41.4L26.4 40.8L28.6 40.2L30.8 39.7L33.0 39.4L35.1 39.2L37.2 39.2L39.3 39.3L41.5 39.6L43.6 40.0L45.9 40.5L48.1 41.1L50.4 41.8L52.8 42.7L55.2 43.8L57.8 44.9L60.3 46.0L62.8 47.0L65.2 47.9L67.5 48.8L69.9 49.7L72.2 50.6L74.7 51.4L77.2 52.1L79.8 52.7L82.4 53.2L85.0 53.7L87.7 54.0L90.4 54.2L93.1 54.2L95.9 53.9L98.6 53.3L101.2 52.6L103.7 51.9L105.9 51.1L107.8 50.4L109.4 49.7L110.8 49.0L112.0 48.2L112.8 47.5L113.5 47.0L113.9 46.6L112.1 43.4L111.4 43.7L110.6 44.0L109.8 44.4L108.8 44.8L107.6 45.2L106.2 45.6L104.4 46.0L102.2 46.5L99.9 47.0L97.5 47.4L95.1 47.7L92.9 47.8L90.7 47.8L88.3 47.6L86.0 47.3L83.5 46.9L81.1 46.4L78.8 45.9L76.5 45.3L74.3 44.6L72.1 43.8L69.9 42.9L67.6 41.9L65.2 41.0L62.8 40.1L60.3 39.0L57.8 37.9L55.2 36.8L52.5 35.8L49.9 34.9L47.4 34.3L44.9 33.7L42.4 33.3L39.9 33.0L37.4 32.8L34.9 32.8L32.3 33.0L29.7 33.4L27.1 33.9L24.7 34.6L22.3 35.3L20.0 36.0L17.6 36.8L15.2 37.7L12.9 38.9L10.9 40.1L9.2 41.1L8.0 41.8Z" fill="#0e0eb0" opacity="0.4" filter="url(#b15)"/>
<path d="M9.5 45.1L10.8 44.7L12.7 44.1L14.8 43.3L17.1 42.5L19.4 41.6L21.6 40.8L23.8 40.1L26.0 39.5L28.3 38.9L30.6 38.4L32.9 38.1L35.1 37.9L37.3 37.9L39.4 38.0L41.7 38.3L43.9 38.7L46.2 39.2L48.5 39.8L50.8 40.6L53.3 41.5L55.7 42.6L58.3 43.7L60.8 44.8L63.3 45.8L65.7 46.7L68.0 47.6L70.3 48.5L72.7 49.4L75.1 50.2L77.5 50.8L80.1 51.4L82.6 51.9L85.2 52.4L87.9 52.7L90.5 52.9L93.1 52.9L95.7 52.6L98.4 52.1L100.9 51.4L103.4 50.7L105.5 49.9L107.4 49.3L109.0 48.6L110.3 47.9L111.4 47.2L112.2 46.6L112.9 46.0L113.4 45.6L112.6 44.4L112.0 44.6L111.2 45.0L110.4 45.4L109.3 45.9L108.1 46.3L106.6 46.7L104.7 47.2L102.6 47.7L100.2 48.2L97.7 48.7L95.3 48.9L92.9 49.1L90.6 49.1L88.2 48.9L85.8 48.6L83.3 48.2L80.9 47.7L78.5 47.2L76.2 46.5L73.9 45.8L71.7 45.0L69.4 44.1L67.1 43.2L64.7 42.2L62.3 41.3L59.8 40.2L57.3 39.1L54.7 38.0L52.1 37.0L49.5 36.2L47.1 35.5L44.6 35.0L42.2 34.6L39.8 34.3L37.4 34.1L34.9 34.1L32.4 34.3L29.9 34.7L27.4 35.2L25.0 35.8L22.7 36.5L20.4 37.2L18.1 38.0L15.7 38.9L13.4 40.1L11.4 41.2L9.7 42.2L8.5 42.9Z" fill="#1717d8" stroke="#1717d8" stroke-width="0.8" stroke-linejoin="round" filter="url(#b08)"/>
<path d="M9.1 47.5L10.8 47.8L13.3 48.0L16.1 48.1L19.1 48.2L22.0 48.2L24.6 48.4L27.1 48.8L29.6 49.3L32.1 49.8L34.6 50.5L37.2 51.3L39.8 52.2L42.4 53.3L45.2 54.5L48.0 55.9L50.8 57.3L53.7 58.8L56.5 60.1L59.3 61.4L62.0 62.6L64.7 63.8L67.3 65.0L70.0 66.2L72.8 67.2L75.5 68.2L78.1 69.2L80.9 70.2L83.6 71.0L86.5 71.8L89.4 72.4L92.3 72.9L95.3 73.2L98.3 73.2L101.3 73.2L104.2 73.0L107.1 72.8L110.1 72.5L113.3 72.0L116.4 71.4L119.2 70.8L121.6 70.3L123.3 69.9L122.7 66.1L121.0 66.2L118.5 66.4L115.7 66.7L112.7 67.0L109.7 67.1L106.9 67.2L104.2 67.1L101.4 66.9L98.7 66.6L95.9 66.3L93.2 66.0L90.6 65.6L88.1 65.1L85.6 64.4L83.0 63.6L80.5 62.7L77.9 61.8L75.2 60.8L72.6 59.8L70.1 58.7L67.5 57.5L64.8 56.3L62.2 55.1L59.5 53.9L56.7 52.6L53.9 51.2L51.0 49.7L48.1 48.3L45.1 46.9L42.2 45.8L39.4 44.8L36.6 43.9L33.8 43.2L31.0 42.5L28.2 42.0L25.4 41.6L22.3 41.3L19.1 41.3L15.9 41.4L13.0 41.8L10.6 42.1L8.9 42.5Z" fill="#0e0eb0" opacity="0.4" filter="url(#b15)"/>
<path d="M9.0 46.3L10.8 46.5L13.2 46.7L16.1 46.9L19.1 46.9L22.0 46.9L24.8 47.1L27.3 47.5L29.9 48.0L32.4 48.6L35.0 49.3L37.6 50.1L40.2 51.0L42.9 52.1L45.7 53.4L48.5 54.7L51.4 56.2L54.3 57.6L57.1 58.9L59.8 60.2L62.5 61.4L65.2 62.6L67.9 63.8L70.5 65.0L73.2 66.0L75.9 67.0L78.6 68.0L81.3 68.9L84.0 69.8L86.8 70.5L89.6 71.1L92.5 71.6L95.4 71.9L98.4 71.9L101.3 71.9L104.2 71.8L107.1 71.6L110.0 71.3L113.2 70.8L116.2 70.3L119.1 69.7L121.4 69.2L123.1 68.8L122.9 67.2L121.1 67.3L118.7 67.6L115.9 67.9L112.8 68.1L109.8 68.3L106.9 68.4L104.2 68.3L101.4 68.2L98.6 67.9L95.8 67.6L93.1 67.3L90.4 66.9L87.8 66.3L85.2 65.6L82.6 64.8L80.0 63.9L77.4 63.0L74.8 62.0L72.2 61.0L69.6 59.9L66.9 58.7L64.3 57.5L61.6 56.3L58.9 55.1L56.2 53.7L53.3 52.3L50.5 50.9L47.5 49.5L44.6 48.1L41.8 47.0L38.9 46.0L36.2 45.2L33.5 44.4L30.7 43.8L28.0 43.3L25.2 42.9L22.3 42.6L19.1 42.6L15.9 42.6L13.1 43.0L10.7 43.4L9.0 43.7Z" fill="#1717d8" stroke="#1717d8" stroke-width="0.8" stroke-linejoin="round" filter="url(#b08)"/>
<path d="M20.6 41.1C24.0 40.8 34.3 38.2 41.1 39.1C48.0 39.9 54.8 44.0 61.7 46.3C68.5 48.5 76.8 51.4 82.2 52.4C87.7 53.5 92.5 52.4 94.6 52.4" stroke="#c81c80" stroke-width="2.6" fill="none" opacity="0.19" stroke-linecap="round" filter="url(#b05)"/>
<circle cx="21.3" cy="40.2" r="0.83" fill="#f02478" opacity="0.44"/><circle cx="23.9" cy="40.3" r="0.82" fill="#c840d8" opacity="0.59"/><circle cx="24.6" cy="41.2" r="0.81" fill="#e030b8" opacity="0.83"/><circle cx="26.4" cy="39.2" r="0.44" fill="#f02478" opacity="0.76"/><circle cx="28.7" cy="39.2" r="0.84" fill="#f02478" opacity="0.75"/><circle cx="29.8" cy="40.6" r="0.99" fill="#f02478" opacity="0.61"/><circle cx="33.1" cy="39.5" r="0.69" fill="#ea2c96" opacity="0.68"/><circle cx="34.3" cy="38.5" r="0.76" fill="#f02478" opacity="0.83"/><circle cx="36.2" cy="39.0" r="0.45" fill="#f02888" opacity="0.66"/><circle cx="38.1" cy="38.9" r="0.65" fill="#f02888" opacity="0.39"/><circle cx="39.2" cy="39.4" r="0.91" fill="#e030b8" opacity="0.50"/><circle cx="42.1" cy="39.1" r="0.60" fill="#e030b8" opacity="0.49"/><circle cx="43.2" cy="39.3" r="0.93" fill="#f02478" opacity="0.61"/><circle cx="45.0" cy="39.2" r="0.42" fill="#f02888" opacity="0.39"/><circle cx="46.8" cy="40.8" r="0.90" fill="#c840d8" opacity="0.43"/><circle cx="48.3" cy="41.9" r="0.58" fill="#ff2464" opacity="0.58"/><circle cx="50.2" cy="41.5" r="0.43" fill="#ea2c96" opacity="0.59"/><circle cx="51.9" cy="42.4" r="0.85" fill="#ea2c96" opacity="0.77"/><circle cx="54.6" cy="43.9" r="1.00" fill="#ea2c96" opacity="0.55"/><circle cx="56.0" cy="44.3" r="0.79" fill="#e030b8" opacity="0.82"/><circle cx="57.0" cy="43.5" r="0.73" fill="#f02478" opacity="0.49"/><circle cx="59.9" cy="44.1" r="0.73" fill="#e030b8" opacity="0.39"/><circle cx="61.5" cy="45.3" r="0.58" fill="#c840d8" opacity="0.43"/><circle cx="62.7" cy="46.1" r="0.63" fill="#ff2464" opacity="0.69"/><circle cx="65.0" cy="47.4" r="0.59" fill="#e030b8" opacity="0.78"/><circle cx="66.0" cy="46.3" r="0.82" fill="#ea2c96" opacity="0.58"/><circle cx="68.4" cy="47.7" r="0.42" fill="#f02478" opacity="0.38"/><circle cx="69.3" cy="47.3" r="0.67" fill="#ff2464" opacity="0.49"/><circle cx="71.6" cy="49.6" r="0.77" fill="#e030b8" opacity="0.71"/><circle cx="73.8" cy="49.5" r="0.78" fill="#ea2c96" opacity="0.79"/><circle cx="75.3" cy="50.1" r="0.64" fill="#c840d8" opacity="0.72"/><circle cx="76.5" cy="49.8" r="0.50" fill="#f02478" opacity="0.39"/><circle cx="79.3" cy="50.2" r="0.75" fill="#ff2464" opacity="0.74"/><circle cx="80.9" cy="51.1" r="0.52" fill="#f02888" opacity="0.50"/><circle cx="82.6" cy="51.9" r="0.80" fill="#c840d8" opacity="0.48"/><circle cx="84.5" cy="52.1" r="0.56" fill="#e030b8" opacity="0.57"/><circle cx="85.4" cy="52.3" r="0.85" fill="#e030b8" opacity="0.71"/><circle cx="88.2" cy="51.4" r="0.83" fill="#e030b8" opacity="0.81"/><circle cx="89.3" cy="52.5" r="0.80" fill="#f02478" opacity="0.60"/><circle cx="91.8" cy="52.2" r="0.55" fill="#ea2c96" opacity="0.53"/><circle cx="92.7" cy="52.2" r="0.58" fill="#ff2464" opacity="0.47"/>
<path d="M24.7 42.1C28.4 43.2 40.1 45.6 47.3 48.3C54.5 51.1 61.0 55.7 67.8 58.6C74.7 61.5 81.9 64.4 88.4 65.8C94.9 67.2 101.1 66.6 106.9 66.8C112.7 67.0 120.6 66.8 123.4 66.8" stroke="#c81c80" stroke-width="2.6" fill="none" opacity="0.19" stroke-linecap="round" filter="url(#b05)"/>
<circle cx="25.1" cy="42.8" r="0.50" fill="#e030b8" opacity="0.80"/><circle cx="26.7" cy="43.1" r="0.79" fill="#ea2c96" opacity="0.77"/><circle cx="28.9" cy="44.4" r="0.43" fill="#ff2464" opacity="0.73"/><circle cx="30.8" cy="44.8" r="0.66" fill="#f02888" opacity="0.69"/><circle cx="31.9" cy="43.8" r="0.77" fill="#f02888" opacity="0.52"/><circle cx="33.6" cy="45.6" r="0.98" fill="#ea2c96" opacity="0.67"/><circle cx="35.5" cy="45.1" r="0.75" fill="#f02478" opacity="0.49"/><circle cx="37.7" cy="45.9" r="0.67" fill="#e030b8" opacity="0.67"/><circle cx="39.4" cy="47.4" r="0.98" fill="#ea2c96" opacity="0.53"/><circle cx="41.0" cy="46.2" r="0.83" fill="#ff2464" opacity="0.75"/><circle cx="43.0" cy="47.9" r="0.57" fill="#ff2464" opacity="0.57"/><circle cx="44.9" cy="49.1" r="0.93" fill="#ea2c96" opacity="0.46"/><circle cx="47.2" cy="48.0" r="0.57" fill="#f02888" opacity="0.79"/><circle cx="48.9" cy="50.3" r="0.63" fill="#e030b8" opacity="0.72"/><circle cx="50.4" cy="51.1" r="0.60" fill="#f02888" opacity="0.78"/><circle cx="52.2" cy="50.3" r="0.60" fill="#ea2c96" opacity="0.38"/><circle cx="52.9" cy="51.0" r="0.93" fill="#ea2c96" opacity="0.81"/><circle cx="55.4" cy="52.9" r="0.41" fill="#e030b8" opacity="0.80"/><circle cx="56.9" cy="53.7" r="0.69" fill="#f02888" opacity="0.62"/><circle cx="57.8" cy="53.9" r="0.72" fill="#e030b8" opacity="0.51"/><circle cx="60.1" cy="55.0" r="0.67" fill="#f02888" opacity="0.62"/><circle cx="62.0" cy="55.2" r="0.50" fill="#e030b8" opacity="0.73"/><circle cx="63.5" cy="57.8" r="0.84" fill="#ff2464" opacity="0.58"/><circle cx="65.5" cy="57.7" r="0.45" fill="#e030b8" opacity="0.80"/><circle cx="66.0" cy="57.4" r="0.45" fill="#f02478" opacity="0.40"/><circle cx="68.8" cy="58.5" r="0.85" fill="#f02888" opacity="0.64"/><circle cx="70.6" cy="60.5" r="1.02" fill="#ea2c96" opacity="0.39"/><circle cx="71.8" cy="61.1" r="0.81" fill="#e030b8" opacity="0.59"/><circle cx="73.3" cy="61.1" r="0.61" fill="#f02478" opacity="0.49"/><circle cx="75.4" cy="61.4" r="0.44" fill="#f02888" opacity="0.75"/><circle cx="77.5" cy="62.2" r="0.59" fill="#c840d8" opacity="0.80"/><circle cx="78.1" cy="62.2" r="0.53" fill="#ff2464" opacity="0.43"/><circle cx="80.7" cy="64.2" r="0.89" fill="#ff2464" opacity="0.53"/><circle cx="82.5" cy="65.0" r="0.93" fill="#c840d8" opacity="0.54"/><circle cx="84.0" cy="65.0" r="0.44" fill="#e030b8" opacity="0.54"/><circle cx="85.7" cy="64.6" r="0.75" fill="#f02888" opacity="0.82"/><circle cx="87.0" cy="65.5" r="1.04" fill="#c840d8" opacity="0.43"/><circle cx="89.3" cy="65.7" r="0.76" fill="#c840d8" opacity="0.65"/><circle cx="90.6" cy="66.1" r="0.64" fill="#e030b8" opacity="0.80"/><circle cx="93.4" cy="66.8" r="0.45" fill="#ea2c96" opacity="0.67"/><circle cx="95.3" cy="66.9" r="0.80" fill="#ea2c96" opacity="0.77"/><circle cx="96.2" cy="66.4" r="0.83" fill="#c840d8" opacity="0.56"/><circle cx="98.1" cy="66.9" r="0.94" fill="#e030b8" opacity="0.62"/><circle cx="99.7" cy="66.9" r="0.46" fill="#ff2464" opacity="0.52"/><circle cx="101.6" cy="66.2" r="0.85" fill="#e030b8" opacity="0.46"/><circle cx="104.0" cy="67.4" r="0.78" fill="#e030b8" opacity="0.60"/><circle cx="105.6" cy="68.1" r="0.65" fill="#e030b8" opacity="0.59"/><circle cx="107.2" cy="68.1" r="0.53" fill="#f02888" opacity="0.65"/><circle cx="109.3" cy="67.6" r="0.87" fill="#e030b8" opacity="0.77"/><circle cx="111.0" cy="66.9" r="0.42" fill="#e030b8" opacity="0.79"/><circle cx="112.9" cy="68.3" r="0.99" fill="#c840d8" opacity="0.45"/><circle cx="114.8" cy="66.9" r="0.57" fill="#f02478" opacity="0.57"/><circle cx="116.2" cy="67.2" r="0.75" fill="#ea2c96" opacity="0.49"/><circle cx="118.0" cy="68.0" r="0.65" fill="#c840d8" opacity="0.60"/><circle cx="119.8" cy="66.7" r="0.95" fill="#c840d8" opacity="0.55"/><circle cx="122.9" cy="68.2" r="0.74" fill="#ea2c96" opacity="0.55"/>
<g transform="translate(99.0,0)">
<g clip-path="url(#ic)">
<rect width="40.0" height="37.5" fill="#1616ea"/>
<rect width="40.0" height="37.5" filter="url(#nzi)" opacity="0.35"/>
<path d="M-4.1 15.9C-3.5 16.0 -3.9 15.9 -0.2 16.4C3.5 16.8 11.4 17.5 17.9 18.5C24.5 19.6 35.0 22.0 39.2 22.8C43.4 23.7 42.5 23.5 43.1 23.6" stroke="#020216" stroke-width="9.5" fill="none" filter="url(#b1)"/>
<ellipse cx="2.4" cy="34.9" rx="10.0" ry="4.0" fill="#020216" filter="url(#b15)"/>
<path d="M1.6 13.4C3.6 13.2 9.7 12.4 13.6 12.3C17.5 12.3 21.7 12.7 24.8 12.9C28.0 13.2 31.3 13.6 32.6 13.8" stroke="#f0209a" stroke-width="2.4" fill="none" opacity="0.5" stroke-linecap="round" filter="url(#b08)"/>
<circle cx="2.0" cy="14.1" r="0.72" fill="#ff2080" opacity="0.63"/>
<circle cx="3.8" cy="13.5" r="0.49" fill="#e050f0" opacity="0.66"/>
<circle cx="7.2" cy="12.5" r="0.55" fill="#ff30a0" opacity="0.69"/>
<circle cx="10.3" cy="12.9" r="0.52" fill="#ff2080" opacity="0.77"/>
<circle cx="13.1" cy="12.0" r="0.75" fill="#ff2080" opacity="0.83"/>
<circle cx="16.2" cy="13.3" r="0.82" fill="#f040d0" opacity="0.75"/>
<circle cx="19.8" cy="13.3" r="0.83" fill="#ff2080" opacity="0.93"/>
<circle cx="21.6" cy="13.0" r="0.93" fill="#ff30a0" opacity="0.82"/>
<circle cx="25.4" cy="13.9" r="0.51" fill="#ff30a0" opacity="0.65"/>
<circle cx="26.9" cy="12.3" r="0.79" fill="#ff2080" opacity="0.96"/>
<circle cx="29.2" cy="12.6" r="0.79" fill="#e050f0" opacity="0.89"/>
<circle cx="31.2" cy="14.1" r="0.76" fill="#e050f0" opacity="0.85"/>
<circle cx="33.1" cy="13.7" r="0.46" fill="#f040d0" opacity="0.73"/>
<path d="M7.2 25.0C8.8 24.6 14.7 22.9 17.1 22.8C19.4 22.8 18.8 24.0 21.4 24.7C24.0 25.5 30.7 26.8 32.6 27.2" stroke="#f0209a" stroke-width="2.4" fill="none" opacity="0.5" stroke-linecap="round" filter="url(#b08)"/>
<circle cx="7.6" cy="25.8" r="0.72" fill="#ff2080" opacity="0.63"/>
<circle cx="9.1" cy="24.9" r="0.49" fill="#e050f0" opacity="0.66"/>
<circle cx="12.2" cy="23.5" r="0.55" fill="#ff30a0" opacity="0.69"/>
<circle cx="14.7" cy="23.5" r="0.52" fill="#ff2080" opacity="0.77"/>
<circle cx="16.5" cy="22.5" r="0.75" fill="#ff2080" opacity="0.83"/>
<circle cx="18.0" cy="23.9" r="0.82" fill="#f040d0" opacity="0.75"/>
<circle cx="19.5" cy="24.3" r="0.83" fill="#ff2080" opacity="0.93"/>
<circle cx="19.3" cy="24.4" r="0.93" fill="#ff30a0" opacity="0.82"/>
<circle cx="22.0" cy="25.7" r="0.51" fill="#ff30a0" opacity="0.65"/>
<circle cx="23.7" cy="24.5" r="0.79" fill="#ff2080" opacity="0.96"/>
<circle cx="27.0" cy="25.3" r="0.79" fill="#e050f0" opacity="0.89"/>
<circle cx="30.3" cy="27.2" r="0.76" fill="#e050f0" opacity="0.85"/>
<circle cx="33.1" cy="27.1" r="0.46" fill="#f040d0" opacity="0.73"/>
<ellipse cx="1.6" cy="13.4" rx="1.4" ry="1.0" fill="#ff30a0" filter="url(#b07)"/>
<ellipse cx="13.6" cy="12.3" rx="2.3" ry="1.7" fill="#ff20b0" filter="url(#b07)"/>
<ellipse cx="24.8" cy="12.9" rx="2.1" ry="1.5" fill="#ff20b0" filter="url(#b07)"/>
<ellipse cx="32.6" cy="13.8" rx="2.3" ry="1.7" fill="#ff20b0" filter="url(#b07)"/>
<ellipse cx="7.2" cy="25.0" rx="1.4" ry="1.0" fill="#e040e0" filter="url(#b07)"/>
<ellipse cx="17.1" cy="22.8" rx="1.6" ry="1.2" fill="#f030e0" filter="url(#b07)"/>
<ellipse cx="21.4" cy="24.7" rx="2.0" ry="1.4" fill="#f030e0" filter="url(#b07)"/>
<ellipse cx="32.6" cy="27.2" rx="1.8" ry="1.4" fill="#ff30b0" filter="url(#b07)"/>
</g>
<path d="M0.5 0V37.3H40.0" stroke="#d4d4f6" stroke-width="1.15" fill="none"/>
</g>
</g>
<g transform="translate(24.0,387.3)" clip-path="url(#pc)">
<rect width="139.0" height="104.5" fill="#010112"/>
<mask id="mC4" maskUnits="userSpaceOnUse" x="0" y="0" width="139.0" height="104.5"><rect width="139.0" height="104.5" fill="#3a3a3a"/><path d="M-5.0 32.0C-2.2 31.5 7.0 30.2 12.0 29.0C17.0 27.8 20.5 25.7 25.0 25.0C29.5 24.3 34.3 24.3 39.0 25.0C43.7 25.7 48.2 27.5 53.0 29.0C57.8 30.5 63.2 32.8 68.0 34.0C72.8 35.2 77.5 36.0 82.0 36.0C86.5 36.0 90.8 35.2 95.0 34.0C99.2 32.8 104.2 30.3 107.0 29.0C109.8 27.7 105.8 27.5 112.0 26.0C118.2 24.5 138.7 25.2 144.0 20.0C149.3 14.8 168.8 -0.8 144.0 -5.0C119.2 -9.2 19.8 -5.0 -5.0 -5.0Z" fill="#fff" filter="url(#b3)"/></mask>
<path d="M-5.0 32.0C-2.2 31.5 7.0 30.2 12.0 29.0C17.0 27.8 20.5 25.7 25.0 25.0C29.5 24.3 34.3 24.3 39.0 25.0C43.7 25.7 48.2 27.5 53.0 29.0C57.8 30.5 63.2 32.8 68.0 34.0C72.8 35.2 77.5 36.0 82.0 36.0C86.5 36.0 90.8 35.2 95.0 34.0C99.2 32.8 104.2 30.3 107.0 29.0C109.8 27.7 105.8 27.5 112.0 26.0C118.2 24.5 138.7 25.2 144.0 20.0C149.3 14.8 168.8 -0.8 144.0 -5.0C119.2 -9.2 19.8 -5.0 -5.0 -5.0Z" fill="#08087c" opacity="0.22" filter="url(#b4)"/>
<ellipse cx="3" cy="8" rx="9" ry="14" fill="#1010a8" opacity="0.03" filter="url(#b4)"/>
<rect x="-5" y="70.5" width="149.0" height="40" fill="#070760" opacity="0.07" filter="url(#b4)"/>
<path d="M-2.0 78.0C1.3 80.3 11.7 87.7 18.0 92.0C24.3 96.3 33.0 102.0 36.0 104.0" stroke="#1010a8" stroke-width="4.5" fill="none" opacity="0.75" filter="url(#b2)"/>
<rect width="139.0" height="104.5" filter="url(#nz)" mask="url(#mC4)" opacity="0.57"/>
<path d="M12.0 41.0C14.2 40.3 20.5 37.7 25.0 37.0C29.5 36.3 34.3 36.3 39.0 37.0C43.7 37.7 48.2 39.5 53.0 41.0C57.8 42.5 63.2 44.8 68.0 46.0C72.8 47.2 77.5 48.0 82.0 48.0C86.5 48.0 90.8 47.2 95.0 46.0C99.2 44.8 104.2 42.3 107.0 41.0C109.8 39.7 111.2 38.5 112.0 38.0" stroke="#020216" stroke-width="15" fill="none" opacity="0.8" stroke-linecap="round" filter="url(#b3)"/>
<path d="M12.0 43.0C14.5 43.2 22.2 43.0 27.0 44.0C31.8 45.0 36.2 47.0 41.0 49.0C45.8 51.0 51.2 53.8 56.0 56.0C60.8 58.2 65.7 60.3 70.0 62.0C74.3 63.7 77.8 65.7 82.0 66.0C86.2 66.3 90.5 65.2 95.0 64.0C99.5 62.8 104.3 60.7 109.0 59.0C113.7 57.3 118.8 55.0 123.0 54.0C127.2 53.0 132.2 53.2 134.0 53.0" stroke="#020216" stroke-width="15" fill="none" opacity="0.8" stroke-linecap="round" filter="url(#b3)"/>
<path d="M12.9 43.6L14.4 43.3L16.4 42.9L18.8 42.4L21.2 41.8L23.5 41.1L25.6 40.7L27.6 40.5L29.8 40.3L31.9 40.2L34.1 40.3L36.3 40.5L38.4 40.7L40.5 41.1L42.6 41.6L44.8 42.3L47.1 43.0L49.4 43.8L51.8 44.6L54.2 45.4L56.7 46.2L59.2 47.2L61.8 48.1L64.5 48.9L67.1 49.6L69.6 50.2L72.1 50.7L74.6 51.1L77.0 51.5L79.5 51.7L82.0 51.8L84.5 51.7L86.9 51.5L89.2 51.1L91.5 50.7L93.8 50.2L96.1 49.6L98.4 48.8L100.7 47.8L102.9 46.7L104.9 45.6L106.7 44.5L108.3 43.6L109.6 42.8L110.7 42.0L111.6 41.3L112.3 40.6L112.8 40.1L113.1 39.7L110.9 36.3L110.3 36.5L109.6 36.8L108.9 37.1L108.0 37.5L107.0 37.9L105.7 38.4L104.1 39.0L102.2 39.7L100.1 40.5L98.0 41.2L95.9 41.8L93.9 42.4L92.0 42.9L90.0 43.4L88.0 43.7L86.0 44.0L84.0 44.2L82.0 44.2L79.9 44.2L77.8 44.0L75.7 43.7L73.5 43.4L71.2 42.9L68.9 42.4L66.6 41.7L64.2 41.0L61.8 40.1L59.2 39.2L56.7 38.3L54.2 37.4L51.8 36.7L49.4 35.9L47.1 35.1L44.6 34.4L42.1 33.8L39.6 33.3L37.0 33.0L34.5 32.8L31.9 32.8L29.4 32.8L26.9 33.0L24.4 33.3L21.7 33.8L19.0 34.6L16.5 35.6L14.2 36.7L12.4 37.7L11.1 38.4Z" fill="#0e0eb0" opacity="0.4" filter="url(#b15)"/>
<path d="M12.5 42.4L14.0 42.2L16.0 41.7L18.4 41.2L20.8 40.5L23.2 39.9L25.4 39.4L27.5 39.2L29.7 39.0L31.9 39.0L34.2 39.0L36.4 39.2L38.6 39.4L40.8 39.8L43.0 40.4L45.2 41.0L47.5 41.8L49.8 42.6L52.2 43.3L54.7 44.1L57.1 45.0L59.7 45.9L62.3 46.8L64.8 47.7L67.4 48.4L69.9 48.9L72.3 49.4L74.8 49.9L77.2 50.2L79.6 50.4L82.0 50.5L84.4 50.4L86.7 50.2L89.0 49.9L91.3 49.4L93.5 48.9L95.7 48.4L97.9 47.6L100.2 46.6L102.4 45.5L104.4 44.4L106.2 43.4L107.8 42.6L109.0 41.8L110.1 41.0L111.0 40.3L111.6 39.7L112.1 39.2L112.5 38.8L111.5 37.2L110.9 37.4L110.3 37.7L109.5 38.1L108.6 38.5L107.5 38.9L106.2 39.4L104.6 40.1L102.7 40.8L100.6 41.6L98.5 42.4L96.3 43.1L94.3 43.6L92.3 44.2L90.3 44.6L88.2 45.0L86.2 45.3L84.1 45.5L82.0 45.5L79.9 45.5L77.7 45.3L75.5 45.0L73.2 44.6L70.9 44.2L68.6 43.6L66.2 43.0L63.8 42.2L61.3 41.3L58.8 40.4L56.2 39.5L53.8 38.7L51.4 37.9L49.0 37.1L46.7 36.3L44.3 35.6L41.8 35.0L39.4 34.6L36.9 34.3L34.4 34.1L31.9 34.0L29.5 34.1L27.0 34.3L24.6 34.6L22.0 35.1L19.4 35.8L16.9 36.8L14.6 37.9L12.8 38.8L11.5 39.6Z" fill="#1717d8" stroke="#1717d8" stroke-width="0.8" stroke-linejoin="round" filter="url(#b08)"/>
<path d="M11.9 45.9L13.6 46.2L15.8 46.5L18.5 46.9L21.2 47.3L23.9 47.6L26.2 47.9L28.3 48.4L30.4 49.1L32.6 49.9L34.8 50.7L37.1 51.7L39.4 52.7L41.8 53.7L44.3 54.8L46.8 56.0L49.3 57.3L51.8 58.5L54.3 59.6L56.8 60.7L59.2 61.8L61.6 62.9L64.0 63.9L66.3 64.8L68.5 65.7L70.6 66.5L72.6 67.4L74.6 68.2L76.8 69.0L79.2 69.6L81.7 70.0L84.2 70.0L86.7 69.9L89.1 69.5L91.4 69.0L93.7 68.5L96.1 67.9L98.5 67.2L100.9 66.3L103.4 65.4L105.7 64.5L108.1 63.6L110.3 62.6L112.7 61.6L115.1 60.5L117.4 59.5L119.7 58.5L121.8 57.6L123.7 56.9L125.6 56.4L127.6 56.0L129.5 55.8L131.3 55.5L132.9 55.3L134.1 55.1L133.9 50.9L132.7 50.8L131.2 50.7L129.2 50.6L127.0 50.6L124.7 50.8L122.3 51.1L119.9 51.6L117.5 52.3L115.0 53.0L112.5 53.8L110.0 54.6L107.7 55.4L105.2 56.1L102.9 57.0L100.5 57.9L98.3 58.8L96.1 59.5L93.9 60.1L91.8 60.7L89.7 61.2L87.7 61.6L85.8 61.9L84.0 62.0L82.3 62.0L80.8 61.8L79.2 61.4L77.5 60.8L75.6 60.0L73.6 59.2L71.5 58.3L69.3 57.4L67.1 56.5L64.8 55.5L62.4 54.5L60.0 53.4L57.7 52.4L55.2 51.2L52.8 50.1L50.2 48.8L47.7 47.6L45.1 46.4L42.6 45.3L40.2 44.3L37.8 43.3L35.4 42.4L33.0 41.5L30.4 40.7L27.8 40.1L24.9 39.6L21.8 39.4L18.8 39.5L16.0 39.7L13.7 39.9L12.1 40.1Z" fill="#0e0eb0" opacity="0.4" filter="url(#b15)"/>
<path d="M11.9 44.7L13.6 45.0L15.9 45.3L18.5 45.6L21.3 46.0L24.1 46.3L26.5 46.6L28.7 47.2L30.8 47.9L33.0 48.6L35.3 49.5L37.6 50.5L39.9 51.5L42.4 52.5L44.8 53.7L47.3 54.9L49.9 56.1L52.4 57.3L54.9 58.5L57.3 59.5L59.7 60.6L62.1 61.7L64.5 62.7L66.8 63.6L69.0 64.5L71.1 65.3L73.1 66.2L75.1 67.0L77.2 67.8L79.4 68.3L81.8 68.7L84.2 68.7L86.5 68.6L88.9 68.2L91.1 67.7L93.4 67.2L95.7 66.6L98.1 65.9L100.5 65.1L102.9 64.2L105.3 63.3L107.6 62.4L109.9 61.4L112.2 60.4L114.6 59.4L117.0 58.3L119.2 57.3L121.4 56.5L123.4 55.8L125.4 55.2L127.4 54.9L129.5 54.6L131.3 54.4L132.9 54.2L134.1 54.0L133.9 52.0L132.8 51.9L131.2 51.8L129.3 51.8L127.2 51.8L124.9 51.9L122.6 52.2L120.3 52.8L117.9 53.4L115.4 54.2L112.9 55.0L110.5 55.8L108.1 56.6L105.7 57.3L103.3 58.3L101.0 59.2L98.7 60.0L96.5 60.8L94.3 61.4L92.1 62.0L90.0 62.5L87.9 62.9L85.9 63.2L84.0 63.3L82.2 63.3L80.5 63.1L78.8 62.6L77.0 62.0L75.1 61.2L73.1 60.4L71.0 59.5L68.8 58.6L66.6 57.7L64.3 56.7L61.9 55.7L59.5 54.6L57.1 53.5L54.7 52.4L52.2 51.2L49.7 50.0L47.1 48.8L44.6 47.6L42.1 46.5L39.7 45.5L37.3 44.5L35.0 43.6L32.6 42.7L30.1 42.0L27.5 41.4L24.7 40.9L21.7 40.7L18.7 40.8L16.0 40.9L13.7 41.1L12.1 41.3Z" fill="#1717d8" stroke="#1717d8" stroke-width="0.8" stroke-linejoin="round" filter="url(#b08)"/>
<path d="M24.7 40.1C27.4 40.4 35.0 40.8 41.1 42.1C47.3 43.5 54.8 46.9 61.7 48.3C68.5 49.7 75.7 50.7 82.2 50.4C88.7 50.0 97.7 46.9 100.7 46.3" stroke="#c81c80" stroke-width="2.6" fill="none" opacity="0.26" stroke-linecap="round" filter="url(#b05)"/>
<circle cx="25.0" cy="39.3" r="0.84" fill="#ea2c96" opacity="0.84"/><circle cx="27.2" cy="39.6" r="0.97" fill="#ea2c96" opacity="0.74"/><circle cx="28.1" cy="40.0" r="0.54" fill="#ff2464" opacity="0.56"/><circle cx="29.8" cy="39.9" r="1.05" fill="#ea2c96" opacity="0.92"/><circle cx="31.3" cy="39.8" r="0.98" fill="#ff2464" opacity="0.55"/><circle cx="33.8" cy="39.8" r="0.92" fill="#ea2c96" opacity="0.54"/><circle cx="35.1" cy="40.4" r="0.77" fill="#e030b8" opacity="0.63"/><circle cx="37.3" cy="40.9" r="0.83" fill="#c840d8" opacity="0.59"/><circle cx="38.8" cy="40.4" r="0.85" fill="#f02888" opacity="0.69"/><circle cx="40.7" cy="41.7" r="0.87" fill="#e030b8" opacity="0.69"/><circle cx="41.3" cy="41.7" r="0.56" fill="#c840d8" opacity="0.65"/><circle cx="43.0" cy="41.4" r="0.78" fill="#c840d8" opacity="0.69"/><circle cx="44.5" cy="43.3" r="0.64" fill="#f02888" opacity="0.45"/><circle cx="46.6" cy="43.4" r="0.40" fill="#f02478" opacity="0.63"/><circle cx="47.7" cy="43.6" r="0.85" fill="#e030b8" opacity="0.64"/><circle cx="49.2" cy="44.2" r="0.96" fill="#e030b8" opacity="0.86"/><circle cx="50.8" cy="43.8" r="0.64" fill="#ea2c96" opacity="0.78"/><circle cx="53.3" cy="44.9" r="0.55" fill="#c840d8" opacity="0.67"/><circle cx="53.8" cy="45.0" r="0.43" fill="#c840d8" opacity="0.71"/><circle cx="55.7" cy="46.4" r="0.51" fill="#f02478" opacity="0.76"/><circle cx="58.0" cy="47.4" r="0.68" fill="#c840d8" opacity="0.72"/><circle cx="59.4" cy="46.2" r="0.94" fill="#c840d8" opacity="0.74"/><circle cx="60.1" cy="46.3" r="0.48" fill="#e030b8" opacity="0.57"/><circle cx="62.4" cy="47.5" r="1.01" fill="#f02478" opacity="0.68"/><circle cx="63.3" cy="48.3" r="0.72" fill="#c840d8" opacity="0.90"/><circle cx="66.0" cy="48.8" r="0.53" fill="#ff2464" opacity="0.82"/><circle cx="67.2" cy="47.5" r="0.88" fill="#f02888" opacity="0.54"/><circle cx="69.3" cy="49.1" r="0.68" fill="#ea2c96" opacity="0.53"/><circle cx="70.6" cy="48.9" r="0.82" fill="#e030b8" opacity="0.63"/><circle cx="72.0" cy="49.7" r="0.89" fill="#f02478" opacity="0.72"/><circle cx="74.0" cy="49.4" r="0.69" fill="#ff2464" opacity="0.92"/><circle cx="75.2" cy="49.6" r="0.68" fill="#f02478" opacity="0.48"/><circle cx="76.6" cy="48.7" r="0.54" fill="#ff2464" opacity="0.57"/><circle cx="78.5" cy="49.8" r="0.46" fill="#c840d8" opacity="0.66"/><circle cx="80.9" cy="48.8" r="0.43" fill="#ea2c96" opacity="0.68"/><circle cx="82.6" cy="50.7" r="0.51" fill="#f02888" opacity="0.86"/><circle cx="83.2" cy="50.7" r="0.56" fill="#ea2c96" opacity="0.85"/><circle cx="84.7" cy="48.5" r="0.45" fill="#ea2c96" opacity="0.55"/><circle cx="86.3" cy="49.5" r="0.94" fill="#ff2464" opacity="0.53"/><circle cx="88.1" cy="48.8" r="0.44" fill="#f02478" opacity="0.69"/><circle cx="89.6" cy="49.0" r="0.75" fill="#c840d8" opacity="0.83"/><circle cx="91.6" cy="48.5" r="0.75" fill="#e030b8" opacity="0.55"/><circle cx="92.7" cy="48.5" r="0.87" fill="#f02888" opacity="0.47"/><circle cx="94.6" cy="47.9" r="0.62" fill="#ea2c96" opacity="0.73"/><circle cx="96.7" cy="46.0" r="0.87" fill="#f02478" opacity="0.56"/><circle cx="97.7" cy="46.8" r="1.05" fill="#e030b8" opacity="0.65"/><circle cx="99.3" cy="46.8" r="0.60" fill="#c840d8" opacity="0.68"/>
<path d="M30.8 44.2C34.3 45.7 45.2 50.9 51.4 53.5C57.6 56.0 62.7 58.1 67.8 59.6C73.0 61.2 76.4 62.7 82.2 62.7C88.1 62.7 94.9 61.1 102.8 59.6C110.7 58.1 125.1 54.8 129.5 53.9" stroke="#c81c80" stroke-width="2.6" fill="none" opacity="0.26" stroke-linecap="round" filter="url(#b05)"/>
<circle cx="31.2" cy="44.5" r="1.01" fill="#e030b8" opacity="0.54"/><circle cx="32.9" cy="46.6" r="0.90" fill="#e030b8" opacity="0.66"/><circle cx="34.1" cy="46.3" r="1.02" fill="#ff2464" opacity="0.65"/><circle cx="36.2" cy="47.8" r="0.42" fill="#ff2464" opacity="0.87"/><circle cx="37.9" cy="47.2" r="0.47" fill="#e030b8" opacity="0.71"/><circle cx="38.5" cy="49.0" r="0.77" fill="#f02478" opacity="0.78"/><circle cx="40.2" cy="49.4" r="0.82" fill="#c840d8" opacity="0.63"/><circle cx="41.5" cy="50.2" r="0.49" fill="#ea2c96" opacity="0.84"/><circle cx="43.7" cy="51.0" r="0.68" fill="#ea2c96" opacity="0.79"/><circle cx="45.1" cy="51.3" r="0.56" fill="#f02478" opacity="0.68"/><circle cx="46.7" cy="52.6" r="0.99" fill="#c840d8" opacity="0.74"/><circle cx="47.6" cy="52.6" r="0.68" fill="#f02888" opacity="0.88"/><circle cx="49.0" cy="52.6" r="0.50" fill="#e030b8" opacity="0.65"/><circle cx="51.5" cy="54.4" r="0.87" fill="#c840d8" opacity="0.75"/><circle cx="52.2" cy="54.7" r="0.48" fill="#f02478" opacity="0.50"/><circle cx="53.7" cy="55.1" r="0.80" fill="#ff2464" opacity="0.67"/><circle cx="56.3" cy="55.5" r="0.93" fill="#c840d8" opacity="0.67"/><circle cx="57.4" cy="55.3" r="0.96" fill="#e030b8" opacity="0.68"/><circle cx="58.7" cy="57.0" r="0.99" fill="#ff2464" opacity="0.76"/><circle cx="60.6" cy="57.9" r="1.01" fill="#f02478" opacity="0.57"/><circle cx="62.6" cy="58.1" r="0.67" fill="#f02888" opacity="0.70"/><circle cx="63.0" cy="57.8" r="0.40" fill="#e030b8" opacity="0.68"/><circle cx="65.5" cy="59.3" r="0.68" fill="#f02478" opacity="0.70"/><circle cx="66.3" cy="60.5" r="0.46" fill="#ea2c96" opacity="0.47"/><circle cx="68.8" cy="60.4" r="0.81" fill="#f02478" opacity="0.57"/><circle cx="69.4" cy="59.8" r="0.44" fill="#ea2c96" opacity="0.64"/><circle cx="71.7" cy="61.4" r="0.86" fill="#c840d8" opacity="0.82"/><circle cx="72.7" cy="60.3" r="0.80" fill="#c840d8" opacity="0.68"/><circle cx="75.1" cy="62.2" r="0.46" fill="#e030b8" opacity="0.81"/><circle cx="76.3" cy="61.4" r="0.58" fill="#c840d8" opacity="0.71"/><circle cx="77.9" cy="61.8" r="0.88" fill="#f02888" opacity="0.52"/><circle cx="79.1" cy="61.6" r="0.48" fill="#ea2c96" opacity="0.79"/><circle cx="81.6" cy="62.5" r="0.60" fill="#ff2464" opacity="0.47"/><circle cx="83.0" cy="62.2" r="0.98" fill="#ea2c96" opacity="0.69"/><circle cx="84.8" cy="62.3" r="0.62" fill="#f02478" opacity="0.60"/><circle cx="86.4" cy="62.6" r="0.85" fill="#e030b8" opacity="0.80"/><circle cx="87.7" cy="62.2" r="0.49" fill="#c840d8" opacity="0.41"/><circle cx="89.0" cy="61.9" r="0.68" fill="#e030b8" opacity="0.63"/><circle cx="90.9" cy="62.4" r="0.89" fill="#f02888" opacity="0.47"/><circle cx="92.3" cy="61.0" r="0.68" fill="#c840d8" opacity="0.44"/><circle cx="94.3" cy="60.6" r="0.67" fill="#ea2c96" opacity="0.52"/><circle cx="96.2" cy="60.9" r="0.41" fill="#e030b8" opacity="0.81"/><circle cx="98.2" cy="60.6" r="0.45" fill="#ea2c96" opacity="0.54"/><circle cx="99.7" cy="60.8" r="0.76" fill="#ff2464" opacity="0.81"/><circle cx="100.4" cy="61.2" r="0.73" fill="#ea2c96" opacity="0.64"/><circle cx="103.1" cy="60.2" r="0.76" fill="#ea2c96" opacity="0.51"/><circle cx="104.8" cy="58.8" r="0.58" fill="#e030b8" opacity="0.63"/><circle cx="105.4" cy="60.4" r="0.66" fill="#ff2464" opacity="0.73"/><circle cx="107.8" cy="58.9" r="0.77" fill="#ff2464" opacity="0.44"/><circle cx="108.7" cy="59.2" r="0.52" fill="#ea2c96" opacity="0.86"/><circle cx="110.1" cy="58.9" r="0.69" fill="#c840d8" opacity="0.78"/><circle cx="112.2" cy="58.9" r="0.73" fill="#ff2464" opacity="0.85"/><circle cx="113.4" cy="58.8" r="0.78" fill="#c840d8" opacity="0.64"/><circle cx="115.6" cy="57.4" r="0.44" fill="#f02888" opacity="0.82"/><circle cx="116.8" cy="57.6" r="0.42" fill="#c840d8" opacity="0.77"/><circle cx="119.3" cy="56.5" r="0.42" fill="#ea2c96" opacity="0.83"/><circle cx="120.1" cy="57.0" r="0.74" fill="#ea2c96" opacity="0.49"/><circle cx="122.4" cy="56.3" r="0.41" fill="#e030b8" opacity="0.70"/><circle cx="123.2" cy="55.7" r="0.53" fill="#f02478" opacity="0.92"/><circle cx="125.4" cy="54.7" r="0.70" fill="#f02888" opacity="0.47"/><circle cx="127.0" cy="54.7" r="0.85" fill="#f02478" opacity="0.51"/><circle cx="128.9" cy="54.3" r="0.53" fill="#ff2464" opacity="0.92"/>
<g transform="translate(99.0,0)">
<g clip-path="url(#ic)">
<rect width="40.0" height="37.5" fill="#1414e4"/>
<rect width="40.0" height="37.5" filter="url(#nzi)" opacity="0.35"/>
<path d="M9.7 15.0C10.3 15.1 10.8 15.1 13.6 15.5C16.4 15.9 22.3 16.7 26.6 17.2C30.8 17.8 36.5 18.6 39.2 19.0C42.0 19.3 42.5 19.4 43.2 19.5" stroke="#020216" stroke-width="5.5" fill="none" filter="url(#b1)"/>
<ellipse cx="9.3" cy="34.9" rx="16.0" ry="5.0" fill="#020216" filter="url(#b15)"/>
<ellipse cx="17.9" cy="-0.4" rx="20.0" ry="3.0" fill="#020216" filter="url(#b15)"/>
<path d="M3.3 15.3C4.1 15.2 6.4 15.4 8.0 15.1C9.7 14.7 10.2 13.5 13.2 13.2C16.1 12.9 22.9 13.1 25.7 13.1C28.5 13.1 28.0 12.5 30.0 12.9C32.0 13.4 36.5 15.4 37.8 15.9" stroke="#f0209a" stroke-width="2.4" fill="none" opacity="0.5" stroke-linecap="round" filter="url(#b08)"/>
<circle cx="2.7" cy="16.4" r="0.82" fill="#f040d0" opacity="0.64"/>
<circle cx="3.7" cy="16.2" r="0.67" fill="#f040d0" opacity="0.77"/>
<circle cx="6.0" cy="14.8" r="0.64" fill="#f040d0" opacity="0.82"/>
<circle cx="6.4" cy="16.4" r="0.66" fill="#ff2080" opacity="0.92"/>
<circle cx="8.8" cy="15.5" r="0.95" fill="#f040d0" opacity="0.99"/>
<circle cx="9.5" cy="14.1" r="0.52" fill="#ff2080" opacity="0.66"/>
<circle cx="10.6" cy="15.1" r="0.85" fill="#f040d0" opacity="0.98"/>
<circle cx="11.7" cy="14.8" r="0.51" fill="#ff30a0" opacity="0.62"/>
<circle cx="13.7" cy="14.2" r="0.48" fill="#ff2080" opacity="0.82"/>
<circle cx="15.3" cy="13.0" r="0.69" fill="#e050f0" opacity="0.94"/>
<circle cx="19.9" cy="13.5" r="0.49" fill="#f040d0" opacity="0.75"/>
<circle cx="22.5" cy="12.9" r="0.51" fill="#ff30a0" opacity="0.69"/>
<circle cx="26.3" cy="12.9" r="0.66" fill="#ff30a0" opacity="0.91"/>
<circle cx="27.1" cy="12.2" r="0.47" fill="#f040d0" opacity="0.82"/>
<circle cx="28.4" cy="11.6" r="0.72" fill="#ff30a0" opacity="0.94"/>
<circle cx="29.3" cy="13.3" r="0.80" fill="#ff2080" opacity="0.99"/>
<circle cx="30.7" cy="13.3" r="0.81" fill="#ff2080" opacity="0.74"/>
<circle cx="31.9" cy="12.6" r="0.62" fill="#e050f0" opacity="0.71"/>
<circle cx="34.6" cy="13.8" r="0.62" fill="#e050f0" opacity="0.63"/>
<circle cx="36.9" cy="16.4" r="0.75" fill="#f040d0" opacity="0.64"/>
<circle cx="37.3" cy="15.9" r="0.57" fill="#ff30a0" opacity="0.98"/>
<path d="M10.2 16.1C11.1 16.3 14.2 16.6 15.5 17.0C16.8 17.4 17.0 18.0 17.9 18.5C18.9 19.1 18.8 19.4 21.4 20.3C24.0 21.1 31.4 23.1 33.4 23.7" stroke="#f0209a" stroke-width="2.4" fill="none" opacity="0.5" stroke-linecap="round" filter="url(#b08)"/>
<circle cx="9.9" cy="15.9" r="0.76" fill="#ff30a0" opacity="0.99"/>
<circle cx="10.9" cy="17.4" r="0.85" fill="#ff30a0" opacity="0.68"/>
<circle cx="13.4" cy="15.8" r="0.76" fill="#e050f0" opacity="0.84"/>
<circle cx="13.7" cy="17.2" r="0.83" fill="#e050f0" opacity="0.92"/>
<circle cx="15.7" cy="17.8" r="0.56" fill="#ff30a0" opacity="0.90"/>
<circle cx="17.1" cy="17.8" r="0.77" fill="#ff2080" opacity="0.64"/>
<circle cx="17.2" cy="18.8" r="0.80" fill="#f040d0" opacity="0.78"/>
<circle cx="17.0" cy="18.9" r="0.79" fill="#ff2080" opacity="0.84"/>
<circle cx="17.2" cy="19.2" r="0.57" fill="#e050f0" opacity="0.91"/>
<circle cx="17.9" cy="19.7" r="0.55" fill="#ff30a0" opacity="0.86"/>
<circle cx="18.3" cy="19.8" r="0.49" fill="#ff2080" opacity="0.83"/>
<circle cx="20.5" cy="19.0" r="0.90" fill="#ff2080" opacity="0.63"/>
<circle cx="21.4" cy="20.3" r="0.49" fill="#ff2080" opacity="0.65"/>
<circle cx="23.5" cy="21.0" r="0.76" fill="#e050f0" opacity="0.65"/>
<circle cx="27.3" cy="21.5" r="0.67" fill="#ff30a0" opacity="0.91"/>
<circle cx="31.1" cy="22.1" r="0.82" fill="#ff2080" opacity="0.69"/>
<circle cx="33.8" cy="24.8" r="0.58" fill="#ff30a0" opacity="0.61"/>
<ellipse cx="3.3" cy="15.3" rx="2.3" ry="1.7" fill="#ff20a0" filter="url(#b07)"/>
<ellipse cx="8.0" cy="15.1" rx="1.8" ry="1.4" fill="#ff20a0" filter="url(#b07)"/>
<ellipse cx="13.2" cy="13.2" rx="1.7" ry="1.3" fill="#ff30a0" filter="url(#b07)"/>
<ellipse cx="25.7" cy="13.1" rx="1.7" ry="1.3" fill="#ff30b0" filter="url(#b07)"/>
<ellipse cx="30.0" cy="12.9" rx="1.6" ry="1.2" fill="#ff30b0" filter="url(#b07)"/>
<ellipse cx="37.8" cy="15.9" rx="1.5" ry="1.1" fill="#e050e0" filter="url(#b07)"/>
<ellipse cx="10.2" cy="16.1" rx="1.4" ry="1.0" fill="#ff30b0" filter="url(#b07)"/>
<ellipse cx="15.5" cy="17.0" rx="1.6" ry="1.2" fill="#ff30b0" filter="url(#b07)"/>
<ellipse cx="17.9" cy="18.5" rx="1.6" ry="1.2" fill="#ff30c0" filter="url(#b07)"/>
<ellipse cx="21.4" cy="20.3" rx="1.8" ry="1.4" fill="#ff30c0" filter="url(#b07)"/>
<ellipse cx="33.4" cy="23.7" rx="1.4" ry="1.0" fill="#c040f0" filter="url(#b07)"/>
<ellipse cx="17.9" cy="11.2" rx="1.4" ry="1.0" fill="#a050f0" filter="url(#b07)"/>
</g>
<path d="M0.5 0V37.3H40.0" stroke="#d4d4f6" stroke-width="1.15" fill="none"/>
</g>
</g>
<g transform="translate(168.0,387.3)" clip-path="url(#pc)">
<rect width="139.0" height="104.5" fill="#010112"/>
<mask id="mC5" maskUnits="userSpaceOnUse" x="0" y="0" width="139.0" height="104.5"><rect width="139.0" height="104.5" fill="#3a3a3a"/><path d="M-5.0 35.0C-2.7 34.5 4.7 33.5 9.0 32.0C13.3 30.5 17.0 27.5 21.0 26.0C25.0 24.5 28.7 23.2 33.0 23.0C37.3 22.8 42.2 24.0 47.0 25.0C51.8 26.0 57.2 27.8 62.0 29.0C66.8 30.2 71.3 31.5 76.0 32.0C80.7 32.5 85.5 32.5 90.0 32.0C94.5 31.5 99.8 29.8 103.0 29.0C106.2 28.2 102.2 28.3 109.0 27.0C115.8 25.7 138.2 26.3 144.0 21.0C149.8 15.7 168.8 -0.7 144.0 -5.0C119.2 -9.3 19.8 -5.0 -5.0 -5.0Z" fill="#fff" filter="url(#b3)"/></mask>
<path d="M-5.0 35.0C-2.7 34.5 4.7 33.5 9.0 32.0C13.3 30.5 17.0 27.5 21.0 26.0C25.0 24.5 28.7 23.2 33.0 23.0C37.3 22.8 42.2 24.0 47.0 25.0C51.8 26.0 57.2 27.8 62.0 29.0C66.8 30.2 71.3 31.5 76.0 32.0C80.7 32.5 85.5 32.5 90.0 32.0C94.5 31.5 99.8 29.8 103.0 29.0C106.2 28.2 102.2 28.3 109.0 27.0C115.8 25.7 138.2 26.3 144.0 21.0C149.8 15.7 168.8 -0.7 144.0 -5.0C119.2 -9.3 19.8 -5.0 -5.0 -5.0Z" fill="#08087c" opacity="0.20" filter="url(#b4)"/>
<ellipse cx="3" cy="8" rx="9" ry="14" fill="#1010a8" opacity="0.11" filter="url(#b4)"/>
<rect x="-5" y="70.5" width="149.0" height="40" fill="#070760" opacity="0.06" filter="url(#b4)"/>
<path d="M-2.0 78.0C1.7 80.3 13.0 87.7 20.0 92.0C27.0 96.3 36.7 102.0 40.0 104.0" stroke="#1010a8" stroke-width="4.5" fill="none" opacity="0.75" filter="url(#b2)"/>
<rect width="139.0" height="104.5" filter="url(#nz)" mask="url(#mC5)" opacity="0.56"/>
<path d="M9.0 44.0C11.0 43.0 17.0 39.5 21.0 38.0C25.0 36.5 28.7 35.2 33.0 35.0C37.3 34.8 42.2 36.0 47.0 37.0C51.8 38.0 57.2 39.8 62.0 41.0C66.8 42.2 71.3 43.5 76.0 44.0C80.7 44.5 85.5 44.5 90.0 44.0C94.5 43.5 99.8 41.8 103.0 41.0C106.2 40.2 108.0 39.3 109.0 39.0" stroke="#020216" stroke-width="15" fill="none" opacity="0.8" stroke-linecap="round" filter="url(#b3)"/>
<path d="M9.0 46.0C11.7 45.8 19.7 44.5 25.0 45.0C30.3 45.5 35.5 47.2 41.0 49.0C46.5 50.8 52.5 53.8 58.0 56.0C63.5 58.2 68.7 60.5 74.0 62.0C79.3 63.5 84.5 64.8 90.0 65.0C95.5 65.2 101.5 64.0 107.0 63.0C112.5 62.0 119.2 59.8 123.0 59.0C126.8 58.2 128.8 58.2 130.0 58.0" stroke="#020216" stroke-width="15" fill="none" opacity="0.8" stroke-linecap="round" filter="url(#b3)"/>
<path d="M10.3 46.4L11.7 45.9L13.7 45.2L15.9 44.3L18.2 43.4L20.4 42.3L22.4 41.5L24.2 40.8L26.1 40.2L27.9 39.6L29.6 39.2L31.3 38.9L33.1 38.7L35.0 38.8L37.0 38.9L39.2 39.3L41.5 39.7L43.8 40.2L46.2 40.7L48.6 41.2L51.0 41.8L53.5 42.5L56.0 43.3L58.6 44.0L61.1 44.6L63.5 45.2L65.8 45.8L68.2 46.4L70.6 46.9L73.1 47.4L75.6 47.7L78.1 47.9L80.6 48.1L83.1 48.1L85.5 48.1L88.0 47.9L90.4 47.7L92.9 47.3L95.4 46.6L97.8 45.9L100.1 45.2L102.1 44.5L103.8 43.8L105.3 43.3L106.6 42.7L107.7 42.2L108.5 41.7L109.2 41.3L109.7 40.9L108.3 37.1L107.7 37.1L106.9 37.3L106.0 37.5L104.9 37.7L103.7 37.9L102.2 38.2L100.4 38.5L98.4 38.9L96.2 39.3L93.9 39.7L91.7 40.0L89.6 40.3L87.5 40.5L85.3 40.6L83.1 40.6L80.8 40.6L78.6 40.5L76.4 40.3L74.3 40.0L72.1 39.6L69.9 39.1L67.6 38.5L65.3 38.0L62.9 37.4L60.5 36.7L58.1 36.1L55.5 35.3L52.9 34.6L50.4 33.9L47.8 33.3L45.3 32.8L42.9 32.3L40.4 31.9L37.9 31.5L35.4 31.3L32.9 31.3L30.4 31.5L28.1 31.8L25.9 32.4L23.8 33.0L21.7 33.7L19.6 34.5L17.3 35.5L14.9 36.6L12.6 38.0L10.6 39.4L8.9 40.7L7.7 41.6Z" fill="#0e0eb0" opacity="0.4" filter="url(#b15)"/>
<path d="M9.7 45.3L11.1 44.9L13.1 44.1L15.3 43.2L17.6 42.2L19.9 41.1L21.9 40.3L23.8 39.6L25.7 38.9L27.5 38.4L29.3 37.9L31.2 37.6L33.1 37.4L35.1 37.5L37.2 37.7L39.4 38.0L41.7 38.4L44.1 38.9L46.5 39.4L48.9 39.9L51.3 40.6L53.8 41.3L56.4 42.0L58.9 42.7L61.4 43.4L63.8 44.0L66.2 44.6L68.5 45.1L70.9 45.7L73.3 46.1L75.7 46.4L78.2 46.7L80.6 46.8L83.1 46.8L85.5 46.8L87.9 46.7L90.3 46.4L92.7 46.0L95.2 45.4L97.5 44.7L99.7 44.0L101.7 43.3L103.5 42.7L104.9 42.1L106.2 41.6L107.3 41.1L108.1 40.6L108.8 40.2L109.3 39.9L108.7 38.1L108.1 38.2L107.3 38.4L106.4 38.6L105.3 38.8L104.0 39.1L102.5 39.3L100.8 39.7L98.7 40.1L96.5 40.6L94.2 41.0L91.9 41.3L89.7 41.6L87.5 41.8L85.3 41.9L83.1 41.9L80.8 41.9L78.5 41.8L76.3 41.6L74.1 41.3L71.9 40.9L69.6 40.4L67.3 39.8L65.0 39.2L62.6 38.6L60.2 38.0L57.7 37.3L55.2 36.6L52.6 35.9L50.0 35.2L47.5 34.6L45.1 34.1L42.7 33.6L40.2 33.1L37.8 32.8L35.3 32.6L32.9 32.6L30.6 32.7L28.4 33.1L26.2 33.6L24.2 34.3L22.2 35.0L20.1 35.7L17.9 36.7L15.5 37.8L13.2 39.2L11.1 40.5L9.5 41.7L8.3 42.7Z" fill="#1717d8" stroke="#1717d8" stroke-width="0.8" stroke-linejoin="round" filter="url(#b08)"/>
<path d="M9.3 48.8L11.1 49.0L13.5 49.0L16.4 49.0L19.3 49.0L22.1 48.9L24.7 49.0L27.0 49.3L29.4 49.8L31.9 50.4L34.4 51.1L37.0 51.9L39.7 52.8L42.4 53.7L45.1 54.8L47.9 56.0L50.8 57.3L53.7 58.5L56.5 59.7L59.2 60.8L61.9 61.9L64.6 63.0L67.3 64.0L70.1 65.0L72.9 65.8L75.6 66.6L78.4 67.3L81.1 67.9L84.0 68.4L86.9 68.8L89.9 69.0L92.9 69.0L96.0 68.8L99.0 68.4L102.0 67.9L104.9 67.4L107.8 66.9L110.7 66.2L113.7 65.4L116.6 64.4L119.3 63.5L121.7 62.7L123.7 62.0L125.3 61.6L126.7 61.2L127.8 60.9L128.8 60.6L129.6 60.4L130.2 60.1L129.8 55.9L129.1 55.8L128.3 55.7L127.2 55.6L125.9 55.6L124.2 55.7L122.3 56.0L120.1 56.3L117.5 56.9L114.7 57.5L111.8 58.1L109.0 58.6L106.2 59.1L103.5 59.6L100.7 60.1L98.0 60.5L95.3 60.8L92.6 61.0L90.1 61.0L87.7 60.8L85.2 60.5L82.7 60.1L80.2 59.5L77.7 58.9L75.1 58.2L72.6 57.4L70.1 56.5L67.5 55.5L64.9 54.5L62.2 53.4L59.5 52.3L56.8 51.2L54.0 50.0L51.1 48.7L48.2 47.5L45.2 46.3L42.3 45.2L39.5 44.3L36.7 43.4L34.0 42.6L31.2 41.9L28.3 41.4L25.3 41.0L22.1 40.9L18.8 41.0L15.6 41.5L12.8 42.1L10.4 42.7L8.7 43.2Z" fill="#0e0eb0" opacity="0.4" filter="url(#b15)"/>
<path d="M9.2 47.7L10.9 47.8L13.4 47.8L16.2 47.8L19.2 47.7L22.1 47.6L24.8 47.7L27.2 48.0L29.7 48.5L32.2 49.1L34.8 49.8L37.4 50.7L40.1 51.6L42.8 52.5L45.6 53.6L48.4 54.9L51.3 56.1L54.2 57.3L57.0 58.5L59.7 59.6L62.4 60.7L65.1 61.8L67.8 62.8L70.5 63.8L73.2 64.6L76.0 65.3L78.7 66.0L81.4 66.6L84.2 67.1L87.0 67.5L89.9 67.7L92.9 67.7L95.9 67.5L98.9 67.1L101.8 66.7L104.7 66.2L107.5 65.7L110.4 65.0L113.4 64.1L116.2 63.2L118.9 62.3L121.4 61.5L123.4 60.9L125.1 60.4L126.5 60.0L127.7 59.7L128.6 59.5L129.5 59.2L130.1 59.0L129.9 57.0L129.2 56.9L128.4 56.8L127.3 56.8L126.0 56.8L124.5 56.9L122.6 57.1L120.4 57.5L117.8 58.1L115.0 58.7L112.1 59.3L109.2 59.8L106.5 60.3L103.7 60.8L100.9 61.3L98.1 61.8L95.4 62.1L92.7 62.3L90.1 62.3L87.5 62.1L85.0 61.8L82.5 61.4L79.9 60.8L77.3 60.1L74.8 59.4L72.2 58.6L69.6 57.7L67.0 56.7L64.4 55.7L61.7 54.6L59.0 53.5L56.3 52.4L53.4 51.2L50.6 49.9L47.7 48.7L44.7 47.5L41.9 46.4L39.1 45.5L36.4 44.7L33.6 43.9L30.9 43.2L28.1 42.7L25.2 42.3L22.1 42.2L18.9 42.3L15.8 42.7L12.9 43.3L10.5 43.9L8.8 44.3Z" fill="#1717d8" stroke="#1717d8" stroke-width="0.8" stroke-linejoin="round" filter="url(#b08)"/>
<path d="M26.7 38.0C29.8 38.4 38.7 38.9 45.2 40.1C51.7 41.3 58.9 44.0 65.8 45.2C72.6 46.4 80.2 47.6 86.3 47.3C92.5 46.9 100.1 43.9 102.8 43.2" stroke="#c81c80" stroke-width="2.6" fill="none" opacity="0.27" stroke-linecap="round" filter="url(#b05)"/>
<circle cx="26.9" cy="37.1" r="0.82" fill="#e030b8" opacity="0.91"/><circle cx="29.3" cy="38.2" r="0.45" fill="#ff2464" opacity="0.66"/><circle cx="30.8" cy="38.2" r="0.91" fill="#ea2c96" opacity="0.48"/><circle cx="32.7" cy="38.6" r="0.93" fill="#f02888" opacity="0.61"/><circle cx="33.9" cy="39.0" r="0.76" fill="#ea2c96" opacity="0.77"/><circle cx="34.8" cy="39.3" r="0.79" fill="#e030b8" opacity="0.44"/><circle cx="36.6" cy="37.7" r="0.66" fill="#ff2464" opacity="0.94"/><circle cx="39.1" cy="39.7" r="0.82" fill="#c840d8" opacity="0.88"/><circle cx="40.3" cy="38.8" r="0.52" fill="#ff2464" opacity="0.47"/><circle cx="41.8" cy="39.8" r="0.69" fill="#e030b8" opacity="0.54"/><circle cx="43.4" cy="40.2" r="0.93" fill="#e030b8" opacity="0.47"/><circle cx="44.5" cy="40.2" r="0.67" fill="#c840d8" opacity="0.78"/><circle cx="46.1" cy="39.8" r="0.85" fill="#ff2464" opacity="0.70"/><circle cx="47.9" cy="40.3" r="0.67" fill="#e030b8" opacity="0.85"/><circle cx="49.7" cy="41.2" r="0.96" fill="#f02478" opacity="0.91"/><circle cx="51.4" cy="41.1" r="0.57" fill="#f02888" opacity="0.65"/><circle cx="52.7" cy="40.5" r="0.41" fill="#e030b8" opacity="0.79"/><circle cx="54.9" cy="42.5" r="0.60" fill="#f02888" opacity="0.52"/><circle cx="56.0" cy="41.7" r="0.46" fill="#ea2c96" opacity="0.47"/><circle cx="57.3" cy="41.6" r="0.78" fill="#e030b8" opacity="0.57"/><circle cx="59.7" cy="44.0" r="1.02" fill="#f02478" opacity="0.82"/><circle cx="60.3" cy="42.6" r="0.57" fill="#c840d8" opacity="0.55"/><circle cx="62.4" cy="44.2" r="0.87" fill="#f02478" opacity="0.89"/><circle cx="63.9" cy="44.1" r="1.01" fill="#c840d8" opacity="0.81"/><circle cx="65.5" cy="45.3" r="0.72" fill="#ff2464" opacity="0.55"/><circle cx="67.0" cy="44.3" r="0.60" fill="#c840d8" opacity="0.90"/><circle cx="67.9" cy="44.7" r="0.68" fill="#f02478" opacity="0.82"/><circle cx="69.9" cy="45.9" r="0.53" fill="#ea2c96" opacity="0.78"/><circle cx="71.4" cy="45.3" r="0.48" fill="#f02478" opacity="0.89"/><circle cx="73.7" cy="46.0" r="0.64" fill="#ea2c96" opacity="0.64"/><circle cx="74.9" cy="46.5" r="0.93" fill="#f02478" opacity="0.51"/><circle cx="76.8" cy="46.4" r="0.82" fill="#e030b8" opacity="0.76"/><circle cx="78.8" cy="45.8" r="0.94" fill="#c840d8" opacity="0.79"/><circle cx="79.7" cy="46.6" r="0.71" fill="#e030b8" opacity="0.91"/><circle cx="80.8" cy="45.9" r="1.01" fill="#f02478" opacity="0.70"/><circle cx="83.5" cy="47.4" r="0.95" fill="#f02478" opacity="0.48"/><circle cx="85.0" cy="45.8" r="0.44" fill="#e030b8" opacity="0.83"/><circle cx="85.6" cy="45.7" r="0.98" fill="#ff2464" opacity="0.50"/><circle cx="87.7" cy="45.7" r="0.87" fill="#f02478" opacity="0.43"/><circle cx="89.9" cy="46.4" r="0.84" fill="#f02478" opacity="0.76"/><circle cx="91.0" cy="45.0" r="0.87" fill="#e030b8" opacity="0.43"/><circle cx="93.0" cy="44.4" r="0.66" fill="#e030b8" opacity="0.65"/><circle cx="94.3" cy="45.1" r="0.56" fill="#c840d8" opacity="0.57"/><circle cx="96.0" cy="44.0" r="1.03" fill="#ff2464" opacity="0.69"/><circle cx="96.6" cy="43.9" r="1.05" fill="#ff2464" opacity="0.60"/><circle cx="99.1" cy="43.8" r="0.84" fill="#ff2464" opacity="0.92"/><circle cx="100.9" cy="42.6" r="0.64" fill="#ea2c96" opacity="0.79"/><circle cx="101.7" cy="42.9" r="0.48" fill="#ea2c96" opacity="0.54"/>
<path d="M24.7 43.2C28.1 44.0 38.4 46.3 45.2 48.3C52.1 50.4 58.9 53.5 65.8 55.5C72.6 57.6 80.2 59.8 86.3 60.6C92.5 61.5 97.3 61.2 102.8 60.6C108.3 60.1 116.5 58.1 119.2 57.6" stroke="#c81c80" stroke-width="2.6" fill="none" opacity="0.27" stroke-linecap="round" filter="url(#b05)"/>
<circle cx="24.9" cy="44.4" r="0.45" fill="#ff2464" opacity="0.83"/><circle cx="27.3" cy="44.5" r="0.42" fill="#f02888" opacity="0.77"/><circle cx="28.6" cy="44.2" r="1.05" fill="#f02888" opacity="0.66"/><circle cx="29.5" cy="44.0" r="0.87" fill="#ff2464" opacity="0.79"/><circle cx="31.8" cy="45.2" r="0.79" fill="#f02888" opacity="0.67"/><circle cx="33.0" cy="45.7" r="0.94" fill="#ea2c96" opacity="0.58"/><circle cx="34.9" cy="46.1" r="0.99" fill="#ff2464" opacity="0.85"/><circle cx="36.8" cy="46.8" r="0.50" fill="#f02888" opacity="0.69"/><circle cx="37.6" cy="46.6" r="0.59" fill="#f02888" opacity="0.77"/><circle cx="39.1" cy="47.9" r="0.42" fill="#f02478" opacity="0.69"/><circle cx="41.7" cy="48.7" r="0.55" fill="#ff2464" opacity="0.87"/><circle cx="42.7" cy="48.8" r="0.93" fill="#ea2c96" opacity="0.51"/><circle cx="44.6" cy="48.8" r="0.63" fill="#ff2464" opacity="0.85"/><circle cx="45.3" cy="47.9" r="0.97" fill="#e030b8" opacity="0.56"/><circle cx="46.9" cy="50.0" r="0.47" fill="#ea2c96" opacity="0.86"/><circle cx="49.3" cy="49.8" r="0.69" fill="#f02478" opacity="0.62"/><circle cx="50.3" cy="51.1" r="0.90" fill="#c840d8" opacity="0.46"/><circle cx="52.3" cy="50.8" r="0.78" fill="#c840d8" opacity="0.53"/><circle cx="54.0" cy="52.1" r="0.53" fill="#e030b8" opacity="0.46"/><circle cx="55.4" cy="52.6" r="0.94" fill="#f02888" opacity="0.46"/><circle cx="57.0" cy="53.7" r="0.78" fill="#f02478" opacity="0.54"/><circle cx="57.6" cy="53.2" r="0.61" fill="#f02888" opacity="0.69"/><circle cx="59.7" cy="54.8" r="0.63" fill="#e030b8" opacity="0.89"/><circle cx="61.5" cy="53.8" r="0.71" fill="#f02478" opacity="0.79"/><circle cx="62.8" cy="54.0" r="0.69" fill="#f02478" opacity="0.43"/><circle cx="64.2" cy="54.8" r="0.75" fill="#f02888" opacity="0.61"/><circle cx="66.0" cy="56.9" r="1.00" fill="#ea2c96" opacity="0.64"/><circle cx="67.5" cy="55.6" r="0.81" fill="#ea2c96" opacity="0.67"/><circle cx="68.9" cy="57.7" r="0.86" fill="#ea2c96" opacity="0.91"/><circle cx="70.7" cy="57.4" r="0.89" fill="#f02888" opacity="0.64"/><circle cx="71.6" cy="57.1" r="0.51" fill="#f02478" opacity="0.92"/><circle cx="73.2" cy="57.9" r="0.44" fill="#ff2464" opacity="0.50"/><circle cx="74.8" cy="57.7" r="0.41" fill="#f02888" opacity="0.81"/><circle cx="77.0" cy="57.9" r="0.58" fill="#e030b8" opacity="0.55"/><circle cx="78.8" cy="58.7" r="0.93" fill="#f02478" opacity="0.85"/><circle cx="79.9" cy="60.2" r="0.81" fill="#ff2464" opacity="0.56"/><circle cx="81.3" cy="59.4" r="0.43" fill="#ff2464" opacity="0.88"/><circle cx="82.6" cy="60.7" r="0.57" fill="#ea2c96" opacity="0.92"/><circle cx="84.5" cy="61.5" r="0.60" fill="#f02888" opacity="0.49"/><circle cx="86.0" cy="61.0" r="0.75" fill="#e030b8" opacity="0.93"/><circle cx="87.5" cy="60.8" r="0.75" fill="#f02478" opacity="0.84"/><circle cx="90.0" cy="60.3" r="0.50" fill="#e030b8" opacity="0.52"/><circle cx="90.9" cy="62.0" r="0.65" fill="#ff2464" opacity="0.62"/><circle cx="92.7" cy="61.9" r="0.45" fill="#c840d8" opacity="0.47"/><circle cx="94.3" cy="61.7" r="0.88" fill="#ff2464" opacity="0.67"/><circle cx="96.1" cy="61.1" r="0.63" fill="#ff2464" opacity="0.87"/><circle cx="97.7" cy="60.7" r="0.58" fill="#ea2c96" opacity="0.52"/><circle cx="99.4" cy="60.7" r="0.72" fill="#f02888" opacity="0.80"/><circle cx="101.3" cy="61.5" r="0.55" fill="#f02478" opacity="0.90"/><circle cx="101.9" cy="61.4" r="0.89" fill="#ea2c96" opacity="0.51"/><circle cx="104.4" cy="60.2" r="0.43" fill="#f02478" opacity="0.58"/><circle cx="105.3" cy="59.8" r="1.03" fill="#f02478" opacity="0.90"/><circle cx="106.6" cy="59.6" r="1.05" fill="#ea2c96" opacity="0.43"/><circle cx="108.8" cy="59.3" r="0.43" fill="#c840d8" opacity="0.60"/><circle cx="110.7" cy="59.9" r="0.94" fill="#c840d8" opacity="0.43"/><circle cx="111.9" cy="60.2" r="0.43" fill="#f02888" opacity="0.92"/><circle cx="113.4" cy="59.4" r="0.41" fill="#f02478" opacity="0.75"/><circle cx="114.8" cy="57.9" r="0.75" fill="#ff2464" opacity="0.52"/><circle cx="117.0" cy="58.1" r="0.56" fill="#ff2464" opacity="0.92"/><circle cx="118.2" cy="59.0" r="0.84" fill="#c840d8" opacity="0.83"/>
<circle cx="85.7" cy="61.4" r="0.54" fill="#ff2464" opacity="0.58"/>
<circle cx="83.6" cy="60.6" r="0.70" fill="#ea2c96" opacity="0.90"/>
<circle cx="92.5" cy="60.3" r="0.95" fill="#e030b8" opacity="0.71"/>
<circle cx="92.9" cy="59.2" r="0.61" fill="#ea2c96" opacity="0.51"/>
<circle cx="82.3" cy="59.4" r="0.45" fill="#ea2c96" opacity="0.88"/>
<circle cx="94.1" cy="60.6" r="0.63" fill="#ea2c96" opacity="0.67"/>
<circle cx="85.8" cy="59.7" r="0.99" fill="#ff2464" opacity="0.70"/>
<circle cx="85.9" cy="59.6" r="0.94" fill="#e030b8" opacity="0.81"/>
<circle cx="93.9" cy="61.5" r="0.94" fill="#e030b8" opacity="0.98"/>
<circle cx="86.9" cy="62.5" r="0.93" fill="#ff2464" opacity="0.56"/>
<g transform="translate(99.0,0)">
<g clip-path="url(#ic)">
<rect width="40.0" height="37.5" fill="#1515ea"/>
<rect width="40.0" height="37.5" filter="url(#nzi)" opacity="0.35"/>
<path d="M-4.1 15.0C-3.5 15.1 -3.9 15.1 -0.2 15.5C3.5 16.0 11.4 16.5 17.9 17.7C24.5 18.9 35.0 21.8 39.2 22.8C43.4 23.9 42.5 23.6 43.1 23.8" stroke="#020216" stroke-width="11.5" fill="none" filter="url(#b1)"/>
<path d="M1.6 9.9C2.8 9.8 6.3 9.2 9.3 9.1C12.3 8.9 16.6 8.3 19.7 9.1C22.7 9.8 25.1 12.8 27.4 13.4C29.7 13.9 32.4 12.6 33.4 12.5" stroke="#f0209a" stroke-width="2.4" fill="none" opacity="0.5" stroke-linecap="round" filter="url(#b08)"/>
<circle cx="0.8" cy="10.4" r="0.80" fill="#f040d0" opacity="0.97"/>
<circle cx="2.8" cy="10.5" r="0.91" fill="#f040d0" opacity="0.69"/>
<circle cx="4.5" cy="8.5" r="0.79" fill="#e050f0" opacity="0.60"/>
<circle cx="6.3" cy="9.1" r="0.85" fill="#e050f0" opacity="0.86"/>
<circle cx="10.0" cy="10.2" r="0.80" fill="#e050f0" opacity="0.80"/>
<circle cx="12.0" cy="8.1" r="0.57" fill="#e050f0" opacity="0.87"/>
<circle cx="14.4" cy="9.7" r="0.59" fill="#f040d0" opacity="0.96"/>
<circle cx="17.6" cy="9.8" r="0.92" fill="#ff2080" opacity="0.78"/>
<circle cx="19.0" cy="8.5" r="0.52" fill="#ff30a0" opacity="0.87"/>
<circle cx="22.1" cy="9.8" r="0.80" fill="#ff30a0" opacity="0.89"/>
<circle cx="24.0" cy="11.7" r="0.86" fill="#e050f0" opacity="0.67"/>
<circle cx="26.4" cy="13.0" r="0.66" fill="#e050f0" opacity="0.84"/>
<circle cx="27.6" cy="14.5" r="0.61" fill="#ff2080" opacity="0.68"/>
<circle cx="29.0" cy="14.3" r="0.53" fill="#ff30a0" opacity="0.80"/>
<circle cx="31.0" cy="12.6" r="0.73" fill="#f040d0" opacity="0.84"/>
<circle cx="31.7" cy="12.4" r="0.76" fill="#ff2080" opacity="0.77"/>
<circle cx="33.3" cy="13.6" r="0.90" fill="#f040d0" opacity="0.72"/>
<path d="M4.1 21.6C5.3 21.8 8.4 22.3 11.0 22.8C13.6 23.3 17.4 24.1 19.7 24.6C22.0 25.1 22.1 24.9 24.8 25.9C27.6 26.8 34.2 29.5 36.0 30.2" stroke="#f0209a" stroke-width="2.4" fill="none" opacity="0.5" stroke-linecap="round" filter="url(#b08)"/>
<circle cx="3.4" cy="22.1" r="0.80" fill="#f040d0" opacity="0.97"/>
<circle cx="5.2" cy="22.5" r="0.91" fill="#f040d0" opacity="0.69"/>
<circle cx="6.8" cy="21.1" r="0.79" fill="#e050f0" opacity="0.60"/>
<circle cx="8.4" cy="22.4" r="0.85" fill="#e050f0" opacity="0.86"/>
<circle cx="11.8" cy="23.9" r="0.80" fill="#e050f0" opacity="0.80"/>
<circle cx="13.4" cy="22.5" r="0.57" fill="#e050f0" opacity="0.87"/>
<circle cx="15.3" cy="24.7" r="0.59" fill="#f040d0" opacity="0.96"/>
<circle cx="18.2" cy="25.3" r="0.92" fill="#ff2080" opacity="0.78"/>
<circle cx="19.0" cy="24.0" r="0.52" fill="#ff30a0" opacity="0.87"/>
<circle cx="21.3" cy="24.7" r="0.80" fill="#ff30a0" opacity="0.89"/>
<circle cx="22.3" cy="25.5" r="0.86" fill="#e050f0" opacity="0.67"/>
<circle cx="24.0" cy="25.8" r="0.66" fill="#e050f0" opacity="0.84"/>
<circle cx="25.0" cy="27.0" r="0.61" fill="#ff2080" opacity="0.68"/>
<circle cx="27.3" cy="27.7" r="0.53" fill="#ff30a0" opacity="0.80"/>
<circle cx="30.9" cy="27.5" r="0.73" fill="#f040d0" opacity="0.84"/>
<circle cx="33.2" cy="29.0" r="0.76" fill="#ff2080" opacity="0.77"/>
<circle cx="35.9" cy="31.3" r="0.90" fill="#f040d0" opacity="0.72"/>
<ellipse cx="1.6" cy="9.9" rx="1.6" ry="1.2" fill="#ff30a0" filter="url(#b07)"/>
<ellipse cx="9.3" cy="9.1" rx="1.7" ry="1.3" fill="#ff30b0" filter="url(#b07)"/>
<ellipse cx="19.7" cy="9.1" rx="2.3" ry="1.7" fill="#f030d0" filter="url(#b07)"/>
<ellipse cx="27.4" cy="13.4" rx="2.0" ry="1.4" fill="#ff2070" filter="url(#b07)"/>
<ellipse cx="33.4" cy="12.5" rx="2.0" ry="1.4" fill="#f030e0" filter="url(#b07)"/>
<ellipse cx="4.1" cy="21.6" rx="2.1" ry="1.5" fill="#ff30b0" filter="url(#b07)"/>
<ellipse cx="11.0" cy="22.8" rx="1.6" ry="1.2" fill="#e040e0" filter="url(#b07)"/>
<ellipse cx="19.7" cy="24.6" rx="2.2" ry="1.6" fill="#ff20a0" filter="url(#b07)"/>
<ellipse cx="24.8" cy="25.9" rx="1.5" ry="1.1" fill="#ff30b0" filter="url(#b07)"/>
<ellipse cx="36.0" cy="30.2" rx="2.1" ry="1.5" fill="#ff30c0" filter="url(#b07)"/>
</g>
<path d="M0.5 0V37.3H40.0" stroke="#d4d4f6" stroke-width="1.15" fill="none"/>
</g>
</g>
<g transform="translate(311.8,387.3)" clip-path="url(#pc)">
<rect width="139.0" height="104.5" fill="#010112"/>
<mask id="mC6" maskUnits="userSpaceOnUse" x="0" y="0" width="139.0" height="104.5"><rect width="139.0" height="104.5" fill="#3a3a3a"/><path d="M-5.0 29.0C-2.8 28.5 4.0 27.3 8.0 26.0C12.0 24.7 15.2 22.0 19.0 21.0C22.8 20.0 26.7 19.5 31.0 20.0C35.3 20.5 40.2 22.3 45.0 24.0C49.8 25.7 55.2 28.2 60.0 30.0C64.8 31.8 69.3 34.0 74.0 35.0C78.7 36.0 83.2 36.7 88.0 36.0C92.8 35.3 98.8 32.5 103.0 31.0C107.2 29.5 106.2 28.7 113.0 27.0C119.8 25.3 138.8 26.3 144.0 21.0C149.2 15.7 168.8 -0.7 144.0 -5.0C119.2 -9.3 19.8 -5.0 -5.0 -5.0Z" fill="#fff" filter="url(#b3)"/></mask>
<path d="M-5.0 29.0C-2.8 28.5 4.0 27.3 8.0 26.0C12.0 24.7 15.2 22.0 19.0 21.0C22.8 20.0 26.7 19.5 31.0 20.0C35.3 20.5 40.2 22.3 45.0 24.0C49.8 25.7 55.2 28.2 60.0 30.0C64.8 31.8 69.3 34.0 74.0 35.0C78.7 36.0 83.2 36.7 88.0 36.0C92.8 35.3 98.8 32.5 103.0 31.0C107.2 29.5 106.2 28.7 113.0 27.0C119.8 25.3 138.8 26.3 144.0 21.0C149.2 15.7 168.8 -0.7 144.0 -5.0C119.2 -9.3 19.8 -5.0 -5.0 -5.0Z" fill="#08087c" opacity="0.18" filter="url(#b4)"/>
<ellipse cx="3" cy="8" rx="9" ry="14" fill="#1010a8" opacity="0.07" filter="url(#b4)"/>
<rect x="-5" y="70.5" width="149.0" height="40" fill="#070760" opacity="0.06" filter="url(#b4)"/>
<path d="M-2.0 78.0C1.0 80.3 10.7 87.7 16.0 92.0C21.3 96.3 27.7 102.0 30.0 104.0" stroke="#1010a8" stroke-width="4.5" fill="none" opacity="0.75" filter="url(#b2)"/>
<rect width="139.0" height="104.5" filter="url(#nz)" mask="url(#mC6)" opacity="0.54"/>
<path d="M8.0 38.0C9.8 37.2 15.2 34.0 19.0 33.0C22.8 32.0 26.7 31.5 31.0 32.0C35.3 32.5 40.2 34.3 45.0 36.0C49.8 37.7 55.2 40.2 60.0 42.0C64.8 43.8 69.3 46.0 74.0 47.0C78.7 48.0 83.2 48.7 88.0 48.0C92.8 47.3 98.8 44.5 103.0 43.0C107.2 41.5 111.3 39.7 113.0 39.0" stroke="#020216" stroke-width="15" fill="none" opacity="0.8" stroke-linecap="round" filter="url(#b3)"/>
<path d="M8.0 40.0C10.5 40.0 18.2 39.2 23.0 40.0C27.8 40.8 32.0 42.7 37.0 45.0C42.0 47.3 47.5 51.0 53.0 54.0C58.5 57.0 64.5 60.7 70.0 63.0C75.5 65.3 80.5 67.0 86.0 68.0C91.5 69.0 97.5 69.3 103.0 69.0C108.5 68.7 113.5 67.0 119.0 66.0C124.5 65.0 133.2 63.5 136.0 63.0" stroke="#020216" stroke-width="15" fill="none" opacity="0.8" stroke-linecap="round" filter="url(#b3)"/>
<path d="M9.2 40.5L10.6 40.1L12.4 39.5L14.4 38.8L16.4 38.1L18.3 37.3L20.0 36.7L21.7 36.3L23.4 36.0L25.2 35.8L26.9 35.7L28.7 35.7L30.5 35.8L32.5 36.1L34.5 36.6L36.7 37.2L39.0 38.0L41.3 38.8L43.7 39.6L46.1 40.5L48.5 41.5L51.0 42.5L53.6 43.6L56.1 44.6L58.6 45.6L61.0 46.5L63.3 47.5L65.7 48.4L68.1 49.3L70.6 50.1L73.1 50.8L75.6 51.3L78.1 51.7L80.6 52.0L83.2 52.1L85.8 52.1L88.6 51.8L91.4 51.2L94.2 50.2L97.0 49.1L99.5 47.9L101.9 46.8L104.1 45.8L106.1 44.9L108.1 44.0L109.9 43.0L111.5 42.2L112.8 41.5L113.8 40.9L112.2 37.1L111.1 37.4L109.7 37.8L108.0 38.3L106.1 38.9L104.1 39.6L101.9 40.2L99.6 40.9L97.1 41.7L94.5 42.6L92.0 43.3L89.6 43.8L87.4 44.2L85.4 44.4L83.3 44.4L81.3 44.3L79.2 44.0L77.0 43.7L74.9 43.2L72.7 42.7L70.6 42.0L68.4 41.2L66.2 40.3L63.8 39.4L61.4 38.4L59.0 37.5L56.5 36.4L54.0 35.4L51.4 34.3L48.8 33.3L46.3 32.4L43.8 31.5L41.4 30.7L38.9 29.9L36.5 29.2L34.0 28.6L31.5 28.2L29.0 28.0L26.7 28.0L24.5 28.1L22.3 28.4L20.1 28.8L18.0 29.3L15.6 30.1L13.3 31.0L11.1 32.3L9.3 33.6L7.8 34.7L6.8 35.5Z" fill="#0e0eb0" opacity="0.4" filter="url(#b15)"/>
<path d="M8.7 39.4L10.0 39.1L11.8 38.4L13.8 37.7L15.9 36.9L17.9 36.0L19.7 35.5L21.4 35.0L23.2 34.7L25.0 34.5L26.9 34.4L28.8 34.4L30.7 34.5L32.7 34.9L34.8 35.4L37.1 36.0L39.4 36.8L41.8 37.6L44.1 38.4L46.5 39.3L49.0 40.3L51.5 41.3L54.1 42.4L56.6 43.4L59.1 44.4L61.4 45.3L63.8 46.3L66.1 47.2L68.5 48.1L71.0 48.9L73.4 49.5L75.9 50.0L78.3 50.4L80.7 50.7L83.2 50.8L85.7 50.8L88.4 50.5L91.1 49.9L93.8 49.0L96.5 47.9L99.1 46.7L101.5 45.6L103.6 44.7L105.7 43.8L107.6 42.9L109.5 42.0L111.1 41.1L112.4 40.4L113.4 39.9L112.6 38.1L111.5 38.4L110.1 38.9L108.4 39.4L106.5 40.0L104.5 40.7L102.4 41.3L100.1 42.0L97.6 42.9L95.0 43.7L92.4 44.5L89.9 45.1L87.6 45.5L85.5 45.7L83.3 45.7L81.2 45.6L79.0 45.3L76.8 45.0L74.6 44.5L72.4 44.0L70.2 43.3L68.0 42.4L65.7 41.5L63.3 40.6L60.9 39.6L58.5 38.7L56.0 37.6L53.5 36.6L50.9 35.5L48.4 34.5L45.9 33.6L43.4 32.8L41.0 31.9L38.6 31.1L36.1 30.4L33.7 29.9L31.3 29.5L29.0 29.3L26.7 29.3L24.6 29.4L22.5 29.7L20.4 30.0L18.3 30.5L16.1 31.3L13.8 32.2L11.7 33.4L9.8 34.7L8.3 35.8L7.3 36.6Z" fill="#1717d8" stroke="#1717d8" stroke-width="0.8" stroke-linejoin="round" filter="url(#b08)"/>
<path d="M8.1 43.1L9.8 43.4L12.1 43.6L14.8 43.8L17.5 44.0L20.1 44.1L22.3 44.3L24.3 44.7L26.4 45.3L28.4 46.0L30.5 46.9L32.8 47.8L35.1 48.9L37.5 50.1L40.0 51.5L42.6 53.0L45.3 54.6L48.1 56.2L50.9 57.8L53.7 59.3L56.5 60.9L59.4 62.6L62.4 64.2L65.3 65.7L68.3 67.0L71.1 68.2L73.9 69.2L76.7 70.1L79.5 71.0L82.3 71.7L85.2 72.3L88.2 72.8L91.2 73.1L94.2 73.3L97.3 73.5L100.3 73.5L103.3 73.3L106.3 73.0L109.1 72.3L111.8 71.6L114.5 70.8L117.0 70.0L119.6 69.3L122.5 68.6L125.7 67.8L129.0 67.1L132.0 66.4L134.6 65.7L136.4 65.2L135.6 60.8L133.7 60.9L131.1 61.2L128.0 61.5L124.7 61.9L121.4 62.3L118.4 62.7L115.5 63.1L112.8 63.5L110.2 63.9L107.6 64.3L105.2 64.5L102.7 64.7L100.1 64.8L97.5 64.8L94.8 64.7L92.1 64.4L89.4 64.1L86.8 63.7L84.3 63.2L81.8 62.6L79.3 61.9L76.8 61.0L74.3 60.1L71.7 59.0L69.1 57.8L66.4 56.4L63.6 54.9L60.8 53.4L57.9 51.7L55.1 50.2L52.4 48.7L49.7 47.1L47.0 45.5L44.3 43.9L41.6 42.4L38.9 41.1L36.3 39.9L33.9 38.8L31.5 37.9L29.0 37.0L26.4 36.3L23.7 35.7L20.7 35.4L17.5 35.3L14.5 35.6L11.7 36.0L9.5 36.5L7.9 36.9Z" fill="#0e0eb0" opacity="0.4" filter="url(#b15)"/>
<path d="M8.1 41.9L9.7 42.1L12.1 42.3L14.7 42.5L17.5 42.7L20.2 42.8L22.5 43.0L24.6 43.5L26.8 44.1L28.9 44.8L31.0 45.7L33.3 46.7L35.7 47.7L38.1 49.0L40.6 50.4L43.3 51.9L46.0 53.5L48.7 55.1L51.5 56.7L54.3 58.2L57.1 59.8L60.0 61.4L63.0 63.0L65.9 64.5L68.8 65.8L71.6 66.9L74.3 68.0L77.1 68.9L79.8 69.7L82.6 70.4L85.5 71.0L88.4 71.5L91.3 71.8L94.3 72.0L97.3 72.2L100.3 72.2L103.2 72.0L106.1 71.7L108.9 71.1L111.6 70.3L114.2 69.6L116.8 68.8L119.4 68.1L122.3 67.4L125.5 66.7L128.8 65.9L131.8 65.2L134.4 64.6L136.2 64.1L135.8 61.9L133.9 62.0L131.3 62.3L128.2 62.7L124.9 63.1L121.6 63.5L118.6 63.9L115.8 64.3L113.1 64.7L110.4 65.2L107.9 65.5L105.3 65.8L102.8 66.0L100.2 66.1L97.4 66.1L94.7 66.0L91.9 65.7L89.2 65.4L86.5 65.0L84.0 64.5L81.4 63.8L78.9 63.1L76.4 62.2L73.8 61.3L71.2 60.2L68.5 59.0L65.8 57.6L63.0 56.1L60.1 54.5L57.3 52.9L54.5 51.3L51.8 49.8L49.1 48.2L46.4 46.6L43.6 45.0L41.0 43.6L38.3 42.3L35.8 41.1L33.4 40.0L31.0 39.1L28.6 38.2L26.1 37.5L23.5 37.0L20.6 36.7L17.5 36.6L14.5 36.8L11.8 37.3L9.5 37.7L7.9 38.1Z" fill="#1717d8" stroke="#1717d8" stroke-width="0.8" stroke-linejoin="round" filter="url(#b08)"/>
<path d="M16.4 38.0C19.2 37.9 27.1 36.3 32.9 37.0C38.7 37.7 45.2 40.3 51.4 42.1C57.6 44.0 64.1 46.9 69.9 48.3C75.7 49.7 83.6 50.0 86.3 50.4" stroke="#c81c80" stroke-width="2.6" fill="none" opacity="0.32" stroke-linecap="round" filter="url(#b05)"/>
<circle cx="17.6" cy="38.4" r="0.88" fill="#ea2c96" opacity="0.54"/><circle cx="18.0" cy="36.7" r="0.84" fill="#e030b8" opacity="0.92"/><circle cx="19.8" cy="37.6" r="0.86" fill="#e030b8" opacity="0.60"/><circle cx="21.4" cy="36.4" r="0.53" fill="#e030b8" opacity="0.65"/><circle cx="22.8" cy="36.3" r="0.73" fill="#ff2464" opacity="0.58"/><circle cx="25.1" cy="37.0" r="0.70" fill="#ff2464" opacity="0.89"/><circle cx="26.3" cy="36.1" r="0.82" fill="#f02478" opacity="0.67"/><circle cx="27.7" cy="35.9" r="0.41" fill="#ea2c96" opacity="0.53"/><circle cx="29.4" cy="36.2" r="0.95" fill="#c840d8" opacity="0.46"/><circle cx="30.8" cy="35.9" r="0.46" fill="#f02478" opacity="0.51"/><circle cx="31.8" cy="36.1" r="1.00" fill="#c840d8" opacity="0.61"/><circle cx="33.5" cy="36.6" r="0.73" fill="#e030b8" opacity="0.49"/><circle cx="35.0" cy="36.5" r="0.61" fill="#e030b8" opacity="0.95"/><circle cx="37.2" cy="37.1" r="0.89" fill="#e030b8" opacity="0.91"/><circle cx="38.2" cy="38.7" r="0.72" fill="#e030b8" opacity="0.66"/><circle cx="40.2" cy="38.0" r="0.59" fill="#f02478" opacity="0.47"/><circle cx="41.7" cy="39.6" r="0.72" fill="#ff2464" opacity="0.71"/><circle cx="42.1" cy="39.9" r="0.95" fill="#ff2464" opacity="0.76"/><circle cx="43.8" cy="39.0" r="0.69" fill="#f02888" opacity="0.85"/><circle cx="45.1" cy="40.9" r="0.62" fill="#ff2464" opacity="0.81"/><circle cx="47.0" cy="41.3" r="1.01" fill="#ff2464" opacity="0.62"/><circle cx="48.3" cy="40.1" r="0.92" fill="#ff2464" opacity="0.94"/><circle cx="49.4" cy="40.8" r="0.63" fill="#c840d8" opacity="0.66"/><circle cx="50.9" cy="42.0" r="0.72" fill="#e030b8" opacity="0.73"/><circle cx="53.4" cy="41.9" r="0.60" fill="#c840d8" opacity="0.63"/><circle cx="54.2" cy="43.1" r="1.00" fill="#f02888" opacity="0.92"/><circle cx="56.2" cy="42.8" r="0.47" fill="#c840d8" opacity="0.91"/><circle cx="57.1" cy="42.8" r="0.96" fill="#e030b8" opacity="0.63"/><circle cx="58.5" cy="43.5" r="0.76" fill="#f02478" opacity="0.72"/><circle cx="60.0" cy="43.9" r="0.40" fill="#ea2c96" opacity="0.88"/><circle cx="61.8" cy="45.2" r="0.50" fill="#c840d8" opacity="0.56"/><circle cx="63.1" cy="45.0" r="0.64" fill="#c840d8" opacity="0.58"/><circle cx="64.6" cy="45.8" r="1.05" fill="#c840d8" opacity="0.85"/><circle cx="65.5" cy="45.9" r="0.91" fill="#c840d8" opacity="0.64"/><circle cx="67.9" cy="46.8" r="0.67" fill="#ea2c96" opacity="0.60"/><circle cx="69.1" cy="47.8" r="0.52" fill="#f02888" opacity="0.71"/><circle cx="70.4" cy="48.4" r="0.44" fill="#f02888" opacity="0.59"/><circle cx="72.0" cy="47.5" r="0.87" fill="#ea2c96" opacity="0.74"/><circle cx="73.1" cy="48.0" r="0.97" fill="#ea2c96" opacity="0.65"/><circle cx="74.7" cy="47.7" r="0.64" fill="#c840d8" opacity="0.76"/><circle cx="76.0" cy="47.6" r="1.00" fill="#ea2c96" opacity="0.71"/><circle cx="77.8" cy="49.0" r="1.00" fill="#ea2c96" opacity="0.99"/><circle cx="79.6" cy="48.1" r="0.69" fill="#f02888" opacity="0.67"/><circle cx="80.5" cy="48.8" r="1.05" fill="#ff2464" opacity="0.79"/><circle cx="82.3" cy="49.7" r="0.98" fill="#e030b8" opacity="0.78"/><circle cx="83.8" cy="48.9" r="0.66" fill="#f02478" opacity="0.80"/><circle cx="85.0" cy="48.8" r="0.69" fill="#f02888" opacity="0.71"/>
<path d="M16.4 40.1C19.5 40.8 29.1 42.1 35.0 44.2C40.8 46.3 45.9 49.7 51.4 52.4C56.9 55.2 62.0 58.4 67.8 60.6C73.7 62.9 80.5 64.8 86.3 65.8C92.2 66.8 97.3 67.0 102.8 66.8C108.3 66.6 116.5 65.1 119.2 64.8" stroke="#c81c80" stroke-width="2.6" fill="none" opacity="0.32" stroke-linecap="round" filter="url(#b05)"/>
<circle cx="17.1" cy="40.8" r="0.54" fill="#c840d8" opacity="0.57"/><circle cx="18.5" cy="41.4" r="0.85" fill="#e030b8" opacity="0.83"/><circle cx="20.5" cy="42.2" r="0.57" fill="#e030b8" opacity="0.96"/><circle cx="22.0" cy="41.1" r="0.98" fill="#e030b8" opacity="0.83"/><circle cx="22.6" cy="41.5" r="0.59" fill="#c840d8" opacity="0.70"/><circle cx="24.2" cy="41.6" r="1.02" fill="#f02888" opacity="1.00"/><circle cx="25.6" cy="42.1" r="1.04" fill="#e030b8" opacity="0.57"/><circle cx="27.8" cy="43.5" r="0.71" fill="#ff2464" opacity="0.80"/><circle cx="29.2" cy="44.3" r="0.71" fill="#ff2464" opacity="0.57"/><circle cx="30.2" cy="43.3" r="0.61" fill="#ea2c96" opacity="0.63"/><circle cx="31.9" cy="44.9" r="0.88" fill="#f02478" opacity="0.76"/><circle cx="33.0" cy="44.3" r="0.60" fill="#ff2464" opacity="0.57"/><circle cx="34.6" cy="44.6" r="0.52" fill="#ff2464" opacity="0.58"/><circle cx="36.7" cy="44.9" r="0.74" fill="#c840d8" opacity="0.81"/><circle cx="38.0" cy="46.4" r="0.81" fill="#e030b8" opacity="0.98"/><circle cx="39.1" cy="47.4" r="0.43" fill="#ea2c96" opacity="0.87"/><circle cx="39.8" cy="47.8" r="0.61" fill="#f02888" opacity="0.61"/><circle cx="41.8" cy="47.7" r="0.63" fill="#f02888" opacity="0.81"/><circle cx="42.9" cy="47.7" r="0.95" fill="#c840d8" opacity="0.94"/><circle cx="44.5" cy="49.3" r="0.44" fill="#ff2464" opacity="0.96"/><circle cx="45.4" cy="49.0" r="0.46" fill="#f02888" opacity="0.80"/><circle cx="47.2" cy="51.4" r="0.63" fill="#e030b8" opacity="0.56"/><circle cx="48.9" cy="52.7" r="1.01" fill="#c840d8" opacity="0.48"/><circle cx="50.3" cy="53.2" r="1.03" fill="#c840d8" opacity="0.48"/><circle cx="50.7" cy="51.6" r="0.69" fill="#ea2c96" opacity="0.97"/><circle cx="52.8" cy="54.0" r="0.73" fill="#ea2c96" opacity="0.66"/><circle cx="54.2" cy="53.8" r="0.87" fill="#ff2464" opacity="0.97"/><circle cx="55.7" cy="55.4" r="0.72" fill="#c840d8" opacity="0.52"/><circle cx="56.3" cy="56.2" r="0.96" fill="#e030b8" opacity="0.61"/><circle cx="58.3" cy="57.0" r="0.47" fill="#ea2c96" opacity="0.60"/><circle cx="59.4" cy="55.9" r="0.57" fill="#ff2464" opacity="0.53"/><circle cx="60.5" cy="56.6" r="0.74" fill="#ea2c96" opacity="0.99"/><circle cx="62.3" cy="58.8" r="0.88" fill="#ea2c96" opacity="0.79"/><circle cx="63.1" cy="58.2" r="0.47" fill="#f02888" opacity="0.61"/><circle cx="64.5" cy="58.7" r="0.78" fill="#ea2c96" opacity="0.69"/><circle cx="66.2" cy="59.8" r="0.41" fill="#f02888" opacity="0.73"/><circle cx="67.8" cy="60.2" r="0.91" fill="#ff2464" opacity="0.89"/><circle cx="68.5" cy="61.0" r="0.51" fill="#e030b8" opacity="0.92"/><circle cx="70.8" cy="61.1" r="0.82" fill="#ff2464" opacity="0.48"/><circle cx="72.1" cy="62.5" r="0.51" fill="#f02888" opacity="0.58"/><circle cx="73.2" cy="63.5" r="1.04" fill="#e030b8" opacity="0.67"/><circle cx="74.7" cy="62.3" r="0.84" fill="#c840d8" opacity="0.79"/><circle cx="75.8" cy="62.5" r="1.05" fill="#f02478" opacity="0.57"/><circle cx="77.7" cy="63.3" r="0.94" fill="#ea2c96" opacity="0.66"/><circle cx="79.1" cy="64.7" r="0.41" fill="#f02888" opacity="0.89"/><circle cx="80.1" cy="63.6" r="0.46" fill="#ff2464" opacity="0.50"/><circle cx="82.7" cy="64.6" r="0.67" fill="#f02888" opacity="0.91"/><circle cx="83.7" cy="66.4" r="0.86" fill="#f02478" opacity="0.66"/><circle cx="84.6" cy="65.4" r="0.76" fill="#ff2464" opacity="0.63"/><circle cx="87.0" cy="66.5" r="0.56" fill="#ea2c96" opacity="0.49"/><circle cx="87.8" cy="66.0" r="0.97" fill="#e030b8" opacity="0.80"/><circle cx="89.6" cy="66.1" r="1.02" fill="#e030b8" opacity="0.57"/><circle cx="91.0" cy="67.5" r="0.55" fill="#e030b8" opacity="0.66"/><circle cx="92.1" cy="66.0" r="1.00" fill="#f02478" opacity="0.65"/><circle cx="94.3" cy="67.5" r="0.55" fill="#e030b8" opacity="0.83"/><circle cx="95.1" cy="66.2" r="0.50" fill="#ea2c96" opacity="0.91"/><circle cx="96.6" cy="67.1" r="0.89" fill="#e030b8" opacity="0.93"/><circle cx="99.0" cy="67.8" r="0.45" fill="#c840d8" opacity="0.99"/><circle cx="100.8" cy="67.5" r="0.93" fill="#ea2c96" opacity="0.48"/><circle cx="101.9" cy="68.0" r="0.42" fill="#e030b8" opacity="0.51"/><circle cx="103.7" cy="66.6" r="0.52" fill="#ea2c96" opacity="0.61"/><circle cx="104.8" cy="66.4" r="1.01" fill="#c840d8" opacity="0.86"/><circle cx="106.6" cy="66.8" r="0.98" fill="#f02478" opacity="0.52"/><circle cx="107.8" cy="66.0" r="0.95" fill="#e030b8" opacity="0.76"/><circle cx="109.3" cy="65.8" r="0.54" fill="#ff2464" opacity="0.85"/><circle cx="110.4" cy="65.5" r="0.74" fill="#ea2c96" opacity="0.54"/><circle cx="112.8" cy="66.6" r="0.74" fill="#ea2c96" opacity="0.76"/><circle cx="113.6" cy="65.3" r="0.97" fill="#f02478" opacity="0.48"/><circle cx="115.2" cy="66.4" r="0.64" fill="#f02888" opacity="0.98"/><circle cx="117.4" cy="65.5" r="0.86" fill="#f02888" opacity="0.70"/><circle cx="118.3" cy="64.8" r="0.65" fill="#c840d8" opacity="0.62"/>
<circle cx="16.1" cy="38.0" r="0.72" fill="#ea2c96" opacity="0.89"/>
<circle cx="18.3" cy="40.9" r="0.61" fill="#ff2464" opacity="0.91"/>
<circle cx="19.3" cy="38.8" r="0.96" fill="#ff2464" opacity="0.60"/>
<circle cx="16.9" cy="38.3" r="0.66" fill="#e030b8" opacity="0.64"/>
<circle cx="18.0" cy="38.4" r="0.64" fill="#e030b8" opacity="0.80"/>
<circle cx="16.3" cy="39.7" r="0.68" fill="#f02478" opacity="0.57"/>
<circle cx="18.6" cy="40.2" r="0.96" fill="#f02478" opacity="0.94"/>
<circle cx="18.9" cy="37.8" r="0.55" fill="#ff2464" opacity="0.83"/>
<circle cx="18.8" cy="37.6" r="0.92" fill="#e030b8" opacity="0.61"/>
<circle cx="22.2" cy="37.2" r="0.49" fill="#ea2c96" opacity="0.81"/>
<circle cx="20.6" cy="38.5" r="0.50" fill="#ff2464" opacity="0.55"/>
<circle cx="22.0" cy="38.2" r="0.85" fill="#ea2c96" opacity="0.89"/>
<circle cx="15.2" cy="40.6" r="0.54" fill="#e030b8" opacity="0.71"/>
<circle cx="17.2" cy="39.4" r="0.79" fill="#e030b8" opacity="0.97"/>
<circle cx="75.4" cy="50.2" r="0.97" fill="#ea2c96" opacity="0.71"/>
<circle cx="58.9" cy="50.3" r="0.63" fill="#ea2c96" opacity="0.51"/>
<circle cx="68.9" cy="51.7" r="0.95" fill="#f02478" opacity="0.96"/>
<circle cx="68.1" cy="50.0" r="0.48" fill="#e030b8" opacity="0.84"/>
<circle cx="78.5" cy="48.9" r="0.98" fill="#e030b8" opacity="0.76"/>
<circle cx="63.4" cy="47.9" r="0.55" fill="#f02478" opacity="0.87"/>
<circle cx="73.8" cy="47.8" r="0.96" fill="#e030b8" opacity="0.95"/>
<circle cx="75.7" cy="47.5" r="0.67" fill="#ea2c96" opacity="0.94"/>
<circle cx="79.7" cy="50.6" r="0.56" fill="#ea2c96" opacity="0.68"/>
<circle cx="58.6" cy="51.5" r="0.93" fill="#ea2c96" opacity="0.62"/>
<rect x="116" y="95.6" width="16.8" height="1.4" fill="#fff"/>
<g transform="translate(99.0,0)">
<g clip-path="url(#ic)">
<rect width="40.0" height="37.5" fill="#1818e8"/>
<rect width="40.0" height="37.5" filter="url(#nzi)" opacity="0.35"/>
<path d="M-4.0 11.7C-3.4 11.9 -3.8 11.8 -0.2 12.9C3.5 14.1 11.4 16.4 17.9 18.5C24.5 20.7 35.0 24.4 39.2 25.9C43.4 27.3 42.4 26.9 43.0 27.2" stroke="#020216" stroke-width="12.5" fill="none" filter="url(#b1)"/>
<path d="M3.3 7.8C4.3 7.9 7.1 8.7 9.3 8.6C11.5 8.5 14.5 7.0 16.6 7.3C18.8 7.7 20.3 9.8 22.2 10.8C24.2 11.7 25.7 12.2 28.3 12.9C30.9 13.6 36.2 14.7 37.8 15.1" stroke="#f0209a" stroke-width="2.4" fill="none" opacity="0.5" stroke-linecap="round" filter="url(#b08)"/>
<circle cx="3.5" cy="8.2" r="0.72" fill="#e050f0" opacity="0.62"/>
<circle cx="4.4" cy="8.7" r="0.88" fill="#ff2080" opacity="0.91"/>
<circle cx="6.1" cy="7.6" r="0.86" fill="#ff2080" opacity="0.79"/>
<circle cx="8.3" cy="7.7" r="0.67" fill="#ff30a0" opacity="0.89"/>
<circle cx="9.5" cy="9.0" r="0.51" fill="#f040d0" opacity="0.78"/>
<circle cx="10.5" cy="8.2" r="0.56" fill="#ff30a0" opacity="0.94"/>
<circle cx="12.5" cy="7.5" r="0.53" fill="#e050f0" opacity="0.81"/>
<circle cx="15.0" cy="8.6" r="0.48" fill="#ff30a0" opacity="0.96"/>
<circle cx="17.1" cy="7.8" r="0.47" fill="#ff30a0" opacity="0.75"/>
<circle cx="18.2" cy="7.0" r="0.76" fill="#e050f0" opacity="0.77"/>
<circle cx="19.2" cy="8.8" r="0.91" fill="#ff2080" opacity="0.67"/>
<circle cx="21.6" cy="10.5" r="0.75" fill="#ff2080" opacity="0.97"/>
<circle cx="21.5" cy="9.7" r="0.61" fill="#ff2080" opacity="1.00"/>
<circle cx="24.2" cy="11.4" r="0.72" fill="#ff2080" opacity="0.89"/>
<circle cx="25.5" cy="11.3" r="0.57" fill="#f040d0" opacity="0.68"/>
<circle cx="26.3" cy="11.4" r="0.90" fill="#ff2080" opacity="0.93"/>
<circle cx="28.2" cy="13.4" r="0.77" fill="#e050f0" opacity="0.76"/>
<circle cx="30.2" cy="12.5" r="0.61" fill="#f040d0" opacity="0.71"/>
<circle cx="33.0" cy="13.9" r="0.58" fill="#e050f0" opacity="0.66"/>
<circle cx="35.9" cy="14.6" r="0.65" fill="#ff30a0" opacity="0.64"/>
<circle cx="38.3" cy="14.6" r="0.73" fill="#ff30a0" opacity="0.63"/>
<path d="M1.6 20.7C3.3 21.3 9.0 23.6 11.9 24.6C14.8 25.6 16.6 26.0 18.8 26.7C20.9 27.4 22.5 27.9 24.8 28.9C27.1 29.8 31.3 31.8 32.6 32.3" stroke="#f0209a" stroke-width="2.4" fill="none" opacity="0.5" stroke-linecap="round" filter="url(#b08)"/>
<circle cx="2.2" cy="21.5" r="0.65" fill="#ff2080" opacity="0.61"/>
<circle cx="3.3" cy="21.6" r="0.89" fill="#ff2080" opacity="0.81"/>
<circle cx="5.7" cy="21.9" r="0.86" fill="#e050f0" opacity="0.94"/>
<circle cx="8.8" cy="22.9" r="0.52" fill="#ff2080" opacity="0.60"/>
<circle cx="12.6" cy="25.1" r="0.91" fill="#ff2080" opacity="0.65"/>
<circle cx="13.1" cy="24.3" r="0.50" fill="#ff2080" opacity="0.78"/>
<circle cx="16.2" cy="25.5" r="0.48" fill="#f040d0" opacity="0.87"/>
<circle cx="18.0" cy="26.9" r="0.82" fill="#ff30a0" opacity="0.82"/>
<circle cx="18.1" cy="26.7" r="0.60" fill="#e050f0" opacity="0.85"/>
<circle cx="20.0" cy="26.1" r="0.55" fill="#f040d0" opacity="0.75"/>
<circle cx="22.5" cy="28.2" r="0.80" fill="#ff2080" opacity="0.75"/>
<circle cx="23.9" cy="29.4" r="0.50" fill="#ff30a0" opacity="0.80"/>
<circle cx="24.3" cy="29.3" r="0.72" fill="#e050f0" opacity="0.70"/>
<circle cx="27.5" cy="29.6" r="0.53" fill="#e050f0" opacity="0.72"/>
<circle cx="28.9" cy="31.9" r="0.76" fill="#ff2080" opacity="0.72"/>
<circle cx="31.5" cy="32.5" r="0.50" fill="#ff30a0" opacity="0.61"/>
<circle cx="33.3" cy="32.2" r="0.90" fill="#e050f0" opacity="0.64"/>
<ellipse cx="3.3" cy="7.8" rx="2.1" ry="1.5" fill="#ff2080" filter="url(#b07)"/>
<ellipse cx="9.3" cy="8.6" rx="1.6" ry="1.2" fill="#ff2080" filter="url(#b07)"/>
<ellipse cx="16.6" cy="7.3" rx="3.0" ry="2.2" fill="#ff20c0" filter="url(#b07)"/>
<ellipse cx="22.2" cy="10.8" rx="1.6" ry="1.2" fill="#ff30c0" filter="url(#b07)"/>
<ellipse cx="28.3" cy="12.9" rx="2.8" ry="2.0" fill="#ff20a0" filter="url(#b07)"/>
<ellipse cx="37.8" cy="15.1" rx="2.1" ry="1.5" fill="#f040e0" filter="url(#b07)"/>
<ellipse cx="1.6" cy="20.7" rx="1.8" ry="1.4" fill="#f040e0" filter="url(#b07)"/>
<ellipse cx="11.9" cy="24.6" rx="2.2" ry="1.6" fill="#ff30b0" filter="url(#b07)"/>
<ellipse cx="18.8" cy="26.7" rx="1.8" ry="1.4" fill="#f030e0" filter="url(#b07)"/>
<ellipse cx="24.8" cy="28.9" rx="2.0" ry="1.4" fill="#f030e0" filter="url(#b07)"/>
<ellipse cx="32.6" cy="32.3" rx="2.0" ry="1.4" fill="#f040f0" filter="url(#b07)"/>
</g>
<path d="M0.5 0V37.3H40.0" stroke="#d4d4f6" stroke-width="1.15" fill="none"/>
</g>
</g>
<text x="1.4" y="14.7" font-size="19.50" font-weight="bold" text-anchor="start" fill="#000">A</text>
<text x="518.0" y="16.0" font-size="18.00" font-weight="bold" text-anchor="start" fill="#000">B</text>
<text x="1.0" y="279.0" font-size="19.00" font-weight="bold" text-anchor="start" fill="#000">C</text>
<text x="520.0" y="279.9" font-size="18.00" font-weight="bold" text-anchor="start" fill="#000">D</text>
<text x="72.1" y="10.8" font-size="12.20" font-weight="bold" text-anchor="start" fill="#000" textLength="34.8" lengthAdjust="spacingAndGlyphs">Vehicle</text>
<text x="219.7" y="10.8" font-size="12.20" font-weight="bold" text-anchor="start" fill="#000" textLength="31.4" lengthAdjust="spacingAndGlyphs">CORT</text>
<text x="316.5" y="11.0" font-size="12.20" font-weight="bold" text-anchor="start" fill="#000" textLength="129.3" lengthAdjust="spacingAndGlyphs">CORT/Baicalin (40 mg/kg)</text>
<text x="30.0" y="244.5" font-size="12.20" font-weight="bold" text-anchor="start" fill="#000" textLength="128.6" lengthAdjust="spacingAndGlyphs">CORT/Baicalin (80 mg/kg)</text>
<text x="169.0" y="244.7" font-size="12.20" font-weight="bold" text-anchor="start" fill="#000" textLength="134.0" lengthAdjust="spacingAndGlyphs">CORT/Baicalin (160 mg/kg)</text>
<text x="311.0" y="245.0" font-size="12.20" font-weight="bold" text-anchor="start" fill="#000" textLength="139.7" lengthAdjust="spacingAndGlyphs">CORT/Fluoxetine (18 mg/kg)</text>
<text x="70.7" y="271.7" font-size="12.20" font-weight="bold" text-anchor="start" fill="#000" textLength="35.3" lengthAdjust="spacingAndGlyphs">Vehicle</text>
<text x="218.7" y="271.5" font-size="12.20" font-weight="bold" text-anchor="start" fill="#000" textLength="32.0" lengthAdjust="spacingAndGlyphs">CORT</text>
<text x="315.2" y="271.5" font-size="12.20" font-weight="bold" text-anchor="start" fill="#000" textLength="129.8" lengthAdjust="spacingAndGlyphs">CORT/Baicalin (40 mg/kg)</text>
<text x="33.0" y="506.6" font-size="12.20" font-weight="bold" text-anchor="start" fill="#000" textLength="128.6" lengthAdjust="spacingAndGlyphs">CORT/Baicalin (80 mg/kg)</text>
<text x="171.2" y="506.6" font-size="12.20" font-weight="bold" text-anchor="start" fill="#000" textLength="134.6" lengthAdjust="spacingAndGlyphs">CORT/Baicalin (160 mg/kg)</text>
<text x="313.2" y="506.8" font-size="12.20" font-weight="bold" text-anchor="start" fill="#000" textLength="140.2" lengthAdjust="spacingAndGlyphs">CORT/Fluoxetine (18 mg/kg)</text>
<path d="M555.0 114.4V109.5M550.0 109.5H560.0" stroke="#5a5a5a" stroke-width="0.8" fill="none"/>
<rect x="545.4" y="114.4" width="19.2" height="88.2" fill="#d8d8d8"/>
<path d="M576.4 144.9V139.6M571.4 139.6H581.4" stroke="#222" stroke-width="0.8" fill="none"/>
<rect x="566.9" y="144.9" width="19.0" height="57.7" fill="#000000"/>
<path d="M598.0 135.0V130.3M593.0 130.3H603.0" stroke="#1c2c1c" stroke-width="0.8" fill="none"/>
<rect x="588.0" y="135.0" width="20.0" height="67.6" fill="#00ff00"/>
<path d="M619.2 116.7V110.3M614.2 110.3H624.2" stroke="#1c1c3c" stroke-width="0.8" fill="none"/>
<rect x="609.6" y="116.7" width="19.3" height="85.9" fill="#0000ff"/>
<path d="M640.6 130.6V124.2M635.6 124.2H645.6" stroke="#3c1c1c" stroke-width="0.8" fill="none"/>
<rect x="631.1" y="130.6" width="19.1" height="72.0" fill="#ff0000"/>
<path d="M662.1 120.0V112.1M657.1 112.1H667.1" stroke="#2c1c34" stroke-width="0.8" fill="none"/>
<rect x="652.2" y="120.0" width="19.7" height="82.6" fill="#d000f0"/>
<path d="M530.2 90.2V202.8H691" stroke="#262626" stroke-width="1.6" fill="none"/>
<path d="M528.4 90.5H532" stroke="#111" stroke-width="1"/>
<text x="527.8" y="93.5" font-size="9.00" font-weight="bold" text-anchor="end" fill="#000">60</text>
<path d="M528.4 127.9H532" stroke="#111" stroke-width="1"/>
<text x="527.8" y="130.9" font-size="9.00" font-weight="bold" text-anchor="end" fill="#000">40</text>
<path d="M528.4 165.2H532" stroke="#111" stroke-width="1"/>
<text x="527.8" y="168.2" font-size="9.00" font-weight="bold" text-anchor="end" fill="#000">20</text>
<path d="M528.4 202.6H532" stroke="#111" stroke-width="1"/>
<text x="527.8" y="205.6" font-size="9.00" font-weight="bold" text-anchor="end" fill="#000">0</text>
<text x="576.1" y="139.2" font-size="10.00" font-weight="bold" text-anchor="middle" fill="#444">**</text>
<text x="619.8" y="105.6" font-size="12.00" font-weight="normal" text-anchor="middle" fill="#000">#</text>
<text x="662.6" y="106.7" font-size="12.00" font-weight="normal" text-anchor="middle" fill="#000">#</text>
<text transform="translate(513.2,175.4) rotate(-90)" font-size="8.6" font-weight="bold" textLength="57" lengthAdjust="spacingAndGlyphs">Ki-67<tspan dy="-3" font-size="5.5">+</tspan><tspan dy="3"> cells/mm</tspan><tspan dy="-3" font-size="5.5">2</tspan></text>
<rect x="545.2" y="24.8" width="16.7" height="6.6" fill="#d8d8d8"/>
<text x="568.0" y="30.4" font-size="6.40" font-weight="bold" text-anchor="start" fill="#000" textLength="18.5" lengthAdjust="spacingAndGlyphs">Vehicle</text>
<rect x="545.2" y="33.4" width="16.7" height="6.6" fill="#000000"/>
<text x="568.0" y="39.0" font-size="6.40" font-weight="bold" text-anchor="start" fill="#000" textLength="16.5" lengthAdjust="spacingAndGlyphs">CORT</text>
<rect x="545.2" y="42.0" width="16.7" height="6.6" fill="#00ff00"/>
<text x="568.0" y="47.6" font-size="6.40" font-weight="bold" text-anchor="start" fill="#000" textLength="69.8" lengthAdjust="spacingAndGlyphs">CORT/Baicalin (40 mg/kg)</text>
<rect x="545.2" y="50.5" width="16.7" height="6.6" fill="#0000ff"/>
<text x="568.0" y="56.1" font-size="6.40" font-weight="bold" text-anchor="start" fill="#000" textLength="70.2" lengthAdjust="spacingAndGlyphs">CORT/Baicalin (80 mg/kg)</text>
<rect x="545.2" y="59.1" width="16.7" height="6.6" fill="#ff0000"/>
<text x="568.0" y="64.7" font-size="6.40" font-weight="bold" text-anchor="start" fill="#000" textLength="73.0" lengthAdjust="spacingAndGlyphs">CORT/Baicalin (160 mg/kg)</text>
<rect x="545.2" y="67.7" width="16.7" height="6.6" fill="#d000f0"/>
<text x="568.0" y="73.3" font-size="6.40" font-weight="bold" text-anchor="start" fill="#000" textLength="77.1" lengthAdjust="spacingAndGlyphs">CORT/ Fluoxetine (18 mg/kg)</text>
<path d="M554.9 376.4V370.4M549.9 370.4H559.9" stroke="#5a5a5a" stroke-width="0.8" fill="none"/>
<rect x="545.4" y="376.4" width="19.0" height="91.7" fill="#d8d8d8"/>
<path d="M575.9 407.1V405.0M570.9 405.0H580.9" stroke="#222" stroke-width="0.8" fill="none"/>
<rect x="566.4" y="407.1" width="19.0" height="61.0" fill="#000000"/>
<path d="M596.7 396.9V393.3M591.7 393.3H601.7" stroke="#1c2c1c" stroke-width="0.8" fill="none"/>
<rect x="587.2" y="396.9" width="19.0" height="71.2" fill="#00ff00"/>
<path d="M617.6 389.0V386.7M612.6 386.7H622.6" stroke="#1c1c3c" stroke-width="0.8" fill="none"/>
<rect x="608.1" y="389.0" width="19.0" height="79.1" fill="#0000ff"/>
<path d="M638.8 392.6V389.7M633.8 389.7H643.8" stroke="#3c1c1c" stroke-width="0.8" fill="none"/>
<rect x="629.3" y="392.6" width="19.0" height="75.5" fill="#ff0000"/>
<path d="M659.6 366.0V361.4M654.6 361.4H664.6" stroke="#2c1c34" stroke-width="0.8" fill="none"/>
<rect x="650.1" y="366.0" width="19.0" height="102.1" fill="#d000f0"/>
<path d="M530.2 355.6V468.3H700" stroke="#262626" stroke-width="1.6" fill="none"/>
<path d="M528.4 356.1H532" stroke="#111" stroke-width="1"/>
<text x="528.2" y="359.1" font-size="9.00" font-weight="bold" text-anchor="end" fill="#000">1200</text>
<path d="M528.4 384.1H532" stroke="#111" stroke-width="1"/>
<text x="528.2" y="387.1" font-size="9.00" font-weight="bold" text-anchor="end" fill="#000">900</text>
<path d="M528.4 412.1H532" stroke="#111" stroke-width="1"/>
<text x="528.2" y="415.1" font-size="9.00" font-weight="bold" text-anchor="end" fill="#000">600</text>
<path d="M528.4 440.1H532" stroke="#111" stroke-width="1"/>
<text x="528.2" y="443.1" font-size="9.00" font-weight="bold" text-anchor="end" fill="#000">300</text>
<path d="M528.4 468.1H532" stroke="#111" stroke-width="1"/>
<text x="528.2" y="471.1" font-size="9.00" font-weight="bold" text-anchor="end" fill="#000">0</text>
<text x="575.8" y="403.0" font-size="10.00" font-weight="bold" text-anchor="middle" fill="#444">***</text>
<text x="618.1" y="382.6" font-size="12.00" font-weight="normal" text-anchor="middle" fill="#000" textLength="17.6" lengthAdjust="spacingAndGlyphs">###</text>
<text x="638.6" y="385.7" font-size="12.00" font-weight="normal" text-anchor="middle" fill="#000" textLength="11.4" lengthAdjust="spacingAndGlyphs">##</text>
<text x="659.8" y="357.4" font-size="12.00" font-weight="normal" text-anchor="middle" fill="#000" textLength="17.6" lengthAdjust="spacingAndGlyphs">###</text>
<text transform="translate(503.2,439.6) rotate(-90)" font-size="8.6" font-weight="bold" textLength="55" lengthAdjust="spacingAndGlyphs">DCX<tspan dy="-3" font-size="5.5">+</tspan><tspan dy="3"> cells/mm</tspan><tspan dy="-3" font-size="5.5">2</tspan></text>
</svg></body></html>
